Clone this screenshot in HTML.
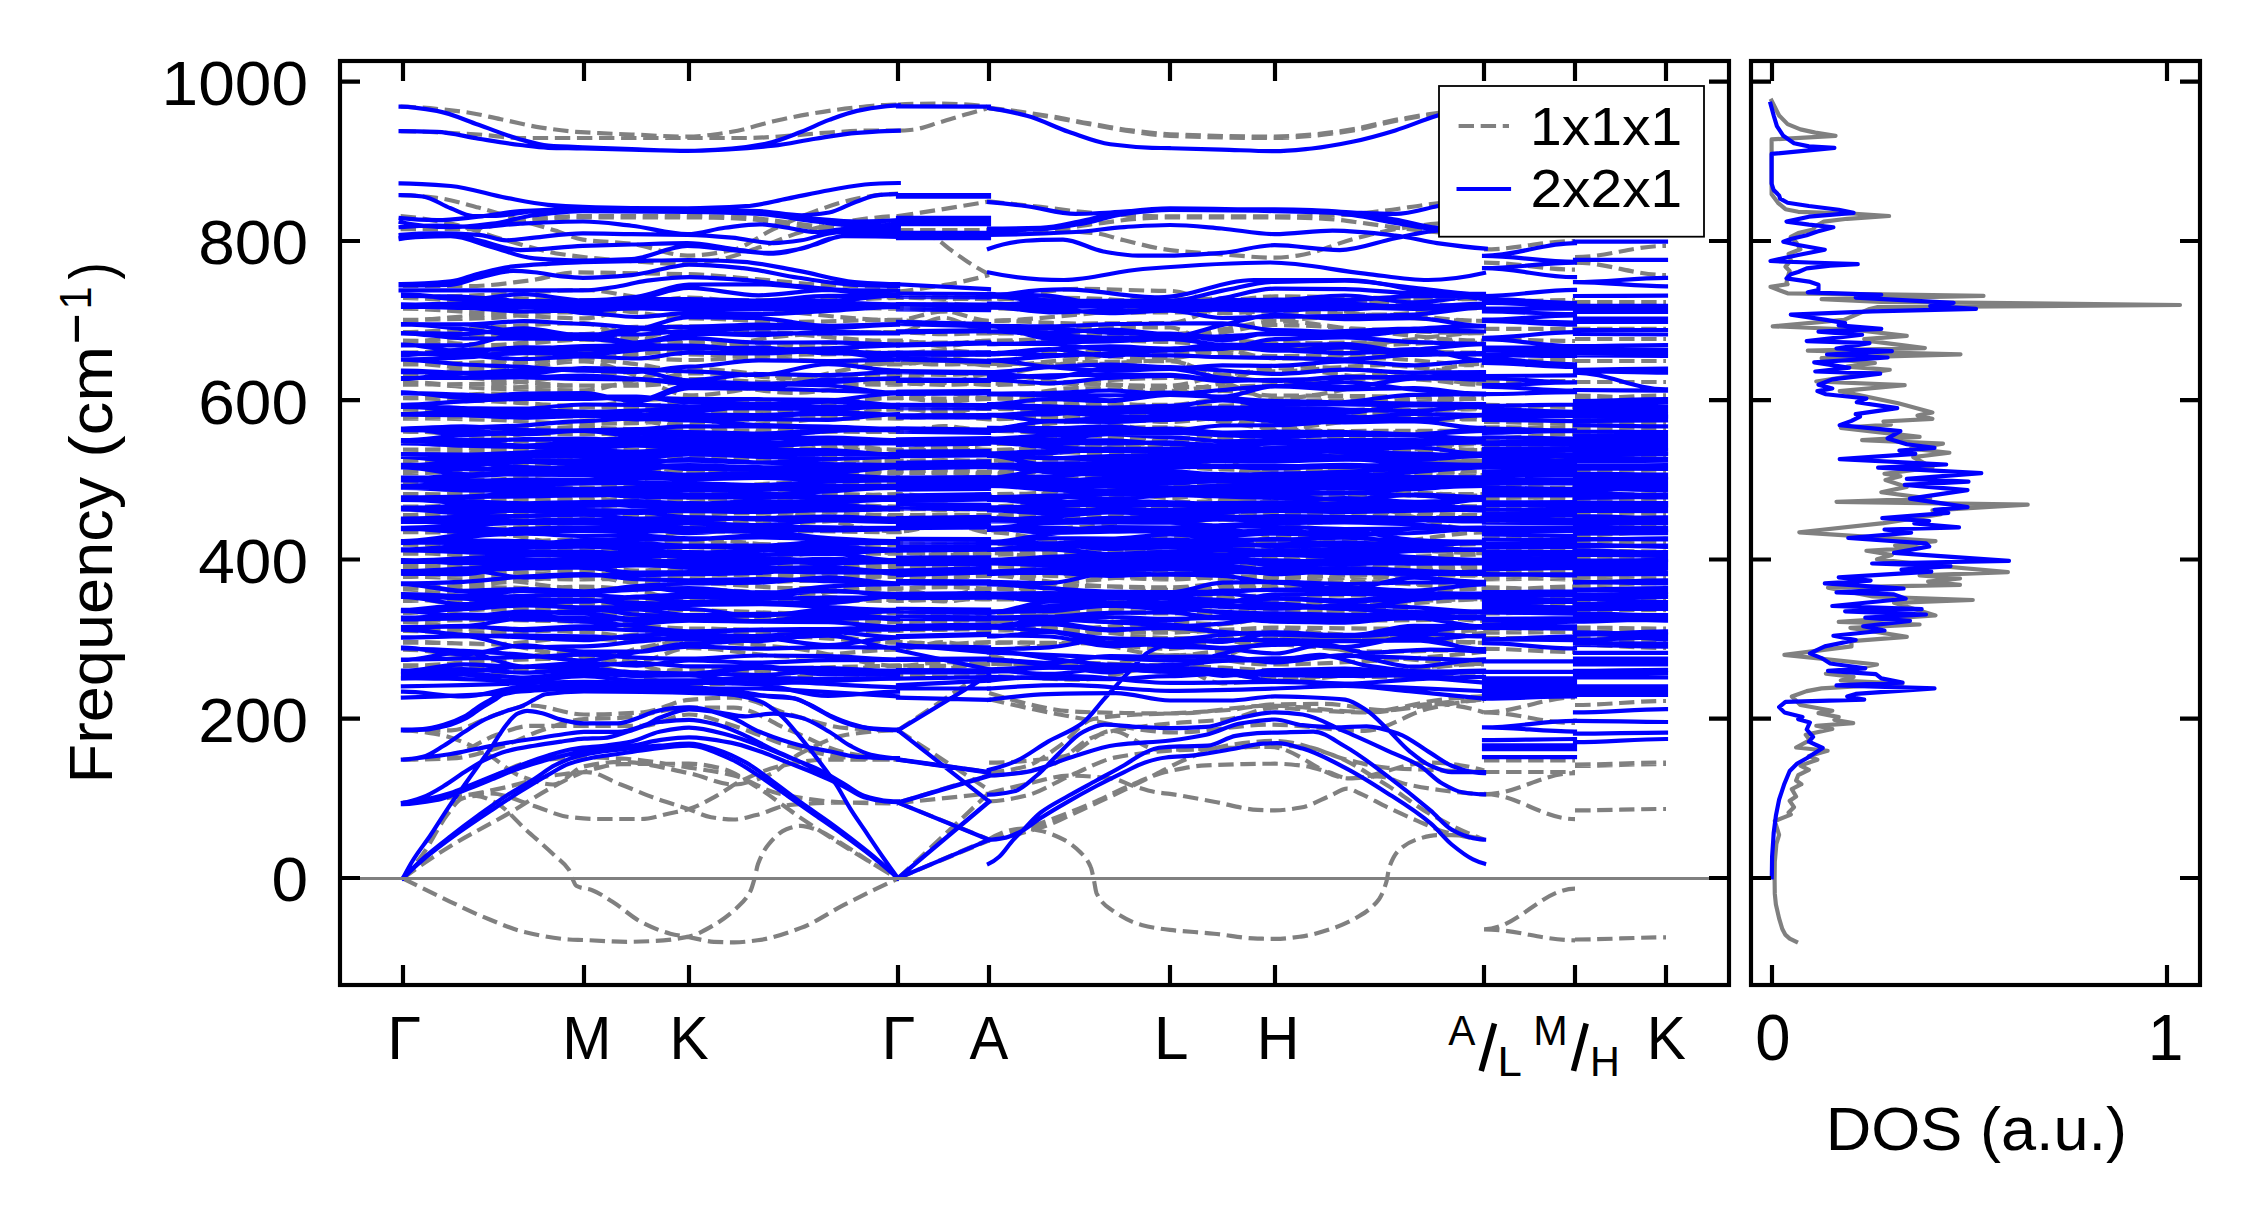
<!DOCTYPE html>
<html><head><meta charset="utf-8"><title>Phonon bands</title>
<style>html,body{margin:0;padding:0;background:#fff}svg{display:block}text{font-family:"Liberation Sans",sans-serif;fill:#000}</style></head>
<body>
<svg width="2259" height="1221" viewBox="0 0 2259 1221">
<rect width="2259" height="1221" fill="#fff"/>
<g fill="none" stroke="#808080" stroke-width="4.17" stroke-dasharray="15.4 6.67" stroke-linejoin="round">
<path d="M403 297.4c30.2 0 60.3-1.7 90.5-2.9 30.2-1.2 60.3-4.5 90.5-4.5 17.5 0 35 4.5 52.5 7.2 17.5 2.7 35 9.3 52.5 9.3 34.8 0 69.7-3.9 104.5-5.4 34.8-1.4 69.7-3.7 104.5-3.7 15.2 0 30.3 1.4 45.5 1.4 15.2 0 30.3 0 45.5 0 30.2 0 60.3-10 90.5-10 30.2 0 60.3 2.1 90.5 2.1 17.5 0 35 11.8 52.5 13.4 17.5 1.6 35 3 52.5 3 34.8 0 69.7-5.9 104.5-6.8 34.8-0.9 69.7-1.7 104.5-1.7M403 297.8c30.2 0 60.3-0.1 90.5-0.1 30.2 0 60.3 3.2 90.5 3.2 17.5 0 35 3.7 52.5 3.7 17.5 0 35-4 52.5-4 34.8 0 69.7-0.4 104.5-0.8 34.8-0.4 69.7-2 104.5-2 15.2 0 30.3-0.1 45.5-0.1 15.2 0 30.3-0.3 45.5-0.3 30.2 0 60.3 0.3 90.5 0.7 30.2 0.4 60.3 4.1 90.5 4.1 17.5 0 35-3.7 52.5-3.7 17.5 0 35 5.2 52.5 5.2 34.8 0 69.7-1.6 104.5-2.6 34.8-1 69.7-3.7 104.5-3.7M403 298c30.2 0 60.3 4.2 90.5 4.2 30.2 0 60.3-0.8 90.5-0.8 17.5 0 35-2.8 52.5-2.8 17.5 0 35 1.2 52.5 1.2 34.8 0 69.7 2 104.5 2 34.8 0 69.7-3.8 104.5-3.8 15.2 0 30.3-1.8 45.5-1.8 15.2 0 30.3 3 45.5 3 30.2 0 60.3 0.2 90.5 0.4 30.2 0.2 60.3 3.5 90.5 3.5 17.5 0 35-1.2 52.5-2.2 17.5-1 35-4.5 52.5-4.5 34.8 0 69.7 1 104.5 1.4 34.8 0.5 69.7 1.4 104.5 1.4M403 306.9c30.2 0 60.3 0.7 90.5 0.7 30.2 0 60.3-1.6 90.5-1.6 17.5 0 35-1.8 52.5-1.8 17.5 0 35 0.8 52.5 0.8 34.8 0 69.7-0.8 104.5-0.8 34.8 0 69.7 2.7 104.5 2.7 15.2 0 30.3-3.5 45.5-3.5 15.2 0 30.3 2.8 45.5 2.8 30.2 0 60.3-3 90.5-3 30.2 0 60.3 1.1 90.5 1.1 17.5 0 35-2.6 52.5-2.6 17.5 0 35 1 52.5 1 34.8 0 69.7-0.7 104.5-0.7 34.8 0 69.7 4.2 104.5 4.2M403 307.8c30.2 0 60.3-2.1 90.5-3.3 30.2-1.3 60.3-4.4 90.5-4.4 17.5 0 35 0.3 52.5 0.6 17.5 0.4 35 2.9 52.5 2.9 34.8 0 69.7-1.2 104.5-1.2 34.8 0 69.7 5.4 104.5 5.4 15.2 0 30.3 3.8 45.5 3.8 15.2 0 30.3-4.4 45.5-4.4 30.2 0 60.3-4.1 90.5-5.3 30.2-1.1 60.3-2.5 90.5-2.5 17.5 0 35-0.7 52.5-0.7 17.5 0 35 3.4 52.5 3.4 34.8 0 69.7 4.3 104.5 4.6 34.8 0.3 69.7 0.5 104.5 0.5M403 308.7c30.2 0 60.3 4.2 90.5 4.2 30.2 0 60.3-0.6 90.5-0.6 17.5 0 35-4 52.5-4 17.5 0 35 0.8 52.5 0.8 34.8 0 69.7-3.3 104.5-3.3 34.8 0 69.7 2.9 104.5 2.9 15.2 0 30.3-2.3 45.5-2.3 15.2 0 30.3 1.8 45.5 1.8 30.2 0 60.3 4.5 90.5 4.5 30.2 0 60.3-0.2 90.5-0.2 17.5 0 35-1.9 52.5-2.5 17.5-0.5 35-1.1 52.5-1.1 34.8 0 69.7-2 104.5-2 34.8 0 69.7 1.3 104.5 1.3M403 307.6c30.2 0 60.3-1 90.5-1.5 30.2-0.5 60.3-1.4 90.5-1.4 17.5 0 35 4.2 52.5 4.2 17.5 0 35-3.4 52.5-3.4 34.8 0 69.7-3.3 104.5-3.3 34.8 0 69.7 5.4 104.5 5.4 15.2 0 30.3-1.7 45.5-1.7 15.2 0 30.3 0.6 45.5 0.6 30.2 0 60.3-6.8 90.5-6.8 30.2 0 60.3 1.9 90.5 1.9 17.5 0 35 11.6 52.5 11.6 17.5 0 35-1.9 52.5-1.9 34.8 0 69.7 3.3 104.5 3.3 34.8 0 69.7-8.1 104.5-8.1M403 319.8c30.2 0 60.3-0.9 90.5-2 30.2-1.1 60.3-10.1 90.5-10.1 17.5 0 35 3 52.5 4.8 17.5 1.8 35 5.9 52.5 5.9 34.8 0 69.7 3.5 104.5 3.5 34.8 0 69.7-2.1 104.5-2.1 15.2 0 30.3-8.5 45.5-8.5 15.2 0 30.3 9.5 45.5 9.5 30.2 0 60.3-3.8 90.5-6.3 30.2-2.4 60.3-8.5 90.5-8.5 17.5 0 35 0.4 52.5 1.1 17.5 0.7 35 12.6 52.5 12.6 34.8 0 69.7-5.1 104.5-5.1 34.8 0 69.7 6.2 104.5 6.2M403 320.2c30.2 0 60.3-5.1 90.5-5.1 30.2 0 60.3 3.3 90.5 3.3 17.5 0 35-9.2 52.5-12.5 17.5-3.4 35-8.4 52.5-8.4 34.8 0 69.7 11.4 104.5 14.9 34.8 3.4 69.7 7.8 104.5 7.8 15.2 0 30.3 4.5 45.5 4.5 15.2 0 30.3-3.9 45.5-3.9 30.2 0 60.3 2.7 90.5 2.7 30.2 0 60.3-0.5 90.5-0.5 17.5 0 35-13.5 52.5-15.7 17.5-2.2 35-4.3 52.5-4.3 34.8 0 69.7 10.7 104.5 13 34.8 2.3 69.7 4.8 104.5 4.8M403 332.1c30.2 0 60.3-3.7 90.5-5.1 30.2-1.5 60.3-3.9 90.5-3.9 17.5 0 35 15.7 52.5 18.9 17.5 3.1 35 6.3 52.5 6.3 34.8 0 69.7-11.3 104.5-13 34.8-1.7 69.7-3.2 104.5-3.2 15.2 0 30.3-14.3 45.5-14.3 15.2 0 30.3 15.1 45.5 15.1 30.2 0 60.3-5.1 90.5-5.2 30.2-0.1 60.3-0.2 90.5-0.2 17.5 0 35 21.4 52.5 21.4 17.5 0 35-1.5 52.5-1.5 34.8 0 69.7-2.6 104.5-4.7 34.8-2.2 69.7-9.8 104.5-9.8M403 332.2c30.2 0 60.3 1 90.5 1.8 30.2 0.7 60.3 2.9 90.5 2.9 17.5 0 35-0.1 52.5-0.3 17.5-0.3 35-5.9 52.5-5.9 34.8 0 69.7 2.3 104.5 2.3 34.8 0 69.7-0.8 104.5-0.8 15.2 0 30.3 2 45.5 2 15.2 0 30.3-0.9 45.5-0.9 30.2 0 60.3 0.7 90.5 1.5 30.2 0.7 60.3 4.7 90.5 4.7 17.5 0 35-4.6 52.5-7 17.5-2.5 35-7.5 52.5-7.5 34.8 0 69.7 3.4 104.5 4.8 34.8 1.3 69.7 3.5 104.5 3.5M403 341.2c30.2 0 60.3-4.7 90.5-5.5 30.2-0.9 60.3-1.7 90.5-1.7 17.5 0 35-6.9 52.5-7.1 17.5-0.3 35-0.5 52.5-0.5 34.8 0 69.7 5.4 104.5 7.8 34.8 2.5 69.7 7 104.5 7 15.2 0 30.3 2.6 45.5 2.6 15.2 0 30.3-3.1 45.5-3.1 30.2 0 60.3-0.6 90.5-1.3 30.2-0.7 60.3-5.3 90.5-5.3 17.5 0 35-2.9 52.5-4.9 17.5-2.1 35-8 52.5-8 34.8 0 69.7 8.1 104.5 11.3 34.8 3.1 69.7 8.2 104.5 8.2M403 340.5c30.2 0 60.3 4.5 90.5 4.5 30.2 0 60.3-10.6 90.5-10.6 17.5 0 35 2.9 52.5 3.9 17.5 0.9 35 2.3 52.5 2.3 34.8 0 69.7 3 104.5 3 34.8 0 69.7-3.1 104.5-3.1 15.2 0 30.3 5.8 45.5 5.8 15.2 0 30.3-5.7 45.5-5.7 30.2 0 60.3-2.1 90.5-3.2 30.2-1.1 60.3-3.4 90.5-3.4 17.5 0 35 3.7 52.5 5.2 17.5 1.4 35 3.6 52.5 3.6 34.8 0 69.7 2 104.5 2 34.8 0 69.7-4.2 104.5-4.2M403 342c30.2 0 60.3 3.6 90.5 3.6 30.2 0 60.3-5.9 90.5-5.9 17.5 0 35 2.2 52.5 2.6 17.5 0.4 35 0.8 52.5 0.8 34.8 0 69.7 0.5 104.5 0.5 34.8 0 69.7-1.6 104.5-1.6 15.2 0 30.3 0.6 45.5 0.6 15.2 0.1 30.3 0.2 45.5 0.2 30.2 0 60.3-3.8 90.5-3.8 30.2 0 60.3 3 90.5 3 17.5 0 35 3.9 52.5 3.9 17.5 0 35-2.4 52.5-2.4 34.8 0 69.7-1.1 104.5-1.1 34.8 0 69.7 0.4 104.5 0.4M403 353.4c30.2 0 60.3-2.3 90.5-2.3 30.2 0 60.3 7.7 90.5 7.7 17.5 0 35-3.2 52.5-4.6 17.5-1.4 35-3.8 52.5-3.8 34.8 0 69.7-3.5 104.5-3.5 34.8 0 69.7 6.5 104.5 6.5 15.2 0 30.3-3.1 45.5-3.1 15.2 0 30.3 2.6 45.5 2.6 30.2 0 60.3 1.8 90.5 2.6 30.2 0.9 60.3 2.5 90.5 2.5 17.5 0 35-6.6 52.5-7.9 17.5-1.3 35-2.5 52.5-2.5 34.8 0 69.7 5.8 104.5 5.8 34.8 0 69.7-0.5 104.5-0.5M403 352.6c30.2 0 60.3-4 90.5-4 30.2 0 60.3 4.7 90.5 4.7 17.5 0 35-2.2 52.5-3.6 17.5-1.4 35-5.2 52.5-5.2 34.8 0 69.7 4.6 104.5 5.7 34.8 1.1 69.7 2.4 104.5 2.4 15.2 0 30.3 4.4 45.5 4.4 15.2 0 30.3-4.3 45.5-4.3 30.2 0 60.3 3.4 90.5 3.4 30.2 0 60.3-2.1 90.5-2.1 17.5 0 35-1.7 52.5-2.8 17.5-1.1 35-4.2 52.5-4.2 34.8 0 69.7 2.2 104.5 3.1 34.8 1 69.7 2.6 104.5 2.6M403 353.8c30.2 0 60.3-2.4 90.5-3.6 30.2-1.1 60.3-3.3 90.5-3.3 17.5 0 35 8.9 52.5 10.4 17.5 1.4 35 2.7 52.5 2.7 34.8 0 69.7-4.7 104.5-5.3 34.8-0.5 69.7-0.9 104.5-0.9 15.2 0 30.3 2 45.5 2 15.2 0 30.3-1.5 45.5-1.5 30.2 0 60.3-1.7 90.5-2.3 30.2-0.7 60.3-1.8 90.5-1.8 17.5 0 35 2.9 52.5 3.8 17.5 0.9 35 2.1 52.5 2.1 34.8 0 69.7-1.7 104.5-1.8 34.8 0 69.7 0 104.5 0M403 363c30.2 0 60.3 7.3 90.5 7.3 30.2 0 60.3-9 90.5-9 17.5 0 35 9.1 52.5 14.6 17.5 5.6 35 19.5 52.5 19.5 34.8 0 69.7-9.8 104.5-15.2 34.8-5.4 69.7-17.2 104.5-17.2 15.2 0 30.3 1.5 45.5 1.5 15.2 0 30.3-0.7 45.5-0.7 30.2 0 60.3 0.6 90.5 0.6 30.2 0 60.3-4.1 90.5-4.1 17.5 0 35 14.6 52.5 20.9 17.5 6.3 35 17.4 52.5 17.4 34.8 0 69.7-10 104.5-15.7 34.8-5.8 69.7-19.1 104.5-19.1M403 364.4c30.2 0 60.3-1.2 90.5-2.6 30.2-1.4 60.3-9.9 90.5-9.9 17.5 0 35-4.2 52.5-4.2 17.5 0 35 6.7 52.5 6.7 34.8 0 69.7 3.4 104.5 5.1 34.8 1.7 69.7 4.9 104.5 4.9 15.2 0 30.3-4 45.5-4 15.2 0 30.3 5 45.5 5 30.2 0 60.3-4.2 90.5-6.7 30.2-2.5 60.3-8.5 90.5-8.5 17.5 0 35-0.1 52.5-0.1 17.5 0 35 8.3 52.5 8.3 34.8 0 69.7 0 104.5 0 34.8 0.1 69.7 7 104.5 7M403 374.3c30.2 0 60.3 3.6 90.5 5.5 30.2 2 60.3 5.9 90.5 5.9 17.5 0 35-0.5 52.5-1.4 17.5-0.8 35-11 52.5-11 34.8 0 69.7 2.5 104.5 2.5 34.8 0 69.7-1.5 104.5-1.5 15.2 0 30.3 0.6 45.5 0.6 15.2 0 30.3-1.4 45.5-1.4 30.2 0 60.3 10.2 90.5 11 30.2 0.7 60.3 1.2 90.5 1.2 17.5 0 35-8.5 52.5-10.4 17.5-1.9 35-4 52.5-4 34.8 0 69.7-6.1 104.5-6.1 34.8 0 69.7 8.3 104.5 8.3M403 375.1c30.2 0 60.3-7 90.5-9.5 30.2-2.6 60.3-6.3 90.5-6.3 17.5 0 35 3 52.5 5 17.5 2 35 7.2 52.5 7.2 34.8 0 69.7 6.9 104.5 6.9 34.8 0 69.7-3.3 104.5-3.3 15.2 0 30.3 8.3 45.5 8.3 15.2 0 30.3-9.2 45.5-9.2 30.2 0 60.3-11.1 90.5-11.9 30.2-0.7 60.3-1.2 90.5-1.2 17.5 0 35 13.6 52.5 13.6 17.5 0 35-6.5 52.5-6.5 34.8 0 69.7 9.3 104.5 9.3 34.8 0 69.7-3.3 104.5-3.3M403 382.1c30.2 0 60.3 5.4 90.5 5.4 30.2 0 60.3-1.9 90.5-1.9 17.5 0 35 0.1 52.5 0.1 17.5 0 35-3.2 52.5-3.2 34.8 0 69.7 10.3 104.5 10.3 34.8 0 69.7-10.7 104.5-10.7 15.2 0 30.3 0.8 45.5 0.8 15.2 0 30.3-0.1 45.5-0.1 30.2 0 60.3 0.1 90.5 0.2 30.2 0.1 60.3 4.2 90.5 4.2 17.5 0 35-0.2 52.5-0.3 17.5-0.2 35-1.6 52.5-1.6 34.8 0 69.7-7.1 104.5-7.1 34.8 0 69.7 4.6 104.5 4.6M403 383.3c30.2 0 60.3 4.5 90.5 5.4 30.2 0.8 60.3 1.7 90.5 1.7 17.5 0 35-7.5 52.5-11.1 17.5-3.6 35-10.5 52.5-10.5 34.8 0 69.7 6.2 104.5 8.6 34.8 2.3 69.7 5.9 104.5 5.9 15.2 0 30.3 1.5 45.5 1.5 15.2 0 30.3-1.2 45.5-1.2 30.2 0 60.3-0.2 90.5-0.2 30.2 0 60.3 7.4 90.5 7.4 17.5 0 35-4.1 52.5-7.6 17.5-3.5 35-17.4 52.5-17.4 34.8 0 69.7 2.8 104.5 5.2 34.8 2.5 69.7 12.6 104.5 12.6M403 384.6c30.2 0 60.3-0.4 90.5-0.9 30.2-0.4 60.3-7.4 90.5-7.4 17.5 0 35-4.5 52.5-4.5 17.5 0 35 7.2 52.5 7.2 34.8 0 69.7 3.5 104.5 4.2 34.8 0.7 69.7 1.4 104.5 1.4 15.2 0 30.3-2.8 45.5-2.8 15.2 0 30.3 3.1 45.5 3.1 30.2 0 60.3-2.2 90.5-3.4 30.2-1.1 60.3-3.7 90.5-3.7 17.5 0 35-0.5 52.5-0.5 17.5 0 35 4.1 52.5 4.1 34.8 0 69.7-6.3 104.5-6.3 34.8 0 69.7 9.8 104.5 9.8M403 398.2c30.2 0 60.3-4.5 90.5-4.5 30.2 0 60.3 3.7 90.5 3.7 17.5 0 35 0.9 52.5 1.1 17.5 0.2 35 0.4 52.5 0.4 34.8 0 69.7 2 104.5 2 34.8 0 69.7-2.7 104.5-2.7 15.2 0 30.3-5.3 45.5-5.3 15.2 0 30.3 5.6 45.5 5.6 30.2 0 60.3-10.7 90.5-10.7 30.2 0 60.3 5.1 90.5 5.1 17.5 0 35-1.9 52.5-1.9 17.5 0 35 4.6 52.5 4.6 34.8 0 69.7 0.3 104.5 0.7 34.8 0.4 69.7 2.2 104.5 2.2M403 398.2c30.2 0 60.3 1.2 90.5 2.4 30.2 1.2 60.3 6.4 90.5 6.4 17.5 0 35-5.8 52.5-6.7 17.5-0.9 35-1.6 52.5-1.6 34.8 0 69.7 2.5 104.5 2.5 34.8 0 69.7-3 104.5-3 15.2 0 30.3 3.5 45.5 3.5 15.2 0 30.3-2.8 45.5-2.8 30.2 0 60.3 5 90.5 5.4 30.2 0.4 60.3 0.6 90.5 0.6 17.5 0 35-5.1 52.5-5.1 17.5 0 35 0.8 52.5 0.8 34.8 0 69.7-0.3 104.5-0.6 34.8-0.2 69.7-1.1 104.5-1.1M403 398.2c30.2 0 60.3 2.1 90.5 3.3 30.2 1.3 60.3 4.4 90.5 4.4 17.5 0 35 0 52.5 0.1 17.5 0.1 35 7.9 52.5 7.9 34.8 0 69.7-3.1 104.5-5.4 34.8-2.4 69.7-10.3 104.5-10.3 15.2 0 30.3 0.3 45.5 0.3 15.2 0 30.3-0.3 45.5-0.3 30.2 0 60.3 1.5 90.5 2.7 30.2 1.2 60.3 5.3 90.5 5.3 17.5 0 35 7.9 52.5 7.9 17.5 0 35 0 52.5 0 34.8 0 69.7-3.4 104.5-5.9 34.8-2.4 69.7-10 104.5-10M403 408.4c30.2 0 60.3 1.7 90.5 1.7 30.2 0 60.3-2.6 90.5-2.6 17.5 0 35 0 52.5 0 17.5 0 35-6 52.5-6 34.8 0 69.7 4.4 104.5 5.3 34.8 0.8 69.7 1.6 104.5 1.6 15.2 0 30.3-3.5 45.5-3.5 15.2 0 30.3 2.7 45.5 2.7 30.2 0 60.3-1.8 90.5-1.8 30.2 0 60.3 0 90.5 0 17.5 0 35 0 52.5-0.1 17.5 0 35-5 52.5-5 34.8 0 69.7 0.8 104.5 1.6 34.8 0.8 69.7 5.3 104.5 5.3M403 408.8c30.2 0 60.3 1.9 90.5 2.8 30.2 0.9 60.3 2.6 90.5 2.6 17.5 0 35-0.6 52.5-1.2 17.5-0.6 35-3.2 52.5-3.2 34.8 0 69.7 2.8 104.5 2.8 34.8 0 69.7-3.8 104.5-3.8 15.2 0 30.3 2.8 45.5 2.8 15.2 0 30.3-3.1 45.5-3.1 30.2 0 60.3 3.8 90.5 3.8 30.2 0 60.3-0.4 90.5-0.4 17.5 0 35-1.6 52.5-2.2 17.5-0.6 35-1.4 52.5-1.4 34.8 0 69.7 2.2 104.5 2.2 34.8 0 69.7-2 104.5-2M403 409.3c30.2 0 60.3 2.6 90.5 2.8 30.2 0.2 60.3 0.4 90.5 0.4 17.5 0 35 4.7 52.5 7.2 17.5 2.5 35 7.9 52.5 7.9 34.8 0 69.7-3.4 104.5-6.1 34.8-2.7 69.7-12.2 104.5-12.2 15.2 0 30.3 0.4 45.5 0.4 15.2 0 30.3-2 45.5-2 30.2 0 60.3-0.2 90.5-0.2 30.2 0 60.3 3 90.5 3 17.5 0 35 8.9 52.5 11.6 17.5 2.6 35 5.9 52.5 5.9 34.8 0 69.7-7.3 104.5-10.7 34.8-3.3 69.7-9.6 104.5-9.6M403 409.7c30.2 0 60.3 3.6 90.5 4.5 30.2 0.9 60.3 1.9 90.5 1.9 17.5 0 35-6.3 52.5-6.3 17.5 0 35 0.3 52.5 0.3 34.8 0 69.7-0.1 104.5-0.2 34.8-0.1 69.7-0.2 104.5-0.2 15.2 0 30.3-2.4 45.5-2.4 15.2 0 30.3 1.7 45.5 1.7 30.2 0 60.3 0.3 90.5 0.7 30.2 0.4 60.3 4.9 90.5 4.9 17.5 0 35-7.9 52.5-7.9 17.5 0 35 0.3 52.5 0.3 34.8 0 69.7 5.7 104.5 5.7 34.8 0 69.7-3.7 104.5-3.7M403 417.6c30.2 0 60.3-0.8 90.5-1 30.2-0.1 60.3-0.3 90.5-0.3 17.5 0 35-0.9 52.5-1.6 17.5-0.7 35-2.8 52.5-2.8 34.8 0 69.7 5.2 104.5 5.4 34.8 0.2 69.7 0.3 104.5 0.3 15.2 0 30.3-0.5 45.5-0.5 15.2 0 30.3-0.1 45.5-0.1 30.2 0 60.3 0.7 90.5 0.7 30.2 0 60.3-1.7 90.5-1.7 17.5 0 35-5.3 52.5-5.3 17.5 0 35 0.7 52.5 0.7 34.8 0 69.7 2.4 104.5 3.3 34.8 0.9 69.7 2.3 104.5 2.3M403 418.2c30.2 0 60.3 1 90.5 1.8 30.2 0.9 60.3 3.9 90.5 3.9 17.5 0 35-0.4 52.5-0.8 17.5-0.4 35-3.3 52.5-3.3 34.8 0 69.7-0.2 104.5-0.4 34.8-0.1 69.7-1.2 104.5-1.2 15.2 0 30.3-2.9 45.5-2.9 15.2 0 30.3 4 45.5 4 30.2 0 60.3-3.2 90.5-3.2 30.2 0 60.3 5.9 90.5 5.9 17.5 0 35-4 52.5-4 17.5 0 35 1 52.5 1 34.8 0 69.7 2 104.5 2 34.8 0 69.7-1.7 104.5-1.7M403 418.6c30.2 0 60.3 0.1 90.5 0.1 30.2 0 60.3-2.4 90.5-2.4 17.5 0 35 3.6 52.5 4.5 17.5 1 35 2.1 52.5 2.1 34.8 0 69.7-8.1 104.5-8.1 34.8 0 69.7 3.8 104.5 3.8 15.2 0 30.3-7.8 45.5-7.8 15.2 0 30.3 8.1 45.5 8.1 30.2 0 60.3-2.9 90.5-2.9 30.2 0 60.3 0.8 90.5 0.8 17.5 0 35 1.7 52.5 2.9 17.5 1.1 35 4.7 52.5 4.7 34.8 0 69.7-4 104.5-4.5 34.8-0.6 69.7-1 104.5-1M403 431c30.2 0 60.3 2.6 90.5 2.8 30.2 0.2 60.3 0.3 90.5 0.3 17.5 0 35-0.3 52.5-0.3 17.5 0 35 0.8 52.5 0.8 34.8 0 69.7-5.9 104.5-5.9 34.8 0 69.7 2.3 104.5 2.3 15.2 0 30.3-3.1 45.5-3.1 15.2 0 30.3 3 45.5 3 30.2 0 60.3 3 90.5 4.3 30.2 1.2 60.3 3.3 90.5 3.3 17.5 0 35-2.1 52.5-3.3 17.5-1.2 35-3.8 52.5-3.8 34.8 0 69.7-0.5 104.5-0.5 34.8 0 69.7 0 104.5 0M403 431c30.2 0 60.3 5.7 90.5 5.7 30.2 0 60.3-8.9 90.5-8.9 17.5 0 35 0.9 52.5 1.7 17.5 0.7 35 3.3 52.5 3.3 34.8 0 69.7-0.2 104.5-0.5 34.8-0.2 69.7-1.3 104.5-1.3 15.2 0 30.3-3.3 45.5-3.3 15.2 0 30.3 3.1 45.5 3.1 30.2 0 60.3-2.6 90.5-2.9 30.2-0.3 60.3-0.5 90.5-0.5 17.5 0 35 5.1 52.5 6.5 17.5 1.4 35 3.1 52.5 3.1 34.8 0 69.7-0.6 104.5-1.3 34.8-0.7 69.7-4.9 104.5-4.9M403 432c30.2 0 60.3-1.8 90.5-2.5 30.2-0.7 60.3-1.7 90.5-1.7 17.5 0 35 2.2 52.5 2.3 17.5 0 35 0 52.5 0 34.8 0 69.7 0.8 104.5 1.1 34.8 0.3 69.7 0.8 104.5 0.8 15.2 0 30.3-5.9 45.5-5.9 15.2 0 30.3 4.5 45.5 4.5 30.2 0 60.3-9.2 90.5-9.2 30.2 0 60.3 9.1 90.5 9.1 17.5 0 35 5.9 52.5 5.9 17.5 0 35-6.9 52.5-6.9 34.8 0 69.7 2.8 104.5 2.8 34.8 0 69.7-1.7 104.5-1.7M403 442.5c30.2 0 60.3-0.6 90.5-0.8 30.2-0.2 60.3-0.5 90.5-0.5 17.5 0 35-5.1 52.5-5.1 17.5 0 35 4.1 52.5 4.1 34.8 0 69.7-2.2 104.5-2.2 34.8 0 69.7 4.5 104.5 4.5 15.2 0 30.3 4.1 45.5 4.1 15.2 0 30.3-3.1 45.5-3.1 30.2 0 60.3-8.2 90.5-8.2 30.2 0 60.3 6.5 90.5 6.5 17.5 0 35-2.3 52.5-2.8 17.5-0.5 35-1.1 52.5-1.1 34.8 0 69.7 4.8 104.5 5.1 34.8 0.3 69.7 0.5 104.5 0.5M403 442.4c30.2 0 60.3 3.7 90.5 5.4 30.2 1.6 60.3 4.6 90.5 4.6 17.5 0 35 4.2 52.5 4.8 17.5 0.6 35 1 52.5 1 34.8 0 69.7-5.6 104.5-8.2 34.8-2.6 69.7-7.6 104.5-7.6 15.2 0 30.3 6.6 45.5 6.6 15.2 0 30.3-5.1 45.5-5.1 30.2 0 60.3 0.2 90.5 0.7 30.2 0.4 60.3 5.8 90.5 5.8 17.5 0 35 0.8 52.5 1.8 17.5 1 35 8.6 52.5 8.6 34.8 0 69.7-5 104.5-7.8 34.8-2.8 69.7-9.1 104.5-9.1M403 442.4c30.2 0 60.3 6.8 90.5 7.2 30.2 0.5 60.3 0.8 90.5 0.8 17.5 0 35 0.4 52.5 0.7 17.5 0.3 35 1 52.5 1 34.8 0 69.7-1.2 104.5-2.5 34.8-1.2 69.7-7.2 104.5-7.2 15.2 0 30.3-1.1 45.5-1.1 15.2 0 30.3 1.4 45.5 1.4 30.2 0 60.3 0.4 90.5 0.9 30.2 0.6 60.3 6.3 90.5 6.3 17.5 0 35 5.7 52.5 5.7 17.5 0 35-0.6 52.5-0.6 34.8 0 69.7-1.3 104.5-2.6 34.8-1.4 69.7-9.7 104.5-9.7M403 449.5c30.2 0 60.3 1 90.5 1 30.2 0 60.3-5.6 90.5-5.6 17.5 0 35-5.1 52.5-7.1 17.5-2 35-5.2 52.5-5.2 34.8 0 69.7 3.4 104.5 6 34.8 2.5 69.7 10.9 104.5 10.9 15.2 0 30.3-2.4 45.5-2.4 15.2 0 30.3 2.7 45.5 2.7 30.2 0 60.3-2.7 90.5-3.7 30.2-1.1 60.3-2.8 90.5-2.8 17.5 0 35-2.5 52.5-4.3 17.5-1.7 35-6.7 52.5-6.7 34.8 0 69.7 7 104.5 9.9 34.8 2.8 69.7 7.6 104.5 7.6M403 449.7c30.2 0 60.3-0.9 90.5-0.9 30.2 0 60.3 5.2 90.5 5.2 17.5 0 35-1.1 52.5-1.8 17.5-0.7 35-2.6 52.5-2.6 34.8 0 69.7 0.1 104.5 0.1 34.8 0 69.7 0 104.5 0 15.2 0 30.3 0.4 45.5 0.4 15.2 0 30.3-0.1 45.5-0.1 30.2 0 60.3 1.7 90.5 2.6 30.2 0.9 60.3 2.7 90.5 2.7 17.5 0 35-2.8 52.5-4 17.5-1.2 35-3.1 52.5-3.1 34.8 0 69.7 2.2 104.5 2.2 34.8 0 69.7-0.4 104.5-0.4M403 451.1c30.2 0 60.3 0 90.5 0 30.2 0 60.3-0.5 90.5-0.5 17.5 0 35-0.4 52.5-0.7 17.5-0.3 35-1.5 52.5-1.5 34.8 0 69.7-0.1 104.5-0.1 34.8 0 69.7 2.8 104.5 2.8 15.2 0 30.3 0.4 45.5 0.4 15.2 0 30.3-1.2 45.5-1.2 30.2 0 60.3-0.8 90.5-1 30.2-0.3 60.3-0.5 90.5-0.5 17.5 0 35-4.7 52.5-4.7 17.5 0 35 4.3 52.5 4.3 34.8 0 69.7 2 104.5 2 34.8 0 69.7-0.1 104.5-0.1M403 460.5c30.2 0 60.3-2.4 90.5-3.3 30.2-0.9 60.3-2.3 90.5-2.3 17.5 0 35 4 52.5 4 17.5 0 35 0 52.5 0 34.8 0 69.7 0.3 104.5 0.5 34.8 0.2 69.7 1.1 104.5 1.1 15.2 0 30.3-0.1 45.5-0.1 15.2 0 30.3 0.2 45.5 0.2 30.2 0 60.3-0.8 90.5-1.3 30.2-0.6 60.3-2.2 90.5-2.2 17.5 0 35 0.2 52.5 0.3 17.5 0.1 35 0.4 52.5 0.4 34.8 0 69.7 0.2 104.5 0.4 34.8 0.3 69.7 2.4 104.5 2.4M403 460.9c30.2 0 60.3-5 90.5-5 30.2 0 60.3 2.9 90.5 2.9 17.5 0 35 3.4 52.5 3.4 17.5 0 35-4.8 52.5-4.8 34.8 0 69.7-1.8 104.5-1.8 34.8 0 69.7 5.3 104.5 5.3 15.2 0 30.3-0.7 45.5-0.7 15.2 0 30.3 0.9 45.5 0.9 30.2 0 60.3 0.8 90.5 0.8 30.2 0 60.3-2.1 90.5-2.1 17.5 0 35-0.3 52.5-0.6 17.5-0.4 35-2.4 52.5-2.4 34.8 0 69.7 3 104.5 3.5 34.8 0.4 69.7 0.8 104.5 0.8M403 461c30.2 0 60.3-2.7 90.5-4.7 30.2-2 60.3-8.1 90.5-8.1 17.5 0 35 11 52.5 14.7 17.5 3.7 35 9 52.5 9 34.8 0 69.7-3 104.5-4.8 34.8-1.8 69.7-6.1 104.5-6.1 15.2 0 30.3 6.3 45.5 6.3 15.2 0 30.3-6.6 45.5-6.6 30.2 0 60.3-7.8 90.5-10.2 30.2-2.4 60.3-5.7 90.5-5.7 17.5 0 35 10.4 52.5 15.4 17.5 4.9 35 14.4 52.5 14.4 34.8 0 69.7-5.5 104.5-7.8 34.8-2.3 69.7-6.1 104.5-6.1M403 463c30.2 0 60.3-0.2 90.5-0.2 30.2 0 60.3 2.2 90.5 2.2 17.5 0 35 2 52.5 2.6 17.5 0.6 35 1.4 52.5 1.4 34.8 0 69.7 0.2 104.5 0.2 34.8 0 69.7-6.2 104.5-6.2 15.2 0 30.3-1.8 45.5-1.8 15.2 0 30.3 1.3 45.5 1.3 30.2 0 60.3 0.1 90.5 0.3 30.2 0.2 60.3 3.4 90.5 3.4 17.5 0 35 3.3 52.5 3.3 17.5 0.1 35 0.1 52.5 0.1 34.8 0 69.7-1.3 104.5-2.3 34.8-1.1 69.7-4.8 104.5-4.8M403 472.5c30.2 0 60.3-0.7 90.5-1.5 30.2-0.8 60.3-10 90.5-10 17.5 0 35 6.1 52.5 7.5 17.5 1.4 35 3 52.5 3 34.8 0 69.7 1 104.5 1 34.8 0 69.7 0 104.5 0 15.2 0 30.3 0 45.5 0 15.2 0 30.3 1.5 45.5 1.5 30.2 0 60.3-3 90.5-4.8 30.2-1.7 60.3-5.7 90.5-5.7 17.5 0 35 2.4 52.5 3.7 17.5 1.4 35 4.5 52.5 4.5 34.8 0 69.7-1.8 104.5-1.8 34.8 0 69.7 4.1 104.5 4.1M403 471.4c30.2 0 60.3-2 90.5-3 30.2-1 60.3-3.1 90.5-3.1 17.5 0 35 1.4 52.5 2.2 17.5 0.8 35 3 52.5 3 34.8 0 69.7-0.1 104.5-0.1 34.8 0 69.7 1 104.5 1 15.2 0 30.3-0.9 45.5-0.9 15.2 0 30.3 1.2 45.5 1.2 30.2 0 60.3 0.1 90.5 0.1 30.2 0 60.3-7.9 90.5-7.9 17.5 0 35 4.3 52.5 5.2 17.5 1 35 2 52.5 2 34.8 0 69.7 2.5 104.5 2.5 34.8 0 69.7-1.9 104.5-1.9M403 472c30.2 0 60.3-4.7 90.5-6 30.2-1.4 60.3-3 90.5-3 17.5 0 35 1 52.5 2 17.5 1 35 7.2 52.5 7.2 34.8 0 69.7-0.8 104.5-0.8 34.8 0 69.7 0.6 104.5 0.6 15.2 0 30.3 1.3 45.5 1.3 15.2 0 30.3 0 45.5 0 30.2 0 60.3-3.8 90.5-5.1 30.2-1.3 60.3-3.3 90.5-3.3 17.5 0 35 1.9 52.5 3.1 17.5 1.2 35 4.1 52.5 4.1 34.8 0 69.7 3 104.5 3 34.8 0 69.7-1.8 104.5-1.8M403 473.3c30.2 0 60.3-1.9 90.5-3.1 30.2-1.3 60.3-4.7 90.5-4.7 17.5 0 35 1.9 52.5 3.6 17.5 1.8 35 9 52.5 9 34.8 0 69.7-2.9 104.5-3.6 34.8-0.6 69.7-1.2 104.5-1.2 15.2 0 30.3-1 45.5-1 15.2 0 30.3 2.7 45.5 2.7 30.2 0 60.3-3.9 90.5-6.1 30.2-2.2 60.3-7.1 90.5-7.1 17.5 0 35 3.2 52.5 5.8 17.5 2.7 35 12.3 52.5 12.3 34.8 0 69.7-2.2 104.5-3 34.8-0.8 69.7-1.9 104.5-1.9M403 482.4c30.2 0 60.3-1.5 90.5-2.9 30.2-1.3 60.3-6.7 90.5-6.7 17.5 0 35 5.2 52.5 7.8 17.5 2.6 35 7.7 52.5 7.7 34.8 0 69.7-5.2 104.5-5.5 34.8-0.2 69.7-0.4 104.5-0.4 15.2 0 30.3-1.6 45.5-1.6 15.2 0 30.3 1.8 45.5 1.8 30.2 0 60.3-2.8 90.5-4.3 30.2-1.6 60.3-5 90.5-5 17.5 0 35 7 52.5 9.7 17.5 2.7 35 7.1 52.5 7.1 34.8 0 69.7-0.7 104.5-1.4 34.8-0.8 69.7-6.1 104.5-6.1M403 483.3c30.2 0 60.3 1.3 90.5 2.1 30.2 0.8 60.3 2.9 90.5 2.9 17.5 0 35-4.5 52.5-4.5 17.5 0 35 2.6 52.5 2.6 34.8 0 69.7 2.3 104.5 2.3 34.8 0 69.7-5.4 104.5-5.4 15.2 0 30.3 1.5 45.5 1.5 15.2 0 30.3-0.2 45.5-0.2 30.2 0 60.3 1.3 90.5 1.3 30.2 0 60.3-0.9 90.5-0.9 17.5 0 35 1.1 52.5 1.1 17.5 0 35-0.5 52.5-0.5 34.8 0 69.7-3.3 104.5-3.3 34.8 0 69.7 2.3 104.5 2.3M403 483.9c30.2 0 60.3 3.6 90.5 5.7 30.2 2.2 60.3 7.5 90.5 7.5 17.5 0 35-3.8 52.5-6 17.5-2.2 35-7.4 52.5-7.4 34.8 0 69.7 2.8 104.5 2.8 34.8 0 69.7-2.6 104.5-2.6 15.2 0 30.3 0.4 45.5 0.4 15.2 0.1 30.3 0.2 45.5 0.2 30.2 0 60.3-1.5 90.5-1.5 30.2 0 60.3 15.1 90.5 15.1 17.5 0 35-5.4 52.5-7.7 17.5-2.4 35-6.5 52.5-6.5 34.8 0 69.7 1.2 104.5 1.2 34.8 0 69.7-0.6 104.5-0.6M403 494c30.2 0 60.3 1.1 90.5 1.1 30.2 0 60.3-5.9 90.5-5.9 17.5 0 35 5.1 52.5 6.3 17.5 1.2 35 2.5 52.5 2.5 34.8 0 69.7 4.7 104.5 4.7 34.8 0 69.7-8.7 104.5-8.7 15.2 0 30.3 3.9 45.5 3.9 15.2 0 30.3-3.9 45.5-3.9 30.2 0 60.3-0.2 90.5-0.6 30.2-0.3 60.3-7.8 90.5-7.8 17.5 0 35 8.5 52.5 11.2 17.5 2.6 35 6.1 52.5 6.1 34.8 0 69.7-7.8 104.5-8.2 34.8-0.4 69.7-0.7 104.5-0.7M403 495.1c30.2 0 60.3 4.6 90.5 4.8 30.2 0.1 60.3 0.2 90.5 0.2 17.5 0 35-0.7 52.5-1.4 17.5-0.7 35-4.6 52.5-4.6 34.8 0 69.7-0.9 104.5-0.9 34.8 0 69.7 1.9 104.5 1.9 15.2 0 30.3 2 45.5 2 15.2 0 30.3-1 45.5-1 30.2 0 60.3 0.5 90.5 0.5 30.2 0 60.3-1.8 90.5-1.8 17.5 0 35-1.2 52.5-1.2 17.5 0 35 1.3 52.5 1.3 34.8 0 69.7 0.1 104.5 0.3 34.8 0.1 69.7 0.9 104.5 0.9M403 495.2c30.2 0 60.3-1.1 90.5-1.1 30.2 0 60.3 0.2 90.5 0.2 17.5 0 35 1.2 52.5 1.2 17.5 0 35 0 52.5 0 34.8 0 69.7-1.2 104.5-1.2 34.8 0 69.7 0.9 104.5 0.9 15.2 0 30.3 1.6 45.5 1.6 15.2 0 30.3-1.1 45.5-1.1 30.2 0 60.3-5.2 90.5-5.2 30.2 0 60.3 4.6 90.5 4.6 17.5 0 35-0.7 52.5-0.7 17.5 0 35 0.8 52.5 0.8 34.8 0 69.7-4.1 104.5-4.1 34.8 0 69.7 4.6 104.5 4.6M403 496.2c30.2 0 60.3-4.2 90.5-5.6 30.2-1.3 60.3-3.2 90.5-3.2 17.5 0 35 3.8 52.5 4.8 17.5 1 35 2.2 52.5 2.2 34.8 0 69.7 0.6 104.5 0.9 34.8 0.3 69.7 0.9 104.5 0.9 15.2 0 30.3 0.2 45.5 0.3 15.2 0.2 30.3 0.9 45.5 0.9 30.2 0 60.3-1.7 90.5-2.7 30.2-0.9 60.3-3 90.5-3 17.5 0 35 7.1 52.5 7.1 17.5 0 35-0.6 52.5-0.6 34.8 0 69.7-3.2 104.5-3.2 34.8 0 69.7 2.4 104.5 2.4M403 506.5c30.2 0 60.3 0.2 90.5 0.2 30.2 0 60.3-3.7 90.5-3.7 17.5 0 35-5.2 52.5-5.2 17.5 0 35 1.3 52.5 1.3 34.8 0 69.7 1.6 104.5 2.7 34.8 1.2 69.7 4.7 104.5 4.7 15.2 0 30.3 0.3 45.5 0.3 15.2 0 30.3-0.4 45.5-0.4 30.2 0 60.3-3.8 90.5-4 30.2-0.2 60.3-0.3 90.5-0.3 17.5 0 35-0.6 52.5-1 17.5-0.5 35-1.9 52.5-1.9 34.8 0 69.7 4.2 104.5 5.2 34.8 1 69.7 2 104.5 2M403 507.5c30.2 0 60.3-2.6 90.5-2.6 30.2 0 60.3 1.9 90.5 1.9 17.5 0 35-1.8 52.5-2.7 17.5-0.8 35-2.3 52.5-2.3 34.8 0 69.7 1.2 104.5 2.1 34.8 0.9 69.7 3.6 104.5 3.6 15.2 0 30.3-3.1 45.5-3.1 15.2 0 30.3 4.1 45.5 4.1 30.2 0 60.3-0.6 90.5-0.6 30.2 0 60.3 0 90.5 0 17.5 0 35-4.2 52.5-5.3 17.5-1.1 35-2.4 52.5-2.4 34.8 0 69.7 5.8 104.5 6.7 34.8 0.8 69.7 1.6 104.5 1.6M403 506.9c30.2 0 60.3-2.4 90.5-2.4 30.2 0 60.3 0.5 90.5 0.5 17.5 0 35-1 52.5-2.1 17.5-1.1 35-7.9 52.5-7.9 34.8 0 69.7 3.1 104.5 5 34.8 2 69.7 6.9 104.5 6.9 15.2 0 30.3 3.3 45.5 3.3 15.2 0 30.3-3.2 45.5-3.2 30.2 0 60.3 0 90.5 0 30.2 0 60.3-1.8 90.5-1.8 17.5 0 35-2.4 52.5-3.9 17.5-1.5 35-5.4 52.5-5.4 34.8 0 69.7 5.2 104.5 6.9 34.8 1.7 69.7 4.2 104.5 4.2M403 507.8c30.2 0 60.3 2.8 90.5 2.8 30.2 0 60.3-0.3 90.5-0.3 17.5 0 35 4 52.5 4 17.5 0 35-0.9 52.5-0.9 34.8 0 69.7 0.2 104.5 0.2 34.8 0 69.7-5.8 104.5-5.8 15.2 0 30.3-0.3 45.5-0.3 15.2 0 30.3 1 45.5 1 30.2 0 60.3-1.5 90.5-1.5 30.2 0 60.3 2.8 90.5 2.8 17.5 0 35-3.5 52.5-3.5 17.5 0 35 5.9 52.5 5.9 34.8 0 69.7-2 104.5-2.5 34.8-0.6 69.7-1.2 104.5-1.2M403 509.5c30.2 0 60.3 3.3 90.5 3.7 30.2 0.4 60.3 0.8 90.5 0.8 17.5 0 35 0.7 52.5 0.7 17.5 0 35-0.7 52.5-0.7 34.8 0 69.7-1.3 104.5-2 34.8-0.8 69.7-2.5 104.5-2.5 15.2 0 30.3-0.5 45.5-0.5 15.2 0 30.3 0.7 45.5 0.7 30.2 0 60.3 0.7 90.5 1.4 30.2 0.6 60.3 3.8 90.5 3.8 17.5 0 35-1.2 52.5-1.4 17.5-0.1 35-0.3 52.5-0.3 34.8 0 69.7-0.5 104.5-1 34.8-0.4 69.7-2.5 104.5-2.5M403 515.2c30.2 0 60.3-6.6 90.5-6.6 30.2 0 60.3 0.7 90.5 0.7 17.5 0 35 3.1 52.5 3.2 17.5 0.1 35 0.1 52.5 0.1 34.8 0 69.7-1.7 104.5-1.7 34.8 0 69.7 4.3 104.5 4.3 15.2 0 30.3-0.4 45.5-0.4 15.2 0 30.3 0.2 45.5 0.2 30.2 0 60.3-2.8 90.5-2.9 30.2-0.2 60.3-0.3 90.5-0.3 17.5 0 35-0.1 52.5-0.1 17.5 0 35 1.4 52.5 1.4 34.8 0 69.7-1.2 104.5-1.2 34.8 0 69.7 3.1 104.5 3.1M403 516.4c30.2 0 60.3-5.8 90.5-6.6 30.2-0.9 60.3-1.6 90.5-1.6 17.5 0 35 4.2 52.5 6.5 17.5 2.3 35 7.5 52.5 7.5 34.8 0 69.7-5 104.5-5.3 34.8-0.3 69.7-0.5 104.5-0.5 15.2 0 30.3 5.7 45.5 5.7 15.2 0 30.3-5.2 45.5-5.2 30.2 0 60.3-4.6 90.5-6.3 30.2-1.7 60.3-4.4 90.5-4.4 17.5 0 35 3.9 52.5 6.4 17.5 2.5 35 9.3 52.5 9.3 34.8 0 69.7-3.1 104.5-3.7 34.8-0.6 69.7-1.3 104.5-1.3M403 517c30.2 0 60.3-2.3 90.5-2.3 30.2 0 60.3 3.2 90.5 3.2 17.5 0 35-4.1 52.5-4.1 17.5 0 35 8.2 52.5 8.2 34.8 0 69.7-2.4 104.5-3.2 34.8-0.8 69.7-1.8 104.5-1.8 15.2 0 30.3 0.7 45.5 0.7 15.2 0 30.3-0.7 45.5-0.7 30.2 0 60.3-2.8 90.5-2.8 30.2 0 60.3 4.7 90.5 4.7 17.5 0 35 0.6 52.5 0.8 17.5 0.3 35 0.9 52.5 0.9 34.8 0 69.7-4.9 104.5-4.9 34.8 0 69.7 1.3 104.5 1.3M403 518c30.2 0 60.3 0.8 90.5 1.3 30.2 0.5 60.3 1.7 90.5 1.7 17.5 0 35 2.7 52.5 3.3 17.5 0.6 35 1.2 52.5 1.2 34.8 0 69.7-1.2 104.5-2.3 34.8-1.1 69.7-5.2 104.5-5.2 15.2 0 30.3 1.1 45.5 1.1 15.2 0 30.3-1.4 45.5-1.4 30.2 0 60.3-0.2 90.5-0.2 30.2 0 60.3 4.3 90.5 4.3 17.5 0 35 3.9 52.5 3.9 17.5 0 35-1.5 52.5-1.5 34.8 0 69.7-3.8 104.5-4.7 34.8-0.9 69.7-1.8 104.5-1.8M403 531.5c30.2 0 60.3-1.5 90.5-2.7 30.2-1.2 60.3-5.9 90.5-5.9 17.5 0 35-5.3 52.5-9.2 17.5-3.8 35-15.6 52.5-15.6 34.8 0 69.7 9.7 104.5 15.2 34.8 5.5 69.7 18.2 104.5 18.2 15.2 0 30.3-6.5 45.5-6.5 15.2 0 30.3 5.5 45.5 5.5 30.2 0 60.3-1.8 90.5-3.5 30.2-1.6 60.3-9.1 90.5-9.1 17.5 0 35-13.4 52.5-16.2 17.5-2.8 35-5.7 52.5-5.7 34.8 0 69.7 7.6 104.5 13 34.8 5.5 69.7 21.5 104.5 21.5M403 532.2c30.2 0 60.3 0.7 90.5 1.6 30.2 1 60.3 12.1 90.5 12.1 17.5 0 35-1.6 52.5-3.2 17.5-1.7 35-11.1 52.5-11.1 34.8 0 69.7-0.5 104.5-0.5 34.8 0 69.7 1.1 104.5 1.1 15.2 0 30.3-10.5 45.5-10.5 15.2 0 30.3 10.7 45.5 10.7 30.2 0 60.3 10.3 90.5 13.1 30.2 2.7 60.3 6.1 90.5 6.1 17.5 0 35 1.8 52.5 1.8 17.5 0 35-17.7 52.5-17.7 34.8 0 69.7 6.8 104.5 6.8 34.8 0 69.7-10.1 104.5-10.1M403 543.1c30.2 0 60.3 1.4 90.5 2.6 30.2 1.3 60.3 6.2 90.5 6.2 17.5 0 35-2.9 52.5-4.4 17.5-1.5 35-4.7 52.5-4.7 34.8 0 69.7 1.7 104.5 1.7 34.8 0 69.7-1.4 104.5-1.4 15.2 0 30.3 2.8 45.5 2.8 15.2 0 30.3-2.6 45.5-2.6 30.2 0 60.3 4.4 90.5 6.6 30.2 2.1 60.3 6.4 90.5 6.4 17.5 0 35-8.9 52.5-10.9 17.5-2 35-4.2 52.5-4.2 34.8 0 69.7 3.3 104.5 3.3 34.8 0 69.7-1.2 104.5-1.2M403 543.4c30.2 0 60.3-0.2 90.5-0.5 30.2-0.4 60.3-3.5 90.5-3.5 17.5 0 35 1.4 52.5 2.8 17.5 1.5 35 9.4 52.5 9.4 34.8 0 69.7-3.7 104.5-5 34.8-1.3 69.7-3.2 104.5-3.2 15.2 0 30.3 0.5 45.5 0.5 15.2 0 30.3-0.9 45.5-0.9 30.2 0 60.3-1.8 90.5-2.7 30.2-0.9 60.3-2.7 90.5-2.7 17.5 0 35 5.7 52.5 7.7 17.5 2.1 35 5.3 52.5 5.3 34.8 0 69.7-1 104.5-1.9 34.8-0.9 69.7-5.7 104.5-5.7M403 544c30.2 0 60.3 3.2 90.5 3.8 30.2 0.7 60.3 1.3 90.5 1.3 17.5 0 35 2 52.5 3.1 17.5 1.2 35 3.8 52.5 3.8 34.8 0 69.7-7.9 104.5-9.3 34.8-1.4 69.7-2.7 104.5-2.7 15.2 0 30.3 1.4 45.5 1.4 15.2 0 30.3-1.5 45.5-1.5 30.2 0 60.3 7.1 90.5 7.6 30.2 0.4 60.3 0.7 90.5 0.7 17.5 0 35 8.6 52.5 8.6 17.5 0 35-1.1 52.5-1.1 34.8 0 69.7-5.4 104.5-8 34.8-2.6 69.7-7.8 104.5-7.8M403 544.7c30.2 0 60.3 3.1 90.5 4.7 30.2 1.6 60.3 4.9 90.5 4.9 17.5 0 35 5.4 52.5 5.4 17.5 0 35-2.2 52.5-2.2 34.8 0 69.7-1.2 104.5-2.6 34.8-1.3 69.7-10.2 104.5-10.2 15.2 0 30.3 0.5 45.5 0.5 15.2 0 30.3-1.2 45.5-1.2 30.2 0 60.3 5.6 90.5 7.1 30.2 1.5 60.3 3.3 90.5 3.3 17.5 0 35-1.1 52.5-1.1 17.5 0 35 3.1 52.5 3.1 34.8 0 69.7-2.7 104.5-4.7 34.8-1.9 69.7-7.7 104.5-7.7M403 552c30.2 0 60.3-0.1 90.5-0.1 30.2 0 60.3 4.8 90.5 4.8 17.5 0 35-5 52.5-7.3 17.5-2.3 35-6.4 52.5-6.4 34.8 0 69.7 2.6 104.5 4.1 34.8 1.5 69.7 4.9 104.5 4.9 15.2 0 30.3-1.3 45.5-1.3 15.2 0 30.3 1.5 45.5 1.5 30.2 0 60.3-4.1 90.5-4.1 30.2 0 60.3 8.2 90.5 8.2 17.5 0 35-6.2 52.5-7.4 17.5-1.3 35-2.6 52.5-2.6 34.8 0 69.7 3 104.5 3.9 34.8 0.9 69.7 2 104.5 2M403 552.8c30.2 0 60.3 3.2 90.5 4.9 30.2 1.7 60.3 5.4 90.5 5.4 17.5 0 35-9.3 52.5-13.3 17.5-4 35-10.9 52.5-10.9 34.8 0 69.7 5.9 104.5 8.2 34.8 2.3 69.7 5.7 104.5 5.7 15.2 0 30.3 2.2 45.5 2.2 15.2 0 30.3-1.8 45.5-1.8 30.2 0 60.3 7.2 90.5 9.1 30.2 1.9 60.3 4.1 90.5 4.1 17.5 0 35-10.8 52.5-14.7 17.5-4 35-9.9 52.5-9.9 34.8 0 69.7 3.8 104.5 5.7 34.8 1.9 69.7 5.7 104.5 5.7M403 553.7c30.2 0 60.3 0.1 90.5 0.3 30.2 0.1 60.3 2.2 90.5 2.2 17.5 0 35 0.4 52.5 0.9 17.5 0.5 35 5.9 52.5 5.9 34.8 0 69.7-8.7 104.5-8.9 34.8-0.3 69.7-0.4 104.5-0.4 15.2 0 30.3 0 45.5 0.1 15.2 0.1 30.3 0.8 45.5 0.8 30.2 0 60.3-1.5 90.5-1.5 30.2 0 60.3 3.6 90.5 3.6 17.5 0 35 9 52.5 9 17.5 0 35-3.1 52.5-3.1 34.8 0 69.7-3 104.5-4.3 34.8-1.3 69.7-3.7 104.5-3.7M403 565.8c30.2 0 60.3 0 90.5 0 30.2 0 60.3 1.1 90.5 1.1 17.5 0 35-2.7 52.5-3.2 17.5-0.6 35-1.2 52.5-1.2 34.8 0 69.7 6.3 104.5 6.3 34.8 0 69.7-3 104.5-3 15.2 0 30.3-2.2 45.5-2.2 15.2 0 30.3 2.5 45.5 2.5 30.2 0 60.3 0.1 90.5 0.2 30.2 0.2 60.3 1.2 90.5 1.2 17.5 0 35-4.8 52.5-5.8 17.5-0.9 35-1.9 52.5-1.9 34.8 0 69.7 1.8 104.5 2.8 34.8 1 69.7 3.5 104.5 3.5M403 566.1c30.2 0 60.3 3.1 90.5 4.7 30.2 1.6 60.3 4.9 90.5 4.9 17.5 0 35-0.2 52.5-0.5 17.5-0.3 35-5 52.5-5 34.8 0 69.7-5 104.5-5 34.8 0 69.7 0.9 104.5 0.9 15.2 0 30.3-0.2 45.5-0.2 15.2 0 30.3-0.1 45.5-0.1 30.2 0 60.3 8.1 90.5 9.5 30.2 1.5 60.3 2.8 90.5 2.8 17.5 0 35-3.6 52.5-4.7 17.5-1.1 35-2.5 52.5-2.5 34.8 0 69.7-2.1 104.5-2.9 34.8-0.9 69.7-2.2 104.5-2.2M403 565.9c30.2 0 60.3 0.5 90.5 1 30.2 0.6 60.3 4.3 90.5 4.3 17.5 0 35-6.9 52.5-6.9 17.5 0 35 2.7 52.5 2.7 34.8 0 69.7-0.6 104.5-0.8 34.8-0.1 69.7-0.3 104.5-0.3 15.2 0 30.3 2.4 45.5 2.4 15.2 0 30.3-1.9 45.5-1.9 30.2 0 60.3 1.4 90.5 2.4 30.2 1 60.3 4.1 90.5 4.1 17.5 0 35-5.9 52.5-5.9 17.5 0 35 0.9 52.5 0.9 34.8 0 69.7-0.1 104.5-0.3 34.8-0.2 69.7-1.2 104.5-1.2M403 567.5c30.2 0 60.3-0.1 90.5-0.1 30.2-0.1 60.3-0.3 90.5-0.3 17.5 0 35 3.3 52.5 3.4 17.5 0.1 35 0.1 52.5 0.1 34.8 0 69.7 0 104.5-0.1 34.8 0 69.7-3 104.5-3 15.2 0 30.3-0.3 45.5-0.3 15.2 0 30.3 0.7 45.5 0.7 30.2 0 60.3 0.8 90.5 0.8 30.2 0 60.3-0.5 90.5-0.5 17.5 0 35-1.2 52.5-1.2 17.5 0 35 4.8 52.5 4.8 34.8 0 69.7 0 104.5-0.1 34.8-0.1 69.7-3.8 104.5-3.8M403 574.8c30.2 0 60.3 0 90.5 0 30.2 0 60.3-0.5 90.5-0.5 17.5 0 35-1.4 52.5-2.7 17.5-1.2 35-6.1 52.5-6.1 34.8 0 69.7 5 104.5 6.4 34.8 1.3 69.7 2.9 104.5 2.9 15.2 0 30.3-1 45.5-1 15.2-0.1 30.3-0.1 45.5-0.1 30.2 0 60.3-0.7 90.5-0.9 30.2-0.1 60.3-0.3 90.5-0.3 17.5 0 35-4 52.5-5 17.5-0.9 35-1.9 52.5-1.9 34.8 0 69.7 0.2 104.5 0.6 34.8 0.3 69.7 7.5 104.5 7.5M403 575.9c30.2 0 60.3 0.9 90.5 1.4 30.2 0.6 60.3 2.1 90.5 2.1 17.5 0 35-1 52.5-1.6 17.5-0.6 35-2 52.5-2 34.8 0 69.7-1.9 104.5-1.9 34.8 0 69.7 2 104.5 2 15.2 0 30.3 0.8 45.5 0.8 15.2 0 30.3-1.5 45.5-1.5 30.2 0 60.3 0.8 90.5 1.2 30.2 0.3 60.3 0.9 90.5 0.9 17.5 0 35 0.8 52.5 0.8 17.5 0 35-0.7 52.5-0.7 34.8 0 69.7-2.5 104.5-2.5 34.8 0 69.7 0.3 104.5 0.3M403 576.2c30.2 0 60.3-2.5 90.5-2.5 30.2 0 60.3 4.1 90.5 4.1 17.5 0 35-0.2 52.5-0.5 17.5-0.3 35-3.3 52.5-3.3 34.8 0 69.7 2.2 104.5 2.2 34.8 0 69.7 0 104.5 0 15.2 0 30.3-0.7 45.5-0.9 15.2-0.2 30.3-0.4 45.5-0.4 30.2 0 60.3 0.8 90.5 1.4 30.2 0.7 60.3 3.1 90.5 3.1 17.5 0 35-1.8 52.5-2.3 17.5-0.5 35-1.1 52.5-1.1 34.8 0 69.7-0.7 104.5-0.9 34.8-0.1 69.7-0.2 104.5-0.2M403 576.2c30.2 0 60.3-1.2 90.5-1.2 30.2 0 60.3 0.8 90.5 0.8 17.5 0 35-1.8 52.5-1.8 17.5 0 35 6.2 52.5 6.2 34.8 0 69.7-0.2 104.5-0.5 34.8-0.3 69.7-3.5 104.5-3.5 15.2 0 30.3-3.6 45.5-3.6 15.2 0 30.3 2.4 45.5 2.4 30.2 0 60.3-1 90.5-1 30.2 0 60.3 0.4 90.5 0.4 17.5 0 35 0.9 52.5 1.5 17.5 0.7 35 2.8 52.5 2.8 34.8 0 69.7-0.8 104.5-1.4 34.8-0.6 69.7-2.3 104.5-2.3M403 576.8c30.2 0 60.3 1.3 90.5 2.6 30.2 1.4 60.3 9.1 90.5 9.1 17.5 0 35-0.1 52.5-0.3 17.5-0.2 35-5 52.5-5 34.8 0 69.7-1 104.5-2 34.8-0.9 69.7-4.4 104.5-4.4 15.2 0 30.3 1 45.5 1 15.2 0 30.3-2 45.5-2 30.2 0 60.3 7.1 90.5 9 30.2 1.8 60.3 4 90.5 4 17.5 0 35-3.3 52.5-3.4 17.5 0 35-0.1 52.5-0.1 34.8 0 69.7-10.9 104.5-10.9 34.8 0 69.7 1.4 104.5 1.4M403 588.4c30.2 0 60.3-3.3 90.5-5.3 30.2-1.9 60.3-6.6 90.5-6.6 17.5 0 35 5.9 52.5 6 17.5 0.2 35 0.3 52.5 0.3 34.8 0 69.7 5.2 104.5 5.3 34.8 0.2 69.7 0.3 104.5 0.3 15.2 0 30.3-1.3 45.5-1.3 15.2 0 30.3 1.2 45.5 1.2 30.2 0 60.3-4.7 90.5-7 30.2-2.3 60.3-6.6 90.5-6.6 17.5 0 35 3.4 52.5 4.8 17.5 1.4 35 3.6 52.5 3.6 34.8 0 69.7-1.4 104.5-1.4 34.8 0 69.7 6.6 104.5 6.6M403 588.3c30.2 0 60.3-1 90.5-1 30.2 0 60.3 3.1 90.5 3.1 17.5 0 35-2.7 52.5-2.7 17.5 0 35 1.2 52.5 1.2 34.8 0 69.7 4.6 104.5 4.6 34.8 0 69.7-5.2 104.5-5.2 15.2 0 30.3-1.8 45.5-1.8 15.2 0 30.3 2.2 45.5 2.2 30.2 0 60.3 5.5 90.5 5.5 30.2 0 60.3-4.2 90.5-4.2 17.5 0 35-0.8 52.5-1.2 17.5-0.4 35-1.2 52.5-1.2 34.8 0 69.7-4.6 104.5-4.6 34.8 0 69.7 5.7 104.5 5.7M403 589.5c30.2 0 60.3 9 90.5 9 30.2 0 60.3-7.5 90.5-7.5 17.5 0 35-3.6 52.5-3.6 17.5 0 35 3.6 52.5 3.6 34.8 0 69.7 1.5 104.5 1.5 34.8 0 69.7-3 104.5-3 15.2 0 30.3 6 45.5 6 15.2 0 30.3-6.7 45.5-6.7 30.2 0 60.3-2.7 90.5-2.7 30.2 0 60.3 1.3 90.5 1.3 17.5 0 35-3.2 52.5-3.2 17.5 0 35 5.9 52.5 5.9 34.8 0 69.7 3.3 104.5 3.3 34.8 0 69.7-4.6 104.5-4.6M403 600c30.2 0 60.3-4.3 90.5-6.6 30.2-2.2 60.3-6.9 90.5-6.9 17.5 0 35 1.9 52.5 3.8 17.5 1.9 35 11.5 52.5 11.5 34.8 0 69.7-4.3 104.5-4.3 34.8 0 69.7 2.5 104.5 2.5 15.2 0 30.3-1.5 45.5-1.5 15.2 0 30.3 1 45.5 1 30.2 0 60.3-0.7 90.5-1.6 30.2-0.8 60.3-7.6 90.5-7.6 17.5 0 35 4.4 52.5 7 17.5 2.7 35 8.9 52.5 8.9 34.8 0 69.7-0.6 104.5-1.3 34.8-0.7 69.7-5.4 104.5-5.4M403 599.1c30.2 0 60.3 7.5 90.5 7.5 30.2 0 60.3-0.3 90.5-0.3 17.5 0 35 0.9 52.5 0.9 17.5 0 35-5.2 52.5-5.2 34.8 0 69.7 2 104.5 2 34.8 0 69.7-4.9 104.5-4.9 15.2 0 30.3 2.2 45.5 2.2 15.2 0 30.3-3.7 45.5-3.7 30.2 0 60.3-0.4 90.5-0.4 30.2 0 60.3 7.2 90.5 7.2 17.5 0 35 2.6 52.5 2.6 17.5 0 35-3.3 52.5-3.3 34.8 0 69.7-1.3 104.5-2.3 34.8-0.9 69.7-3.8 104.5-3.8M403 600.3c30.2 0 60.3 0.9 90.5 1.4 30.2 0.6 60.3 2.1 90.5 2.1 17.5 0 35-5 52.5-5 17.5-0.1 35-0.1 52.5-0.1 34.8 0 69.7-2.8 104.5-2.8 34.8 0 69.7 4.4 104.5 4.4 15.2 0 30.3-3.1 45.5-3.1 15.2 0 30.3 1.9 45.5 1.9 30.2 0 60.3 1.4 90.5 2.2 30.2 0.7 60.3 2.3 90.5 2.3 17.5 0 35-5.9 52.5-6.7 17.5-0.7 35-1.3 52.5-1.3 34.8 0 69.7-0.1 104.5-0.1 34.8 0 69.7 3.6 104.5 3.6M403 600.9c30.2 0 60.3-3 90.5-3 30.2-0.1 60.3-0.2 90.5-0.2 17.5 0 35 3.2 52.5 3.3 17.5 0.1 35 0.2 52.5 0.2 34.8 0 69.7-0.9 104.5-0.9 34.8 0 69.7 0.6 104.5 0.6 15.2 0 30.3-1 45.5-1.2 15.2-0.3 30.3-0.6 45.5-0.6 30.2 0 60.3 2.3 90.5 2.3 30.2 0 60.3-4 90.5-4 17.5 0 35 0.6 52.5 1.2 17.5 0.5 35 2.7 52.5 2.7 34.8 0 69.7 0.3 104.5 0.3 34.8 0 69.7-2.5 104.5-2.5M403 611.4c30.2 0 60.3-2.6 90.5-2.6 30.2 0 60.3 2.6 90.5 2.6 17.5 0 35 3.1 52.5 4.2 17.5 1.1 35 2.6 52.5 2.6 34.8 0 69.7-2 104.5-3.1 34.8-1.1 69.7-3.7 104.5-3.7 15.2 0 30.3 0.6 45.5 0.6 15.2 0 30.3-0.2 45.5-0.2 30.2 0 60.3-0.2 90.5-0.2 30.2 0 60.3 1.9 90.5 1.9 17.5 0 35-0.2 52.5-0.2 17.5 0 35 4.7 52.5 4.7 34.8 0 69.7-2.9 104.5-3.8 34.8-1 69.7-2.4 104.5-2.4M403 612c30.2 0 60.3-2.5 90.5-3 30.2-0.4 60.3-0.8 90.5-0.8 17.5 0 35 3.3 52.5 3.3 17.5 0 35-1.4 52.5-1.4 34.8 0 69.7 3 104.5 3 34.8 0 69.7-1.1 104.5-1.1 15.2 0 30.3-2.4 45.5-2.4 15.2 0 30.3 3.1 45.5 3.1 30.2 0 60.3-1 90.5-2 30.2-1 60.3-4.9 90.5-4.9 17.5 0 35 0.4 52.5 0.9 17.5 0.5 35 3.1 52.5 3.1 34.8 0 69.7 2.3 104.5 2.5 34.8 0.3 69.7 0.4 104.5 0.4M403 612.4c30.2 0 60.3-4.3 90.5-5.9 30.2-1.5 60.3-3.7 90.5-3.7 17.5 0 35 2.6 52.5 4.8 17.5 2.3 35 11.3 52.5 11.3 34.8 0 69.7-0.4 104.5-1 34.8-0.5 69.7-5.5 104.5-5.5 15.2 0 30.3 1.3 45.5 1.3 15.2 0 30.3-0.6 45.5-0.6 30.2 0 60.3-6.7 90.5-7.9 30.2-1.2 60.3-2.4 90.5-2.4 17.5 0 35 1.6 52.5 3.4 17.5 1.8 35 11.9 52.5 11.9 34.8 0 69.7-3.1 104.5-3.7 34.8-0.7 69.7-1.3 104.5-1.3M403 613c30.2 0 60.3-3.4 90.5-3.4 30.2 0 60.3 2.4 90.5 2.4 17.5 0 35 1.4 52.5 2.4 17.5 1.1 35 4.2 52.5 4.2 34.8 0 69.7-0.6 104.5-1.3 34.8-0.6 69.7-4.3 104.5-4.3 15.2 0 30.3 3.9 45.5 3.9 15.2 0 30.3-3.4 45.5-3.4 30.2 0 60.3-1.7 90.5-1.8 30.2-0.1 60.3-0.1 90.5-0.1 17.5 0 35 5.6 52.5 5.6 17.5 0 35-1.2 52.5-1.2 34.8 0 69.7 1.6 104.5 1.6 34.8 0 69.7-4.1 104.5-4.1M403 620.9c30.2 0 60.3-1 90.5-1 30.2 0 60.3 1.6 90.5 1.6 17.5 0 35-7.9 52.5-7.9 17.5 0 35 1.9 52.5 1.9 34.8 0 69.7 5 104.5 5.2 34.8 0.1 69.7 0.2 104.5 0.2 15.2 0 30.3 0.9 45.5 0.9 15.2 0 30.3-2.7 45.5-2.7 30.2 0 60.3 8.6 90.5 8.6 30.2 0 60.3-5.1 90.5-5.1 17.5 0 35 1.5 52.5 1.5 17.5 0 35-6.7 52.5-6.7 34.8 0 69.7 3.1 104.5 3.1 34.8 0 69.7-1.4 104.5-1.4M403 622.1c30.2 0 60.3 8.6 90.5 8.6 30.2 0 60.3-2.2 90.5-2.2 17.5 0 35-7.6 52.5-8.8 17.5-1.1 35-2.2 52.5-2.2 34.8 0 69.7 2.3 104.5 3 34.8 0.7 69.7 1.6 104.5 1.6 15.2 0 30.3-1.5 45.5-1.5 15.2 0 30.3 0.2 45.5 0.2 30.2 0 60.3 9.9 90.5 9.9 30.2 0 60.3-1.1 90.5-1.1 17.5 0 35-3.1 52.5-5.3 17.5-2.3 35-9 52.5-9 34.8 0 69.7-6.9 104.5-6.9 34.8 0 69.7 12.4 104.5 12.4M403 629.5c30.2 0 60.3 4.2 90.5 4.2 30.2 0 60.3-4.9 90.5-4.9 17.5 0 35-3.1 52.5-3.1 17.5 0 35 2.8 52.5 2.8 34.8 0 69.7 3 104.5 3 34.8 0 69.7-2 104.5-2 15.2 0 30.3-2.2 45.5-2.2 15.2 0 30.3 0.9 45.5 0.9 30.2 0 60.3 0.6 90.5 0.6 30.2 0 60.3-1.1 90.5-1.1 17.5 0 35 2 52.5 2 17.5 0 35-2.1 52.5-2.1 34.8 0 69.7 1 104.5 1 34.8 0 69.7-0.4 104.5-0.4M403 630.5c30.2 0 60.3-2.2 90.5-2.2 30.2 0 60.3 3.7 90.5 3.7 17.5 0 35 5.3 52.5 5.3 17.5 0 35-3.6 52.5-3.6 34.8 0 69.7-0.1 104.5-0.3 34.8-0.2 69.7-2.9 104.5-2.9 15.2 0 30.3-0.5 45.5-0.7 15.2-0.3 30.3-0.8 45.5-0.8 30.2 0 60.3 4.1 90.5 4.1 30.2 0 60.3-0.5 90.5-0.5 17.5 0 35-1.8 52.5-1.8 17.5 0 35 1.5 52.5 1.5 34.8 0 69.7 4.3 104.5 4.3 34.8 0 69.7-7.6 104.5-7.6M403 630.8c30.2 0 60.3 3.4 90.5 4.7 30.2 1.3 60.3 3.3 90.5 3.3 17.5 0 35 1.7 52.5 1.7 17.5 0 35-0.6 52.5-0.6 34.8 0 69.7-2 104.5-3.5 34.8-1.4 69.7-5.6 104.5-5.6 15.2 0 30.3-2.9 45.5-2.9 15.2 0 30.3 2.5 45.5 2.5 30.2 0 60.3 0.1 90.5 0.4 30.2 0.2 60.3 7.2 90.5 7.2 17.5 0 35 0.8 52.5 0.8 17.5 0 35-0.5 52.5-0.5 34.8 0 69.7-1.7 104.5-2.9 34.8-1.2 69.7-5 104.5-5M403 642c30.2 0 60.3 2.2 90.5 2.2 30.2 0 60.3-6.9 90.5-6.9 17.5 0 35-1.5 52.5-2.8 17.5-1.2 35-5.9 52.5-5.9 34.8 0 69.7 1.6 104.5 3.2 34.8 1.6 69.7 10.2 104.5 10.2 15.2 0 30.3 1.9 45.5 1.9 15.2 0 30.3-1.7 45.5-1.7 30.2 0 60.3 0.9 90.5 0.9 30.2 0 60.3-4.6 90.5-4.6 17.5 0 35-0.3 52.5-0.7 17.5-0.4 35-7.3 52.5-7.3 34.8 0 69.7 5.1 104.5 7 34.8 1.9 69.7 4.7 104.5 4.7M403 642.7c30.2 0 60.3 0.7 90.5 1.6 30.2 0.9 60.3 11.7 90.5 11.7 17.5 0 35-2.2 52.5-4.4 17.5-2.2 35-14.3 52.5-14.3 34.8 0 69.7-0.3 104.5-0.3 34.8 0 69.7 5.7 104.5 5.7 15.2 0 30.3 2.6 45.5 2.6 15.2 0 30.3-2.5 45.5-2.5 30.2 0 60.3-0.1 90.5-0.1 30.2 0 60.3 12.9 90.5 12.9 17.5 0 35-2.8 52.5-5.2 17.5-2.4 35-11.9 52.5-11.9 34.8 0 69.7-1 104.5-1 34.8 0 69.7 5.3 104.5 5.3M403 649.6c30.2 0 60.3 8.5 90.5 8.5 30.2 0 60.3-6.1 90.5-6.1 17.5 0 35 9.8 52.5 9.8 17.5 0 35-13.8 52.5-13.8 34.8 0 69.7 8.6 104.5 8.6 34.8 0 69.7-7 104.5-7 15.2 0 30.3-7.5 45.5-7.5 15.2 0 30.3 7.7 45.5 7.7 30.2 0 60.3-6.6 90.5-6.6 30.2 0 60.3 5.6 90.5 5.6 17.5 0 35-7.7 52.5-7.7 17.5 0 35 3.6 52.5 3.6 34.8 0 69.7 7 104.5 7 34.8 0 69.7-1.9 104.5-1.9M403 665.3c30.2 0 60.3 2 90.5 2 30.2 0 60.3-2.6 90.5-2.6 17.5 0 35 7.9 52.5 11.3 17.5 3.4 35 9.2 52.5 9.2 34.8 0 69.7-4.8 104.5-7.9 34.8-3.2 69.7-12 104.5-12 15.2 0 30.3 2.8 45.5 2.8 15.2 0 30.3-4.6 45.5-4.6 30.2 0 60.3 4.7 90.5 4.7 30.2 0 60.3-3.7 90.5-3.7 17.5 0 35 18.8 52.5 18.8 17.5 0 35-2.6 52.5-2.6 34.8 0 69.7-6 104.5-8.8 34.8-2.9 69.7-8.4 104.5-8.4M403 665.8c30.2 0 60.3 2.6 90.5 3.3 30.2 0.7 60.3 1.6 90.5 1.6 17.5 0 35-18.4 52.5-22 17.5-3.6 35-7.2 52.5-7.2 34.8 0 69.7 3.6 104.5 6.9 34.8 3.3 69.7 17.4 104.5 17.4 15.2 0 30.3-3.6 45.5-3.6 15.2 0 30.3 1.8 45.5 1.8 30.2 0 60.3-0.8 90.5-0.8 30.2 0 60.3 8.6 90.5 8.6 17.5 0 35-9.7 52.5-14.9 17.5-5.3 35-16.8 52.5-16.8 34.8 0 69.7 12.7 104.5 16.2 34.8 3.5 69.7 7.7 104.5 7.7M403 666.1c30.2 0 60.3-4.7 90.5-5.6 30.2-1 60.3-2 90.5-2 17.5 0 35 3.6 52.5 6.2 17.5 2.5 35 10.2 52.5 10.2 34.8 0 69.7-5.5 104.5-6.6 34.8-1.1 69.7-2.2 104.5-2.2 15.2 0 30.3-0.1 45.5-0.3 15.2-0.1 30.3-1.5 45.5-1.5 30.2 0 60.3-1.5 90.5-1.5 30.2 0 60.3 3.2 90.5 3.2 17.5 0 35 6.1 52.5 8 17.5 1.8 35 4.1 52.5 4.1 34.8 0 69.7-3.3 104.5-5.5 34.8-2.2 69.7-8.3 104.5-8.3M403 675.5c30.2 0 60.3-1.2 90.5-2.3 30.2-1 60.3-5.6 90.5-5.6 17.5 0 35 4.7 52.5 4.7 17.5 0 35-2.7 52.5-2.7 34.8 0 69.7 2.2 104.5 3.1 34.8 1 69.7 2.8 104.5 2.8 15.2 0 30.3 1.1 45.5 1.1 15.2 0 30.3-0.3 45.5-0.3 30.2 0 60.3 3.3 90.5 3.3 30.2 0 60.3-13.8 90.5-13.8 17.5 0 35 1.2 52.5 1.9 17.5 0.8 35 2.4 52.5 2.4 34.8 0 69.7 7 104.5 7 34.8 0 69.7-0.8 104.5-0.8M1575 398.6C1607.8 398.6 1633.2 395.4 1666 395.4M1575 395.6C1607.8 395.6 1633.2 398.9 1666 398.9M1484 404.9C1516.8 404.9 1542.2 407 1575 407M1575 400.6C1607.8 400.6 1633.2 398.7 1666 398.7M1484 406.2C1516.8 406.2 1542.2 405.9 1575 405.9M1575 414.1C1607.8 414.1 1633.2 413.9 1666 413.9M1484 405.8C1516.8 405.8 1542.2 407.5 1575 407.5M1575 400.7C1607.8 400.7 1633.2 401.5 1666 401.5M1484 411.9C1516.8 411.9 1542.2 414.2 1575 414.2M1575 408.3C1607.8 408.3 1633.2 409.8 1666 409.8M1484 410.5C1516.8 410.5 1542.2 412.5 1575 412.5M1575 428C1607.8 428 1633.2 427.6 1666 427.6M1484 414.6C1516.8 414.6 1542.2 416.1 1575 416.1M1575 407C1607.8 407 1633.2 410.1 1666 410.1M1484 416C1516.8 416 1542.2 416.3 1575 416.3M1575 411.4C1607.8 411.4 1633.2 411.9 1666 411.9M1484 422C1516.8 422 1542.2 423.9 1575 423.9M1575 419C1607.8 419 1633.2 419.8 1666 419.8M1484 416.8C1516.8 416.8 1542.2 416.3 1575 416.3M1575 424.4C1607.8 424.4 1633.2 422.9 1666 422.9M1484 438.5C1516.8 438.5 1542.2 434.1 1575 434.1M1575 431.4C1607.8 431.4 1633.2 434.6 1666 434.6M1484 427.4C1516.8 427.4 1542.2 427.8 1575 427.8M1575 437C1607.8 437 1633.2 432.8 1666 432.8M1484 430.5C1516.8 430.5 1542.2 427.8 1575 427.8M1575 429.5C1607.8 429.5 1633.2 430.1 1666 430.1M1484 441.8C1516.8 441.8 1542.2 441.2 1575 441.2M1575 437.9C1607.8 437.9 1633.2 440.2 1666 440.2M1484 450.4C1516.8 450.4 1542.2 452.4 1575 452.4M1575 460.8C1607.8 460.8 1633.2 458.2 1666 458.2M1484 449.9C1516.8 449.9 1542.2 450.4 1575 450.4M1575 455C1607.8 455 1633.2 452.1 1666 452.1M1484 443.3C1516.8 443.3 1542.2 444.9 1575 444.9M1575 432.3C1607.8 432.3 1633.2 432.6 1666 432.6M1484 455.3C1516.8 455.3 1542.2 454 1575 454M1575 448.2C1607.8 448.2 1633.2 449.6 1666 449.6M1484 448.8C1516.8 448.8 1542.2 450.6 1575 450.6M1575 448.4H1666M1484 457.1C1516.8 457.1 1542.2 454.9 1575 454.9M1575 457.8C1607.8 457.8 1633.2 458.9 1666 458.9M1484 459.8C1516.8 459.8 1542.2 458.8 1575 458.8M1575 456.8C1607.8 456.8 1633.2 457.4 1666 457.4M1484 444.8C1516.8 444.8 1542.2 448.2 1575 448.2M1575 474.6C1607.8 474.6 1633.2 471.9 1666 471.9M1484 466.2C1516.8 466.2 1542.2 465 1575 465M1575 469.6C1607.8 469.6 1633.2 469 1666 469M1484 463.5C1516.8 463.5 1542.2 461 1575 461M1575 471.7C1607.8 471.7 1633.2 471.5 1666 471.5M1484 463.9C1516.8 463.9 1542.2 465.3 1575 465.3M1575 471.1C1607.8 471.1 1633.2 470.5 1666 470.5M1484 464.9C1516.8 464.9 1542.2 463 1575 463M1575 472.1C1607.8 472.1 1633.2 472.2 1666 472.2M1484 461.8C1516.8 461.8 1542.2 465.5 1575 465.5M1575 479.9C1607.8 479.9 1633.2 478.1 1666 478.1M1484 473.3C1516.8 473.3 1542.2 472.8 1575 472.8M1575 490.1C1607.8 490.1 1633.2 488.3 1666 488.3M1484 485C1516.8 485 1542.2 488.3 1575 488.3M1575 485.6C1607.8 485.6 1633.2 486.4 1666 486.4M1484 498.1C1516.8 498.1 1542.2 497.1 1575 497.1M1575 483.9C1607.8 483.9 1633.2 483.7 1666 483.7M1484 485.6C1516.8 485.6 1542.2 489.2 1575 489.2M1575 502.9C1607.8 502.9 1633.2 498 1666 498M1484 494.8C1516.8 494.8 1542.2 500.1 1575 500.1M1575 494.9C1607.8 494.9 1633.2 494.1 1666 494.1M1484 495.1C1516.8 495.1 1542.2 494.3 1575 494.3M1575 495.2C1607.8 495.2 1633.2 495.5 1666 495.5M1484 491.7C1516.8 491.7 1542.2 487.4 1575 487.4M1575 498.2C1607.8 498.2 1633.2 494.4 1666 494.4M1484 502.1C1516.8 502.1 1542.2 503 1575 503M1575 499.2H1666M1484 507.9C1516.8 507.9 1542.2 506.8 1575 506.8M1575 500.2C1607.8 500.2 1633.2 501.8 1666 501.8M1484 505.2C1516.8 505.2 1542.2 505 1575 505M1575 495.9C1607.8 495.9 1633.2 495 1666 495M1484 509.8C1516.8 509.8 1542.2 510.3 1575 510.3M1575 512.2C1607.8 512.2 1633.2 513.4 1666 513.4M1484 514.9C1516.8 514.9 1542.2 514 1575 514M1575 513.2C1607.8 513.2 1633.2 514 1666 514M1484 511.8C1516.8 511.8 1542.2 509.3 1575 509.3M1575 513.1C1607.8 513.1 1633.2 512.6 1666 512.6M1484 506.2C1516.8 506.2 1542.2 508.2 1575 508.2M1575 521.9C1607.8 521.9 1633.2 522.2 1666 522.2M1484 518.9C1516.8 518.9 1542.2 517.9 1575 517.9M1575 520.6C1607.8 520.6 1633.2 522 1666 522M1484 521.8C1516.8 521.8 1542.2 521 1575 521M1575 524.2C1607.8 524.2 1633.2 525.5 1666 525.5M1484 517.9C1516.8 517.9 1542.2 522.9 1575 522.9M1575 496C1607.8 496 1633.2 498.1 1666 498.1M1484 551.6C1516.8 551.6 1542.2 545.9 1575 545.9M1575 535.7C1607.8 535.7 1633.2 531.6 1666 531.6M1484 556.3C1516.8 556.3 1542.2 551.9 1575 551.9M1575 541.2C1607.8 541.2 1633.2 542.8 1666 542.8M1484 537.6C1516.8 537.6 1542.2 539.4 1575 539.4M1575 550.6C1607.8 550.6 1633.2 551.6 1666 551.6M1484 552.2C1516.8 552.2 1542.2 549.1 1575 549.1M1575 559.7C1607.8 559.7 1633.2 556 1666 556M1484 554.4C1516.8 554.4 1542.2 554.3 1575 554.3M1575 556.4C1607.8 556.4 1633.2 557.5 1666 557.5M1484 556.3C1516.8 556.3 1542.2 556.7 1575 556.7M1575 546.3C1607.8 546.3 1633.2 543 1666 543M1484 566.4C1516.8 566.4 1542.2 563.1 1575 563.1M1575 541.8C1607.8 541.8 1633.2 538.9 1666 538.9M1484 556.7C1516.8 556.7 1542.2 556.2 1575 556.2M1575 562.6C1607.8 562.6 1633.2 563 1666 563M1484 567.5C1516.8 567.5 1542.2 566.9 1575 566.9M1575 559.8C1607.8 559.8 1633.2 562.5 1666 562.5M1484 578.1C1516.8 578.1 1542.2 575.7 1575 575.7M1575 570.9C1607.8 570.9 1633.2 570.2 1666 570.2M1484 572.9C1516.8 572.9 1542.2 571.2 1575 571.2M1575 567.9C1607.8 567.9 1633.2 567 1666 567M1484 568.2C1516.8 568.2 1542.2 567.1 1575 567.1M1575 571.8C1607.8 571.8 1633.2 570.6 1666 570.6M1484 572.5C1516.8 572.5 1542.2 574.3 1575 574.3M1575 565.6C1607.8 565.6 1633.2 565.5 1666 565.5M1484 577.3C1516.8 577.3 1542.2 579.4 1575 579.4M1575 577.4C1607.8 577.4 1633.2 575.8 1666 575.8M1484 579.4C1516.8 579.4 1542.2 577.8 1575 577.8M1575 576C1607.8 576 1633.2 574 1666 574M1484 574.4C1516.8 574.4 1542.2 575.8 1575 575.8M1575 578.7C1607.8 578.7 1633.2 580.2 1666 580.2M1484 588.8C1516.8 588.8 1542.2 588.5 1575 588.5M1575 585.3C1607.8 585.3 1633.2 583.2 1666 583.2M1484 574.7C1516.8 574.7 1542.2 576.5 1575 576.5M1575 583.1C1607.8 583.1 1633.2 582.8 1666 582.8M1484 590C1516.8 590 1542.2 590.4 1575 590.4M1575 587.6C1607.8 587.6 1633.2 588.9 1666 588.9M1484 587.4C1516.8 587.4 1542.2 591 1575 591M1575 590.1C1607.8 590.1 1633.2 591 1666 591M1484 590.3C1516.8 590.3 1542.2 586.5 1575 586.5M1575 606.2C1607.8 606.2 1633.2 601.8 1666 601.8M1484 604.4C1516.8 604.4 1542.2 606.3 1575 606.3M1575 603.7C1607.8 603.7 1633.2 602 1666 602M1484 603.6C1516.8 603.6 1542.2 603.8 1575 603.8M1575 595.6C1607.8 595.6 1633.2 598.7 1666 598.7M1484 597.4C1516.8 597.4 1542.2 597.7 1575 597.7M1575 601.3C1607.8 601.3 1633.2 601.2 1666 601.2M1484 613.5C1516.8 613.5 1542.2 611.4 1575 611.4M1575 618C1607.8 618 1633.2 618.2 1666 618.2M1484 605.8C1516.8 605.8 1542.2 608.2 1575 608.2M1575 609.8C1607.8 609.8 1633.2 610.1 1666 610.1M1484 602.8C1516.8 602.8 1542.2 602.8 1575 602.8M1575 618.1C1607.8 618.1 1633.2 618.9 1666 618.9M1484 611.6C1516.8 611.6 1542.2 612 1575 612M1575 616C1607.8 616 1633.2 618.6 1666 618.6M1484 622.6C1516.8 622.6 1542.2 621.5 1575 621.5M1575 617.4C1607.8 617.4 1633.2 615.5 1666 615.5M1484 629.6C1516.8 629.6 1542.2 628.5 1575 628.5M1575 615.3C1607.8 615.3 1633.2 617.5 1666 617.5M1484 627.7C1516.8 627.7 1542.2 628.8 1575 628.8M1575 627.6C1607.8 627.6 1633.2 628.5 1666 628.5M1484 632.6C1516.8 632.6 1542.2 632 1575 632M1575 632.3C1607.8 632.3 1633.2 633.7 1666 633.7M1484 638C1516.8 638 1542.2 638.8 1575 638.8M1575 638.3C1607.8 638.3 1633.2 639.9 1666 639.9M1484 638.5C1516.8 638.5 1542.2 637.3 1575 637.3M1575 630.5C1607.8 630.5 1633.2 628.6 1666 628.6M1575 638.5C1607.8 638.5 1633.2 637.3 1666 637.3M1484 648.8C1516.8 648.8 1542.2 652 1575 652M1575 644.7C1607.8 644.7 1633.2 648 1666 648M1575 640.1C1607.8 640.1 1633.2 641.5 1666 641.5M400.6 106.7c20.4 0.2 40.8 2.5 61.2 4.9 13 1.5 26 5 39 7.6 13.4 2.7 26.9 6.4 40.4 8.4 11.6 1.7 23.2 3.3 34.8 4.2 18.5 1.3 37.1 1.9 55.6 2.7 18.6 0.8 37.2 2.1 55.7 2.1 14.8 0 29.6-2.6 44.5-4.8 13.9-2.2 27.8-7.4 41.7-10.5 13.9-3.1 27.9-6.1 41.8-8.3 13.9-2.3 27.8-4.2 41.7-5.6 9.3-0.9 18.6-2 27.9-2.4 4.3-0.2 8.7-0.3 13.1-0.4M400.6 131.1c26 0.5 51.9 1.9 77.9 3.4 13.9 0.9 27.9 3.5 41.8 3.5 18.5 0 37.1 0 55.7 0 37.1 0 74.2 0 111.3 0 19.5 0 38.9 0 58.4 0 13.9 0 27.8-1.2 41.7-2.1 14-0.8 27.9-2.7 41.8-3.4 13.9-0.8 27.8-1.9 41.8-1.9 9 0 18 0 27 0M400.6 195.1c12 0 24.1 1.4 36.2 2.8 13.9 1.6 27.8 6.1 41.7 9.7 13.9 3.7 27.9 8.4 41.8 12.6 11.6 3.4 23.2 6.8 34.8 10.4 9.3 2.9 18.5 7.7 27.8 9 16.3 2.4 32.5 2.2 48.7 4.2 18.6 2.3 37.2 11.8 55.7 11.8 14.8 0 29.6-2.5 44.5-5.5 13.9-2.8 27.8-14.4 41.7-20.9 13.9-6.5 27.9-13.2 41.8-18.1 13.9-4.9 27.8-9.8 41.7-12.5 9.3-1.8 18.6-3.5 27.9-4.2 4.3-0.3 8.7-0.6 13.1-0.7M400.6 229.2c22.7 0 45.4 0 68.2 0 12.5 0 25-3.9 37.6-5.6 13.9-1.8 27.8-4 41.7-4.8 11.6-0.7 23.2-1.4 34.8-1.4 34.8 0 69.6 0 104.4 0 19.5 0 38.9 0.5 58.4 1.4 9.3 0.4 18.5 2.2 27.8 3.4 13.9 1.8 27.9 4.4 41.8 5.6 13.9 1.2 27.8 2.8 41.7 2.8 13.7 0 27.3 0 41 0M400.6 227.1c21.3 0 42.7 0 64 0 13.9 0 27.8-3.3 41.8-4.9 13.9-1.5 27.8-3.5 41.7-4.4 11.6-0.8 23.2-1.7 34.8-1.7 34.8 0 69.6 0 104.4 0 19.5 0 38.9 0.5 58.4 1.3 13.9 0.5 27.8 3.2 41.7 4.8 14 1.7 27.9 4.2 41.8 4.9 22.9 1.2 45.8 2.1 68.8 2.1M400.6 216c16.7 1.4 33.4 4.3 50.1 7.6 18.5 3.8 37.1 11.7 55.7 16.7 18.5 5.1 37.1 11.3 55.6 14 23.2 3.3 46.4 5.4 69.6 6.9 18.6 1.2 37.2 2.8 55.7 2.8 10.2 0 20.4-2.2 30.5-4 14-2.6 27.9-8.1 41.8-12.7 13.9-4.6 27.8-11.3 41.8-15.3 13.9-4 27.8-7.3 41.7-9.8 9.3-1.6 18.6-3.2 27.9-4.1 9-1 18-1.8 27-2.1M402.9 286c22.2 0 44.4 0 66.6 0 20.3 0 40.7-3.2 61-5.7 15-1.8 30.1-7.9 45.1-7.9 22.6 0 45.2 0.8 67.8 1.1 15 0.3 30.1 0.4 45.1 0.7 22.6 0.6 45.2 3.2 67.8 5 22.5 1.7 45.1 4.6 67.7 5.6 24.7 1.1 49.4 2.2 74 2.3M403.1 878.6c11.8 5.9 23.6 11.7 35.4 17.4 14.5 6.9 29 14.3 43.5 20.3 14.5 5.9 29 12.6 43.5 15.9 14.5 3.3 29 6.4 43.5 7.3 5 0.3 10 0.3 15 0.5 14.3 0.6 28.6 1.8 43 1.8 9.6 0 19.3-0.4 28.9-0.9 11.1-0.5 22.1-2 33.1-4.3 8.3-1.8 16.6-6.8 24.9-11.6 7.8-4.5 15.5-10.1 23.2-17.4 4.4-4.2 8.7-7.8 13.1-16 1.4-2.7 2.9-7.9 4.3-13 1.2-4.1 2.3-11.3 3.5-14.5 3.7-10.1 7.3-16 11-20.3 5.8-6.9 11.6-12.4 17.4-14.5 4.9-1.8 9.7-3.5 14.5-3.5 4.8 0 9.7 1.9 14.5 3.5 9.7 3.1 19.3 10.2 29 15.9 9.7 5.8 19.3 12.9 29 18.9 8.2 5 16.4 9.9 24.6 14.5M403.1 878.6c7-7.5 13.9-16.3 20.9-26.1 7.7-10.9 15.5-27.7 23.2-37.7 4.8-6.3 9.7-14.3 14.5-16 4.8-1.6 9.7-2.9 14.5-2.9 6.7 0 13.5 3.9 20.3 7.3 9.6 4.8 19.3 17.4 29 26.1 9.6 8.7 19.3 16.9 29 26.1 4.8 4.6 9.6 6.9 14.5 14.5 1.1 1.8 2.3 6.2 3.4 8.7 1.3 2.7 2.6 6.5 3.8 7.2 5.3 3 10.6 2.4 16 4.4 6.7 2.4 13.5 7.3 20.3 11.6 9.6 6 19.3 15.3 28.9 20.3 9.7 4.9 19.4 9.2 29 11.6 6.2 1.5 12.4 2.3 18.6 3.4 8.3 1.6 16.6 4.3 24.9 4.7 6.8 0.3 13.6 0.6 20.3 0.6 7.8 0 15.5-1.1 23.2-2.1 14.5-1.8 29-7 43.5-12.4 14.5-5.4 29-15.8 43.5-23.2 9.7-5 19.3-9.8 29-14.5 8.2-4 16.4-7.9 24.6-11.6M402.9 878.2c16.2-11.8 32.4-22.8 48.5-32.7 18.9-11.6 37.7-20.7 56.5-31.6 15-8.8 30.1-19.3 45.1-27.1 11.3-5.9 22.6-12.7 33.9-15.8 11.3-3.2 22.6-6.7 33.9-6.8 22.7-0.3 45.4-0.5 68.2-0.5 11.1 0 22.2 2.4 33.4 5 11.3 2.6 22.6 11.3 33.9 18.1 15 9 30.1 21.4 45.1 31.6 15.1 10.1 30.1 20 45.2 29.3 17.1 10.7 34.3 20.9 51.4 30.5M402.9 802.6c19.9-1.3 39.9-3.9 59.8-6.8 15.1-2.2 30.1-5.7 45.2-9 15-3.4 30.1-9.2 45.1-11.3 11.3-1.6 22.6-3.4 33.9-3.4 11.3 0 22.6 8.1 33.9 12.4 11.3 4.3 22.6 9.5 33.9 13.5 11.4 4.2 22.8 7.4 34.3 11.3 7.3 2.6 14.7 6.8 22.1 7.9 7.5 1.2 15.1 2.3 22.6 2.3 7.5 0 15-2.7 22.6-4.5 11.2-2.7 22.5-9.3 33.8-10.2 18.8-1.4 37.7-2.2 56.5-2.2 17.1 0 34.3 0 51.4 0M402.9 803c12.4-0.9 24.8-2.3 37.3-3.8 9.7-1.2 19.5-3.8 29.3-4.5 7.1-0.6 14.2-1.2 21.2-1.2 14.5 0 28.9 8.1 43.4 12.5 11.6 3.5 23.2 9.7 34.8 11 9.7 1.1 19.4 2 29.1 2 14.4 0 28.9 0 43.3 0 9.7 0 19.4-3.7 29.2-5.8 6.1-1.4 12.3-2.4 18.5-4.3 8.3-2.5 16.5-7.2 24.8-11.5 9.6-5.1 19.3-12.9 28.9-17.4 12.1-5.6 24.1-10.9 36.1-13.6 15.1-3.2 30.1-6.7 45.2-6.7 24.7 0 49.4 0 74 0M402.9 803c12.4-0.1 24.8-2.5 37.3-5 15-2.9 30.1-12 45.1-18 15.1-6 30.1-15.9 45.2-18.1 17.8-2.5 35.6-4.5 53.5-4.5 12.2 0 24.5 0.6 36.8 1.1 22.7 1.1 45.4 5.6 68.2 9.1 14.9 2.2 29.8 4.2 44.7 7.9 15 3.7 30.1 14.9 45.1 18 22.6 4.7 45.2 8.4 67.8 9.1 17.1 0.5 34.3 0.9 51.4 0.9M402.9 759.7c16.2 0 32.4-2 48.5-4.5 15.1-2.4 30.2-15.4 45.2-20.4 11.3-3.7 22.6-9 33.9-9 17.8 0 35.6 0 53.5 0 19.8 0 39.6 0 59.4 0 15.2 0 30.4-11.3 45.6-11.3 14.9 0 29.8 6.9 44.7 11.3 18.8 5.5 37.6 15.5 56.4 20.3 18.8 4.9 37.7 10 56.5 11.3 17.1 1.2 34.3 2.3 51.4 2.3M402.9 759.7c16.2 0 32.4-0.5 48.5-1.2 15.1-0.6 30.2-5.8 45.2-10.1 15.1-4.4 30.1-13.3 45.2-18.1 14-4.5 28.1-10.5 42.2-11.3 12.2-0.6 24.5-0.5 36.8-1.1 22.7-1.1 45.4-10.2 68.2-10.2 14.9 0 29.8 0 44.7 0 18.8 0 37.6 15.1 56.4 22.6 18.8 7.5 37.7 18.9 56.5 22.6 17.1 3.4 34.3 6.7 51.4 6.8M402.9 730.3c16.2 0 32.4 0 48.5 0 15.1 0 30.2-11.3 45.2-15.8 11.3-3.4 22.6-9 33.9-9 17.8 0 35.6 9 53.5 9 19.8 0 39.6-0.9 59.4-2.2 15.2-1.1 30.4-11.2 45.6-12.5 14.9-1.2 29.8-2.2 44.7-2.2 18.8 0 37.6 11.9 56.4 16.9 18.8 5 37.7 12.2 56.5 13.6 17.1 1.2 34.3 2.2 51.4 2.2M402.9 730.3c12.4 0 24.8 2.3 37.3 4.5 15 2.8 30.1 10.5 45.1 18.1 11.3 5.7 22.6 18.3 33.9 22.6 11.3 4.3 22.6 9 33.8 9 10.4 0 20.7-15.9 31-18.1 12.2-2.5 24.5-4.5 36.8-4.5 22.7 0 45.4 6.7 68.2 11.3 14.9 3 29.8 11.3 44.7 11.3 11.3 0 22.6-4.7 33.8-9 11.3-4.3 22.6-16.9 33.9-22.6 15.1-7.6 30.1-15.9 45.2-18.1 17.1-2.5 34.3-4.5 51.4-4.5M988.9 107.8c19.6 2.1 39.2 4.9 58.7 8 14 2.1 27.9 5.2 41.8 7.6 13.9 2.4 27.8 5.2 41.8 7 12.9 1.6 25.9 3.3 38.9 3.9 34.8 1.4 69.6 2.3 104.4 2.3 12.4 0 24.9-1.1 37.3-2.1 13.9-1 27.8-3.2 41.7-5.5 13.9-2.3 27.9-6.4 41.8-9.1 13.9-2.6 27.8-5 41.7-6.9 15.8-2.2 31.6-4.2 47.4-5.6M988.9 108.4c19.6 2.1 39.2 4.9 58.7 8 14 2.3 27.9 5.3 41.8 7.8 13.9 2.5 27.8 5.4 41.8 7.3 12.9 1.8 25.9 3.9 38.9 4.4 34.8 1.4 69.6 2.1 104.4 2.1 12.4 0 24.9-1.1 37.3-2.1 13.9-1.1 27.8-3.2 41.7-5.5 13.9-2.4 27.9-6.8 41.8-9.5 13.9-2.7 27.8-5.2 41.7-7.2 15.8-2.3 31.6-4.4 47.4-5.9M988.9 201.4c17.3 1.8 34.5 3.6 51.8 5.5 18.5 2.1 37.1 4.9 55.7 6.3 13.9 1.1 27.8 2.1 41.7 2.5 10.7 0.3 21.4 0.7 32 0.7 34.8 0 69.6 0 104.4 0 17.1 0 34.1-0.2 51.2-0.4 18.5-0.3 37.1-2.9 55.7-4.9 18.5-2 37.1-5.9 55.6-7.7 15.8-1.5 31.6-2.7 47.4-3.4M988.9 229.2c17.3 1.4 34.5 1.4 51.8 1.4 18.5 0 37.1-4.7 55.7-7 13.9-1.6 27.8-4 41.7-4.8 10.7-0.7 21.4-1.4 32-1.4 34.8 0 69.6 0 104.4 0 17.1 0 34.1 0.6 51.2 1.4 13.9 0.6 27.8 3.1 41.7 4.8 14 1.8 27.9 4 41.8 5.6 13.9 1.6 27.8 3.4 41.8 4.2 11.1 0.6 22.2 1.2 33.4 1.4M988.9 229.2c17.3 0 34.5 0.3 51.8 0.7 18.5 0.4 37.1 1.5 55.7 3.5 9.2 1 18.5 4.8 27.8 6.9 15.3 3.6 30.6 8 45.9 9.8 17.2 2 34.4 2.9 51.5 4.2 17.7 1.2 35.3 3.4 52.9 3.4 7.8 0 15.6-1.1 23.3-2.1 18.6-2.3 37.2-11.8 55.7-16.7 13.9-3.6 27.9-7.3 41.8-9.7 13.9-2.4 27.8-4.4 41.7-5.6 15.8-1.3 31.6-2.5 47.4-2.8M989 839.4c11.2-6.8 22.4-10.7 33.6-10.7 5.8 0 11.6 1 17.4 2 7.7 1.4 15.5 4.8 23.2 8.7 5.8 3 11.6 7.2 17.4 13.1 3.4 3.4 6.8 6.7 10.1 14.5 1 2.2 2 7.3 2.9 11.6 1 4.3 2 12.4 2.9 14.5 5.4 11.2 10.7 13.6 16 17.4 9.6 6.8 19.3 12 29 14.5 9.5 2.4 18.9 3.8 28.4 4.9 14.7 1.7 29.4 2.3 44.1 3.8 14.5 1.4 29 4.5 43.5 4.9 5.8 0.1 11.6 0.3 17.4 0.3 8.6 0 17.3-1.2 26-2.3 9.7-1.3 19.4-4.2 29-7.3 9.7-3.1 19.4-7.2 29-13 6.8-4.1 13.6-8.2 20.3-17.4 2.4-3.3 4.9-9.2 7.3-17.4 0.9-3.3 1.9-11.8 2.9-14.5 3.4-9.5 6.7-14.3 10.1-17.4 5.8-5.3 11.6-8.3 17.4-10.2 6.8-2.1 13.6-4.3 20.3-4.3 4.8 0 9.7 0 14.5 0 10.7 0 21.5 1.9 32.2 4.3M988.9 839.8c19.7-5.5 39.4-12.1 59.1-19.2 15.1-5.4 30.2-11.5 45.2-18 11.3-4.9 22.6-11 33.9-15.8 11.3-4.9 22.6-10.3 33.8-13.6 3.1-0.9 6.1-1.6 9.1-2.2 12-2.5 24.1-5.2 36.1-5.7 23-1 45.9-1.6 68.9-1.6 9.2 0 18.4 1 27.6 2 8.5 0.9 17 4 25.6 6.4 7.1 1.9 14.2 6.3 21.3 6.3 9.2 0 18.4-2.1 27.6-2.1 10.7 0 21.3 6.4 32 8.5 10.6 2.2 21.3 4 31.9 5.4 14.4 1.8 28.7 3.4 43.1 4.2M989 793c12.1-3.1 24.3-6 36.5-8.7 14.5-3.1 29-8.6 43.5-8.6 14.5 0 29 1.1 43.5 2.9 6.8 0.8 13.5 5.1 20.3 7.2 7.7 2.4 15.4 5.1 23.2 6.4 4.6 0.8 9.3 1.1 13.9 1.7 14.7 2.1 29.4 5.2 44.1 7.8 14.5 2.7 29 7.4 43.5 8.2 5.8 0.3 11.6 0.5 17.4 0.5 8.6 0 17.3-1.4 26-2.9 9.7-1.6 19.4-7.6 29-11.6 5.8-2.3 11.6-7.2 17.4-7.2 3.9 0 7.8 2.7 11.6 4.3 9.7 4.1 19.4 10 29 14.5 9.7 4.6 19.4 9 29 13.1 9.7 4.1 19.4 9.1 29 11.6 12.7 3.3 25.3 6.3 38 7.2M989 839.4c17-1.9 34-6.4 51-11.6 14.5-4.3 29-12.3 43.5-18.8 16.4-7.4 32.9-15.2 49.3-23.2 7.7-3.8 15.4-7.7 23.2-11.6 9.6-4.8 19.3-10.6 29-14.5 14.5-5.9 29-12.4 43.5-14.5 15.4-2.3 30.9-4.3 46.4-4.3 18.3 0 36.7 6.9 55 13 19.4 6.4 38.7 20.2 58 31.9 14.5 8.8 29 21 43.5 29 17.5 9.7 35 18.3 52.5 24.6M988.9 801.4c12.2-0.2 24.4-2.9 36.6-5.6 15-3.4 30.1-14 45.1-20.3 15.1-6.4 30.1-15.2 45.2-18.1 18-3.5 36.1-5.7 54.2-6.8 19.5-1.1 39.1-1.4 58.7-2.2 15.4-0.7 30.8-2.3 46.3-2.3 9.2 0 18.4 0.2 27.6 0.4 14.2 0.3 28.4 9.4 42.6 12.8 14.2 3.4 28.4 7.4 42.6 8.5 14.2 1.1 28.4 1.5 42.6 2.1 17.9 0.8 35.8 1.5 53.7 2.2M988.9 775.5c19.7 0 39.4-4 59.1-9.1 15.1-3.8 30.2-23.4 45.2-29.3 7.5-3 15.1-5.4 22.6-6.8 18-3.4 36.1-5 54.2-6.8 19.5-1.8 39.1-2.1 58.7-4.5 15.4-1.8 30.8-11.3 46.3-11.3 12.7 0 25.5 1.9 38.2 2.6 17.8 0.9 35.5 2.1 53.3 2.1 14.2 0 28.4-2.5 42.6-4.2 14.2-1.7 28.4-5.7 42.6-6.4 10.8-0.6 21.6-1.1 32.4-1.1M988.9 772.1c12.2 0 24.4-2.6 36.6-5.7 11.3-2.8 22.5-12.5 33.8-20.3 11.3-7.7 22.6-25 33.9-27.1 15.1-2.8 30.1-3.7 45.2-4.5 10.5-0.5 21-0.7 31.6-1.1 19.5-0.9 39.1-1.9 58.7-3.4 15.4-1.2 30.8-5.4 46.3-5.7 16.3-0.2 32.6-0.4 48.9-0.4 21.3 0 42.6 6.4 63.9 6.4 14.2 0 28.4-6.4 42.6-6.4 17.9 0 35.8 2.6 53.7 8.5M989.1 699.3c30.3 7.2 60.6 13.7 90.9 19 31.6 5.5 63.3 14.2 94.9 14.2 31.7 0 63.3-7.9 95-7.9 31.7 0 63.3 6.3 95 6.3 21.1 0 42.2-17.3 63.3-22.1 18.7-4.3 37.3-7.9 56-9.5M989.1 693c30.3 9.1 60.6 18 90.9 18.9 31.6 1 63.3 1.6 94.9 1.6 31.7 0 63.3-7.9 95-7.9 31.7 0 63.3 6.3 95 6.3 26.3 0 52.7-9.9 79.1-12.6 13.4-1.4 26.8-2.5 40.2-3.2M989.1 762.6c25 0 50-2.5 75-6.3 15.9-2.5 31.7-25.4 47.5-25.4 15.9 0 31.7 19 47.5 19 36.9 0 73.9-3.1 110.8-3.1 26.4 0 52.8 31.6 79.1 31.6 26.4 0 52.8-15.8 79.2-15.8 18.7 0 37.3 2.6 56 7.9M989.1 655c30.3 8.2 60.6 12.6 90.9 12.6 31.6 0 63.3-12.6 94.9-12.6 31.7 0 63.3 9.5 95 9.5 31.7 0 63.3-1.7 95-3.2 39.7-1.8 79.5-5.3 119.3-9.5M989.1 623.3c30.3-7.2 60.6-9.5 90.9-9.5 31.6 0 63.3 13.4 94.9 15.8 31.7 2.5 63.3 3.2 95 4.8 31.7 1.6 63.3 4.7 95 4.7 39.7 0 79.5-1.9 119.3-6.3M898 104.6c14.2-0.9 28.4-1 42.6-1 15.3 0 30.6 1.2 45.9 2.8M898 130.6c4.9 0 9.8-0.4 14.7-0.9 9.3-1 18.6-5 27.9-7.7 9.2-2.6 18.5-5.7 27.8-8.3 6-1.7 12.1-3.4 18.1-4.9M898 216.1c14-2.1 28.1-4.3 42.1-6.5 16.4-2.7 32.8-5.4 49.1-8.2M898 230L989.2 230M898 234.1c11.3 0 22.6 1.3 33.9 3.3 6.6 1.2 13.1 8.6 19.7 13.1 5.4 3.8 10.9 8 16.3 11.5 7.1 4.5 14.2 8.7 21.3 12.3M898 291.5c15.7-1.5 31.3-3.9 47-6.6 14.7-2.5 29.5-5.9 44.2-9.8M898 878.3L989 839.4M898 878.3L989 840.5M898 878.3L989 793M898 802.6L989 839.4M898 802.6L989 775M898 803L989 793.5M898 759.7L989 772M898 730.3L989 790M898 730.3L989 669M1484 793.9C1516.8 793.9 1542.2 819.1 1575 819.1M1484 794.4C1516.8 794.4 1542.2 773.1 1575 773.1M1484 772H1575M1484 760.3H1575M1484 712.4C1516.8 712.4 1542.2 697.5 1575 697.5M1484 712.4C1516.8 712.4 1542.2 723 1575 723M1484 929.3C1516.8 929.3 1542.2 888.7 1575 888.7M1484 929.3C1516.8 929.3 1542.2 940.3 1575 940.3M1484 249.4C1516.8 249.4 1542.2 241 1575 241M1484 262.6C1516.8 262.6 1542.2 269.6 1575 269.6M1484 302C1516.8 302 1542.2 300 1575 300M1484 328.8H1575M1484 339C1516.8 339 1542.2 341 1575 341M1484 361C1516.8 361 1542.2 360 1575 360M1484 382C1516.8 382 1542.2 381 1575 381M1575 810.4C1607.8 810.4 1633.2 809 1666 809M1575 764.6C1607.8 764.6 1633.2 762.5 1666 762.5M1575 766C1607.8 766 1633.2 764 1666 764M1575 939.5C1607.8 939.5 1633.2 937.4 1666 937.4M1575 705C1607.8 705 1633.2 701 1666 701M1575 257C1607.8 257 1633.2 245.9 1666 245.9M1575 262.6C1607.8 262.6 1633.2 275.1 1666 275.1M1575 302H1666M1575 328.8H1666M1575 339H1666M1575 361H1666M1575 370H1666M1575 382H1666"/>
</g>
<g fill="none" stroke="#0000ff" stroke-width="4.17" stroke-linecap="square" stroke-linejoin="round">
<path d="M403 294.3c20.1 0 40.2 5.4 60.3 5.4 20.1 0 40.3-5.5 60.4-5.5 20.1 0 40.2 6.2 60.3 6.2 17.5 0 35-1.7 52.5-3.6 17.5-1.8 35-12.3 52.5-12.3 23.2 0 46.4-0.1 69.7-0.1 23.2 0 46.4 4 69.6 5.6 23.3 1.7 46.5 4.3 69.7 4.3M403 294.4c20.1 0 40.2 3.3 60.3 5 20.1 1.8 40.3 5.5 60.4 5.5 20.1 0 40.2-1.8 60.3-1.8 17.5 0 35-2.3 52.5-4.3 17.5-2.1 35-10.8 52.5-10.8 23.2 0 46.4 7.3 69.7 7.3 23.2 0 46.4-5.3 69.6-5.3 23.3 0 46.5 4.4 69.7 4.4M403 295.9c20.1 0 40.2 0.4 60.3 0.9 20.1 0.5 40.3 4 60.4 4.2 20.1 0.1 40.2 0.3 60.3 0.3 17.5 0 35-2.5 52.5-2.5 17.5 0 35 0.4 52.5 0.4 23.2 0 46.4 1.5 69.7 1.5 23.2 0 46.4-4.8 69.6-4.8 23.3 0 46.5 0 69.7 0M403 295.4c20.1 0 40.2 2.4 60.3 3.6 20.1 1.2 40.3 3.7 60.4 3.7 20.1 0 40.2-1 60.3-1 17.5 0 35 1.4 52.5 1.4 17.5 0 35-2.3 52.5-2.3 23.2 0 46.4-0.2 69.7-0.2 23.2 0 46.4 0.2 69.6 0.2 23.3 0 46.5-5.4 69.7-5.4M403 304.3c20.1 0 40.2 2.7 60.3 2.7 20.1 0 40.3-4.2 60.4-4.2 20.1 0 40.2 2.8 60.3 2.8 17.5 0 35-0.9 52.5-1.6 17.5-0.6 35-2.7 52.5-2.7 23.2 0 46.4 0.5 69.7 0.7 23.2 0.1 46.4 0.1 69.6 0.3 23.3 0.2 46.5 2 69.7 2M403 304.7c20.1 0 40.2-1 60.3-1 20.1 0 40.3 0.9 60.4 0.9 20.1 0 40.2-0.1 60.3-0.1 17.5 0 35-0.2 52.5-0.3 17.5-0.2 35-1.5 52.5-1.5 23.2 0 46.4 0.3 69.7 0.7 23.2 0.3 46.4 2.3 69.6 2.3 23.3 0 46.5-1 69.7-1M403 306.3c20.1 0 40.2 1.5 60.3 1.5 20.1 0 40.3-2.3 60.4-2.3 20.1 0 40.2 0.8 60.3 0.8 17.5 0 35-1.5 52.5-1.5 17.5 0 35 0.5 52.5 0.5 23.2 0 46.4 1.4 69.7 1.4 23.2 0 46.4-1.8 69.6-1.8 23.3 0 46.5 1.4 69.7 1.4M403 306.2c20.1 0 40.2 0.2 60.3 0.4 20.1 0.1 40.3 0.5 60.4 0.5 20.1 0 40.2-0.8 60.3-0.8 17.5 0 35 2.2 52.5 2.2 17.5 0 35-1.1 52.5-1.1 23.2 0 46.4 0.4 69.7 0.7 23.2 0.3 46.4 1 69.6 1 23.3 0 46.5-2.9 69.7-2.9M403 306.4c20.1 0 40.2 0.6 60.3 1.2 20.1 0.7 40.3 3.9 60.4 3.9 20.1 0 40.2-1.1 60.3-1.1 17.5 0 35-1.9 52.5-1.9 17.5 0 35 0.6 52.5 0.6 23.2 0 46.4 0.2 69.7 0.2 23.2 0 46.4-0.7 69.6-1.1 23.3-0.5 46.5-1.8 69.7-1.8M403 306.8c20.1 0 40.2 0 60.3-0.1 20.1-0.1 40.3-4.2 60.4-4.2 20.1 0 40.2 10.6 60.3 10.6 17.5 0 35 3.9 52.5 3.9 17.5 0 35-3.8 52.5-3.8 23.2 0 46.4 0.9 69.7 0.9 23.2 0 46.4-2 69.6-3.2 23.3-1.2 46.5-4.1 69.7-4.1M403 324.4c20.1 0 40.2 2.7 60.3 4.6 20.1 1.9 40.3 5.5 60.4 6.9 20.1 1.4 40.2 2.9 60.3 2.9 17.5 0 35-5.1 52.5-8.6 17.5-3.5 35-13.1 52.5-13.1 23.2 0 46.4 0.5 69.7 1.1 23.2 0.6 46.4 7.7 69.6 7.7 23.3 0 46.5-1.5 69.7-1.5M403 324.2c20.1 0 40.2 0.3 60.3 0.3 20.1 0 40.3-3.3 60.4-3.3 20.1 0 40.2 2.6 60.3 2.6 17.5 0 35 3.7 52.5 3.7 17.5 0 35-0.7 52.5-0.7 23.2 0 46.4-2.3 69.7-2.3 23.2 0 46.4 1.9 69.6 1.9 23.3 0 46.5-2.2 69.7-2.2M403 324.7c20.1 0 40.2-0.3 60.3-0.3 20.1 0 40.3 6.9 60.4 8 20.1 1 40.2 2 60.3 2 17.5 0 35 0.1 52.5 0.1 17.5 0 35-3.5 52.5-3.5 23.2 0 46.4-2.4 69.7-2.6 23.2-0.2 46.4-0.2 69.6-0.4 23.3-0.2 46.5-3.3 69.7-3.3M403 333.3c20.1 0 40.2 4.8 60.3 5 20.1 0.2 40.3 0.2 60.4 0.3 20.1 0.1 40.2 0.3 60.3 0.3 17.5 0 35 3.6 52.5 3.6 17.5 0 35-8.3 52.5-8.3 23.2 0 46.4-0.8 69.7-0.9 23.2 0 46.4 0 69.6 0 23.3 0 46.5 0 69.7 0M403 333c20.1 0 40.2 0.9 60.3 0.9 20.1 0 40.3-5.6 60.4-5.6 20.1 0 40.2 7.4 60.3 7.4 17.5 0 35-6.8 52.5-6.8 17.5 0 35 4.2 52.5 4.2 23.2 0 46.4 2 69.7 2 23.2 0 46.4-3.2 69.6-3.2 23.3 0 46.5 1.1 69.7 1.1M403 344.6c20.1 0 40.2 6.8 60.3 6.8 20.1 0 40.3-4.1 60.4-4.1 20.1 0 40.2 0.5 60.3 0.5 17.5 0 35-3.7 52.5-5.3 17.5-1.6 35-4.3 52.5-4.3 23.2 0 46.4 4.5 69.7 4.5 23.2 0 46.4-0.4 69.6-0.4 23.3 0 46.5 2.3 69.7 2.3M403 345.3c20.1 0 40.2 0 60.3 0 20.1-0.1 40.3-11.9 60.4-11.9 20.1 0 40.2 2.1 60.3 2.1 17.5 0 35 5.7 52.5 7.6 17.5 1.9 35 4.7 52.5 4.7 23.2 0 46.4 1.9 69.7 1.9 23.2 0 46.4-0.7 69.6-1.3 23.3-0.6 46.5-3.1 69.7-3.1M403 352.9c20.1 0 40.2 1.7 60.3 1.7 20.1 0 40.3-0.8 60.4-1.5 20.1-0.7 40.2-3.4 60.3-3.4 17.5 0 35-0.2 52.5-0.4 17.5-0.2 35-0.8 52.5-0.8 23.2 0 46.4-1 69.7-1 23.2 0 46.4 6 69.6 6 23.3 0 46.5-0.6 69.7-0.6M403 353.7c20.1 0 40.2 0.9 60.3 1.7 20.1 0.8 40.3 3.6 60.4 3.6 20.1 0 40.2-2.5 60.3-2.5 17.5 0 35 2 52.5 2 17.5 0 35-5.8 52.5-5.8 23.2 0 46.4 0.8 69.7 0.8 23.2 0 46.4-2.7 69.6-2.7 23.3 0 46.5 2.9 69.7 2.9M403 355c20.1 0 40.2-5.1 60.3-5.3 20.1-0.1 40.3-0.1 60.4-0.2 20.1-0.2 40.2-3.5 60.3-3.5 17.5 0 35-0.6 52.5-0.6 17.5 0 35 0.2 52.5 0.2 23.2 0 46.4 4.6 69.7 4.7 23.2 0 46.4 0 69.6 0.1 23.3 0.1 46.5 4.6 69.7 4.6M403 359.4c20.1 0 40.2-1.1 60.3-2 20.1-0.9 40.3-4.4 60.4-4.4 20.1 0 40.2 1.2 60.3 1.2 17.5 0 35-2.6 52.5-3.9 17.5-1.3 35-3.8 52.5-3.8 23.2 0 46.4 5.4 69.7 5.4 23.2 0 46.4-0.2 69.6-0.2 23.3 0 46.5 7.7 69.7 7.7M403 359.6c20.1 0 40.2 3.9 60.3 4.9 20.1 1.1 40.3 1.4 60.4 2.4 20.1 0.9 40.2 3.8 60.3 3.8 17.5 0 35 1.3 52.5 1.3 17.5 0 35-5.4 52.5-5.4 23.2 0 46.4-6.3 69.7-6.3 23.2 0 46.4 0.8 69.6 0.8 23.3 0 46.5-1.5 69.7-1.5M403 370.7c20.1 0 40.2 1.8 60.3 2.3 20.1 0.4 40.3 0.9 60.4 0.9 20.1 0 40.2-5.7 60.3-5.7 17.5 0 35 0.6 52.5 1 17.5 0.5 35 2.1 52.5 2.1 23.2 0 46.4 3.7 69.7 3.7 23.2 0 46.4-10.9 69.6-10.9 23.3 0 46.5 6.6 69.7 6.6M403 372.2c20.1 0 40.2 0.6 60.3 0.6 20.1 0 40.3-2.1 60.4-2.8 20.1-0.6 40.2-1.5 60.3-1.5 17.5 0 35 1 52.5 2.2 17.5 1.2 35 9.6 52.5 9.6 23.2 0 46.4-6.3 69.7-6.3 23.2 0 46.4 1.1 69.6 1.1 23.3 0 46.5-2.9 69.7-2.9M403 378c20.1 0 40.2-0.1 60.3-0.2 20.1-0.1 40.3-0.2 60.4-0.5 20.1-0.3 40.2-1.7 60.3-1.7 17.5 0 35 2.4 52.5 3.3 17.5 0.9 35 2.2 52.5 2.2 23.2 0 46.4 2.5 69.7 2.5 23.2 0 46.4-0.7 69.6-1.3 23.3-0.7 46.5-4.3 69.7-4.3M403 378.9c20.1 0 40.2-5.6 60.3-5.6 20.1 0 40.3 3.4 60.4 4.1 20.1 0.7 40.2 1.4 60.3 1.4 17.5 0 35 0.2 52.5 0.5 17.5 0.3 35 4.3 52.5 4.3 23.2 0 46.4 4 69.7 4 23.2 0 46.4-7.7 69.6-8 23.3-0.4 46.5-0.7 69.7-0.7M403 392.4c20.1 0 40.2 5.2 60.3 5.2 20.1 0 40.3-3.7 60.4-4 20.1-0.4 40.2-0.6 60.3-0.6 17.5 0 35 8.5 52.5 8.5 17.5 0 35-13.4 52.5-13.4 23.2 0 46.4 0.2 69.7 0.5 23.2 0.3 46.4 1.2 69.6 1.8 23.3 0.7 46.5 2 69.7 2M403 393c20.1 0 40.2 1 60.3 1.6 20.1 0.6 40.3 2.2 60.4 2.2 20.1 0 40.2-0.4 60.3-0.4 17.5 0 35 4.3 52.5 4.3 17.5 0 35-15.6 52.5-15.6 23.2 0 46.4-1 69.7-1 23.2 0 46.4 0.6 69.6 1.4 23.3 0.8 46.5 7.5 69.7 7.5M403 393.5c20.1 0 40.2 0.6 60.3 1.2 20.1 0.7 40.3 3.9 60.4 3.9 20.1 0 40.2-1.9 60.3-1.9 17.5 0 35-0.2 52.5-0.2 17.5 0 35 5.7 52.5 5.7 23.2 0 46.4 1.7 69.7 1.7 23.2 0 46.4-1.8 69.6-3.2 23.3-1.5 46.5-7.2 69.7-7.2M403 404.9c20.1 0 40.2-2.5 60.3-3.5 20.1-0.9 40.3-2.3 60.4-2.4 20.1-0.1 40.2-0.1 60.3-0.1 17.5 0 35-1.9 52.5-1.9 17.5 0 35 2.1 52.5 2.1 23.2 0 46.4 0 69.7 0.1 23.2 0 46.4 0.2 69.6 0.6 23.3 0.5 46.5 5.1 69.7 5.1M403 405.8c20.1 0 40.2 2.1 60.3 2.4 20.1 0.2 40.3 0.4 60.4 0.4 20.1 0 40.2-4.1 60.3-4.1 17.5 0 35 0.2 52.5 0.4 17.5 0.2 35 1.6 52.5 1.6 23.2 0 46.4 0 69.7-0.1 23.2 0 46.4-4.7 69.6-4.7 23.3 0 46.5 4.1 69.7 4.1M403 406.2c20.1 0 40.2 1 60.3 1.9 20.1 0.9 40.3 4 60.4 4 20.1 0 40.2-0.2 60.3-0.2 17.5 0 35-0.6 52.5-1.2 17.5-0.5 35-2.5 52.5-2.5 23.2 0 46.4 0 69.7 0.1 23.2 0.1 46.4 0.9 69.6 0.9 23.3 0 46.5-3 69.7-3M403 407c20.1 0 40.2 2.4 60.3 2.6 20.1 0.3 40.3 0.3 60.4 0.5 20.1 0.3 40.2 1.4 60.3 1.4 17.5 0 35 3.6 52.5 3.6 17.5 0 35-3.9 52.5-3.9 23.2 0 46.4-4.8 69.7-4.8 23.2 0 46.4 0.1 69.6 0.2 23.3 0.1 46.5 0.4 69.7 0.4M403 414.7c20.1 0 40.2-1.3 60.3-1.3 20.1 0 40.3 0.2 60.4 0.4 20.1 0.2 40.2 1.9 60.3 1.9 17.5 0 35-1.4 52.5-1.4 17.5 0 35 2.4 52.5 2.4 23.2 0 46.4-0.4 69.7-0.7 23.2-0.4 46.4-2 69.6-2 23.3 0 46.5 0.7 69.7 0.7M403 414.6c20.1 0 40.2 0.3 60.3 0.6 20.1 0.4 40.3 2.4 60.4 2.4 20.1 0 40.2-1.6 60.3-1.6 17.5 0 35-0.3 52.5-0.6 17.5-0.2 35-0.8 52.5-0.8 23.2 0 46.4 0.4 69.7 0.4 23.2 0 46.4-3 69.6-3 23.3 0 46.5 2.6 69.7 2.6M403 414.2c20.1 0 40.2-3.3 60.3-3.3 20.1 0 40.3 2.2 60.4 2.7 20.1 0.4 40.2 0.8 60.3 0.8 17.5 0 35 4.9 52.5 4.9 17.5 0 35-0.7 52.5-0.7 23.2 0 46.4 0.4 69.7 0.6 23.2 0.3 46.4 0.6 69.6 0.6 23.3 0 46.5-5.6 69.7-5.6M403 428.7c20.1 0 40.2-0.5 60.3-1 20.1-0.5 40.3-1.4 60.4-2.4 20.1-1 40.2-4.2 60.3-4.2 17.5 0 35-2.8 52.5-2.8 17.5 0 35 2.1 52.5 2.1 23.2 0 46.4 3.9 69.7 4.7 23.2 0.7 46.4 0.9 69.6 1.5 23.3 0.6 46.5 2.1 69.7 2.1M403 428.6c20.1 0 40.2 6.3 60.3 6.3 20.1 0 40.3-2.6 60.4-3.2 20.1-0.6 40.2-1.4 60.3-1.4 17.5 0 35-0.5 52.5-1.1 17.5-0.5 35-2.8 52.5-2.8 23.2 0 46.4-0.1 69.7-0.1 23.2 0 46.4 1.2 69.6 1.6 23.3 0.3 46.5 0.7 69.7 0.7M403 428.6c20.1 0 40.2-2.3 60.3-2.3 20.1 0 40.3 3.5 60.4 3.9 20.1 0.5 40.2 0.8 60.3 0.8 17.5 0 35 1.7 52.5 2.5 17.5 0.9 35 2.6 52.5 2.6 23.2 0 46.4 1.3 69.7 1.3 23.2 0 46.4-5 69.6-6.2 23.3-1.3 46.5-2.6 69.7-2.6M403 430.1c20.1 0 40.2 0.2 60.3 0.5 20.1 0.3 40.3 3.6 60.4 3.6 20.1 0 40.2-3.7 60.3-3.7 17.5 0 35-0.2 52.5-0.2 17.5 0 35 1.8 52.5 1.8 23.2 0 46.4 1.5 69.7 1.5 23.2 0 46.4-3.4 69.6-3.5 23.3 0 46.5 0 69.7 0"/>
<path d="M403 440.2c20.1 0 40.2-4 60.3-5.1 20.1-1 40.3-1.5 60.4-2.3 20.1-0.7 40.2-1.9 60.3-1.9 17.5 0 35 4.8 52.5 6 17.5 1.1 35 2.4 52.5 2.4 23.2 0 46.4-0.6 69.7-0.8 23.2-0.3 46.4-0.8 69.6-0.8 23.3 0 46.5 2.5 69.7 2.5M403 440.4c20.1 0 40.2 2.1 60.3 2.1 20.1 0 40.3-3 60.4-3.3 20.1-0.3 40.2-0.6 60.3-0.6 17.5 0 35 2.7 52.5 2.7 17.5 0 35-0.5 52.5-0.5 23.2 0 46.4 1.8 69.7 1.8 23.2 0 46.4-0.2 69.6-0.5 23.3-0.2 46.5-1.7 69.7-1.7M403 440.9c20.1 0 40.2-1 60.3-1.1 20.1-0.1 40.3-0.1 60.4-0.1 20.1 0 40.2 0.1 60.3 0.1 17.5 0 35-1.4 52.5-1.4 17.5 0 35 4.5 52.5 4.5 23.2 0 46.4 0.1 69.7 0.1 23.2 0 46.4-1.8 69.6-1.9 23.3-0.1 46.5-0.2 69.7-0.2M403 441.2c20.1 0 40.2 0.2 60.3 0.5 20.1 0.3 40.3 3.8 60.4 3.8 20.1 0 40.2-3.3 60.3-3.3 17.5 0 35 2.6 52.5 2.8 17.5 0.2 35 0.3 52.5 0.3 23.2 0 46.4-0.1 69.7-0.3 23.2-0.2 46.4-4 69.6-4 23.3 0 46.5 0.2 69.7 0.2M403 442.3c20.1 0 40.2 1.6 60.3 2.4 20.1 0.8 40.3 2.2 60.4 2.2 20.1 0 40.2-2.4 60.3-2.4 17.5 0 35-2.3 52.5-2.3 17.5 0 35 0.5 52.5 0.5 23.2 0 46.4 0.7 69.7 0.7 23.2 0 46.4-1.8 69.6-1.8 23.3 0 46.5 0.7 69.7 0.7M403 443.3c20.1 0 40.2 1.7 60.3 2.3 20.1 0.6 40.3 1 60.4 1.4 20.1 0.5 40.2 1.2 60.3 1.2 17.5 0 35-2.6 52.5-2.6 17.5 0 35 2.8 52.5 2.8 23.2 0 46.4-0.7 69.7-1.4 23.2-0.7 46.4-3.7 69.6-3.7 23.3 0 46.5 0 69.7 0M403 454.1c20.1 0 40.2 0.4 60.3 0.4 20.1 0 40.3-1.3 60.4-2 20.1-0.7 40.2-2.2 60.3-2.2 17.5 0 35 1.2 52.5 1.8 17.5 0.5 35 1.5 52.5 1.5 23.2 0 46.4 0.6 69.7 0.6 23.2 0 46.4-0.2 69.6-0.2 23.3 0 46.5 0.1 69.7 0.1M403 455.1c20.1 0 40.2 0 60.3-0.1 20.1 0 40.3-0.2 60.4-0.3 20.1-0.1 40.2-0.4 60.3-0.4 17.5 0 35-1.9 52.5-2.6 17.5-0.8 35-1.9 52.5-1.9 23.2 0 46.4 0.4 69.7 0.4 23.2 0 46.4-0.2 69.6-0.2 23.3 0 46.5 5.1 69.7 5.1M403 456.4c20.1 0 40.2-1.7 60.3-1.7 20.1 0 40.3 0.5 60.4 0.9 20.1 0.3 40.2 1.2 60.3 1.2 17.5 0 35-0.6 52.5-1 17.5-0.5 35-1.9 52.5-1.9 23.2 0 46.4-0.4 69.7-0.4 23.2 0 46.4 5.3 69.6 5.3 23.3 0 46.5-2.4 69.7-2.4M403 455.5c20.1 0 40.2 1.9 60.3 2.6 20.1 0.6 40.3 1.1 60.4 1.7 20.1 0.5 40.2 1.3 60.3 1.3 17.5 0 35-1.3 52.5-2.4 17.5-1 35-4.4 52.5-4.4 23.2 0 46.4 1.7 69.7 2.5 23.2 0.7 46.4 2.2 69.6 2.2 23.3 0 46.5-3.5 69.7-3.5M403 456.8c20.1 0 40.2 5.1 60.3 5.1 20.1 0 40.3-1.4 60.4-1.4 20.1 0 40.2 1.9 60.3 1.9 17.5 0 35-1 52.5-1.2 17.5-0.2 35-0.5 52.5-0.5 23.2 0 46.4 2 69.7 2 23.2 0 46.4-2.3 69.6-3.2 23.3-1 46.5-2.7 69.7-2.7M403 464.9c20.1 0 40.2-0.1 60.3-0.3 20.1-0.1 40.3-2.8 60.4-3 20.1-0.2 40.2-0.3 60.3-0.3 17.5 0 35 2.1 52.5 2.1 17.5 0 35-4.3 52.5-4.3 23.2 0 46.4 2.8 69.7 3.5 23.2 0.7 46.4 1.1 69.6 1.5 23.3 0.3 46.5 0.8 69.7 0.8M403 465c20.1 0 40.2 0.1 60.3 0.1 20.1 0 40.3-3.3 60.4-3.3 20.1 0 40.2 2.7 60.3 2.7 17.5 0 35-0.1 52.5-0.1 17.5 0 35 4.6 52.5 4.6 23.2 0 46.4 0.2 69.7 0.2 23.2 0 46.4-0.4 69.6-0.9 23.3-0.4 46.5-3.3 69.7-3.3M403 465.5c20.1 0 40.2-3.4 60.3-3.4 20.1 0 40.3 4.4 60.4 5 20.1 0.6 40.2 1 60.3 1 17.5 0 35 0.9 52.5 0.9 17.5 0 35-3.1 52.5-3.1 23.2 0 46.4 1.6 69.7 1.6 23.2 0 46.4-2.6 69.6-2.6 23.3 0 46.5 0.6 69.7 0.6M403 466.6c20.1 0 40.2 1.9 60.3 1.9 20.1 0 40.3-0.4 60.4-0.4 20.1 0 40.2 0.1 60.3 0.1 17.5 0 35-1.3 52.5-1.8 17.5-0.5 35-1.2 52.5-1.2 23.2 0 46.4 1.7 69.7 2 23.2 0.2 46.4 0.5 69.6 0.5 23.3 0 46.5-1.1 69.7-1.1M403 467.3c20.1 0 40.2 1.3 60.3 1.8 20.1 0.5 40.3 0.7 60.4 1.2 20.1 0.4 40.2 1.8 60.3 1.8 17.5 0 35-0.4 52.5-0.4 17.5 0 35 3.2 52.5 3.2 23.2 0 46.4-2.9 69.7-2.9 23.2 0 46.4 1.3 69.6 1.3 23.3 0 46.5-6 69.7-6M403 467.3c20.1 0 40.2 6.4 60.3 6.7 20.1 0.4 40.3 0.4 60.4 0.6 20.1 0.2 40.2 0.5 60.3 0.5 17.5 0 35 1.3 52.5 1.3 17.5 0 35-1.7 52.5-1.7 23.2 0 46.4-1.1 69.7-1.7 23.2-0.6 46.4-1 69.6-1.8 23.3-0.9 46.5-3.9 69.7-3.9M403 477.7c20.1 0 40.2-0.7 60.3-1.3 20.1-0.6 40.3-2.1 60.4-2.6 20.1-0.5 40.2-1.1 60.3-1.1 17.5 0 35 1 52.5 1.4 17.5 0.5 35 1.4 52.5 1.4 23.2 0 46.4-2 69.7-2 23.2 0 46.4 0.6 69.6 1.1 23.3 0.6 46.5 3.1 69.7 3.1M403 478.6c20.1 0 40.2-2.8 60.3-3.8 20.1-1 40.3-2.4 60.4-2.4 20.1 0 40.2 0 60.3 0 17.5 0 35 1.6 52.5 2.4 17.5 0.8 35 2.5 52.5 2.5 23.2 0 46.4-0.7 69.7-0.7 23.2 0 46.4 0.7 69.6 1.1 23.3 0.3 46.5 0.9 69.7 0.9M403 479c20.1 0 40.2 0.6 60.3 1 20.1 0.3 40.3 1.2 60.4 1.2 20.1 0 40.2-0.6 60.3-0.6 17.5 0 35-1 52.5-1.6 17.5-0.6 35-1.8 52.5-1.8 23.2 0 46.4-0.6 69.7-0.6 23.2 0 46.4 0.7 69.6 1.1 23.3 0.4 46.5 1.3 69.7 1.3M403 479.9c20.1 0 40.2 1.3 60.3 1.3 20.1 0 40.3-1.6 60.4-1.6 20.1 0 40.2 0.2 60.3 0.2 17.5 0 35-1.6 52.5-1.6 17.5 0 35 1.1 52.5 1.1 23.2 0 46.4-1.4 69.7-1.4 23.2 0 46.4 2.1 69.6 2.1 23.3 0 46.5-0.1 69.7-0.1M403 480.3c20.1 0 40.2 1.7 60.3 2.5 20.1 0.7 40.3 2 60.4 2 20.1 0 40.2-1.5 60.3-1.5 17.5 0 35-0.4 52.5-0.4 17.5 0 35 0.4 52.5 0.4 23.2 0 46.4 1.8 69.7 1.8 23.2 0 46.4-3.1 69.6-3.7 23.3-0.5 46.5-1.1 69.7-1.1M403 485.8c20.1 0 40.2-2.2 60.3-3.1 20.1-0.9 40.3-2.4 60.4-2.4 20.1 0 40.2 0.3 60.3 0.3 17.5 0 35 2.6 52.5 3.3 17.5 0.8 35 1.7 52.5 1.7 23.2 0 46.4 1.7 69.7 1.7 23.2 0 46.4-1.6 69.6-1.6 23.3 0 46.5 0.1 69.7 0.1M403 487c20.1 0 40.2 0.5 60.3 0.5 20.1 0 40.3-0.6 60.4-0.6 20.1 0 40.2 2.4 60.3 2.4 17.5 0 35-0.3 52.5-0.6 17.5-0.3 35-1.2 52.5-1.2 23.2 0 46.4-0.5 69.7-0.5 23.2 0 46.4 0 69.6 0 23.3 0 46.5 0 69.7 0M403 486.9c20.1 0 40.2 0.1 60.3 0.2 20.1 0.1 40.3 0.2 60.4 0.4 20.1 0.2 40.2 1.4 60.3 1.4 17.5 0 35-1.1 52.5-1.1 17.5 0 35 0 52.5 0 23.2 0 46.4 0.4 69.7 0.6 23.2 0.1 46.4 0.4 69.6 0.4 23.3 0 46.5-1.9 69.7-1.9M403 487.1c20.1 0 40.2 0.6 60.3 1 20.1 0.3 40.3 1 60.4 1 20.1 0 40.2-0.3 60.3-0.3 17.5 0 35-0.5 52.5-0.6 17.5 0 35-0.1 52.5-0.1 23.2 0 46.4-0.1 69.7-0.2 23.2-0.2 46.4-2.1 69.6-2.1 23.3 0 46.5 1.3 69.7 1.3M403 487.9c20.1 0 40.2 2.1 60.3 2.4 20.1 0.2 40.3 0.4 60.4 0.4 20.1 0 40.2-0.6 60.3-0.6 17.5 0 35 2.1 52.5 2.1 17.5 0 35-1.8 52.5-1.8 23.2 0 46.4-1 69.7-1 23.2 0 46.4 0 69.6 0 23.3 0 46.5-1.5 69.7-1.5M403 487.6c20.1 0 40.2 0.8 60.3 1.5 20.1 0.7 40.3 3.3 60.4 3.5 20.1 0.1 40.2 0.2 60.3 0.2 17.5 0 35 0.5 52.5 0.9 17.5 0.3 35 1.2 52.5 1.2 23.2 0 46.4 0.1 69.7 0.1 23.2 0 46.4-2.5 69.6-3.7 23.3-1.3 46.5-3.7 69.7-3.7M403 497.3c20.1 0 40.2-0.4 60.3-0.8 20.1-0.4 40.3-2.8 60.4-2.8 20.1 0 40.2 0.2 60.3 0.2 17.5 0 35 2.2 52.5 2.7 17.5 0.4 35 0.9 52.5 0.9 23.2 0 46.4-0.3 69.7-0.4 23.2-0.1 46.4-0.3 69.6-0.3 23.3 0 46.5 0.5 69.7 0.5M403 498.4c20.1 0 40.2-1.1 60.3-1.3 20.1-0.3 40.3-0.4 60.4-0.7 20.1-0.2 40.2-0.9 60.3-0.9 17.5 0 35-2.1 52.5-2.1 17.5 0 35 2 52.5 2 23.2 0 46.4-1.9 69.7-1.9 23.2 0 46.4 3 69.6 3.6 23.3 0.7 46.5 1.3 69.7 1.3M403 498.8c20.1 0 40.2-0.9 60.3-1.8 20.1-0.8 40.3-4.2 60.4-4.2 20.1 0 40.2 2.7 60.3 2.7 17.5 0 35-1.8 52.5-1.8 17.5 0 35 3.3 52.5 3.3 23.2 0 46.4-0.9 69.7-0.9 23.2 0 46.4 2.1 69.6 2.3 23.3 0.2 46.5 0.4 69.7 0.4M403 499.8c20.1 0 40.2 1.4 60.3 2.1 20.1 0.8 40.3 2.5 60.4 2.5 20.1 0 40.2-1.2 60.3-1.2 17.5 0 35 1.8 52.5 1.8 17.5 0 35-1.9 52.5-1.9 23.2 0 46.4 3.3 69.7 3.3 23.2 0 46.4-7 69.6-7 23.3 0 46.5 0.4 69.7 0.4M403 499.5c20.1 0 40.2 0.7 60.3 1.3 20.1 0.6 40.3 2.5 60.4 2.5 20.1 0 40.2-1.3 60.3-1.3 17.5 0 35-0.9 52.5-0.9 17.5 0 35 2.6 52.5 2.6 23.2 0 46.4-2.4 69.7-2.4 23.2 0 46.4 0.8 69.6 0.8 23.3 0 46.5-2.6 69.7-2.6M403 499.3c20.1 0 40.2 3.2 60.3 4.1 20.1 0.8 40.3 1.9 60.4 1.9 20.1 0 40.2-1.2 60.3-1.2 17.5 0 35-1.8 52.5-1.8 17.5 0 35 3.1 52.5 3.1 23.2 0 46.4-1.9 69.7-2.3 23.2-0.4 46.4-0.3 69.6-0.7 23.3-0.4 46.5-3.1 69.7-3.1M403 507.9c20.1 0 40.2-1.8 60.3-1.8 20.1 0 40.3 0.4 60.4 0.4 20.1 0 40.2-0.7 60.3-0.7 17.5 0 35-0.7 52.5-1.2 17.5-0.5 35-1.6 52.5-1.6 23.2 0 46.4 2.9 69.7 2.9 23.2 0 46.4-0.7 69.6-0.7 23.3 0 46.5 2.7 69.7 2.7M403 508c20.1 0 40.2-1.8 60.3-2.6 20.1-0.8 40.3-1.7 60.4-2.1 20.1-0.4 40.2-0.8 60.3-0.8 17.5 0 35 3.3 52.5 3.6 17.5 0.3 35 0.5 52.5 0.5 23.2 0 46.4-1.3 69.7-1.3 23.2 0 46.4 2.4 69.6 2.5 23.3 0.2 46.5 0.2 69.7 0.2M403 507.6c20.1 0 40.2 0.3 60.3 0.3 20.1 0.1 40.3 0.1 60.4 0.1 20.1 0.1 40.2 2.2 60.3 2.2 17.5 0 35 0.5 52.5 0.5 17.5 0 35-2.7 52.5-2.7 23.2 0 46.4 0.4 69.7 0.7 23.2 0.3 46.4 1 69.6 1 23.3 0 46.5-2.1 69.7-2.1M403 509.4c20.1 0 40.2 0.5 60.3 0.8 20.1 0.2 40.3 0.8 60.4 0.8 20.1 0 40.2-0.9 60.3-0.9 17.5 0 35 0.6 52.5 0.8 17.5 0.2 35 0.3 52.5 0.3 23.2 0 46.4 0.7 69.7 0.7 23.2 0 46.4-1.8 69.6-2.1 23.3-0.2 46.5-0.4 69.7-0.4M403 509.3c20.1 0 40.2 4 60.3 4 20.1 0 40.3-2.9 60.4-2.9 20.1 0 40.2 1.6 60.3 1.6 17.5 0 35 1 52.5 1 17.5 0 35-4.2 52.5-4.2 23.2 0 46.4-0.2 69.7-0.2 23.2 0 46.4 1.8 69.6 1.8 23.3 0 46.5-1.1 69.7-1.1M403 518.5c20.1 0 40.2-1.3 60.3-1.7 20.1-0.4 40.3-0.5 60.4-0.9 20.1-0.3 40.2-1.2 60.3-1.2 17.5 0 35 3.9 52.5 3.9 17.5 0 35-1 52.5-1 23.2 0 46.4 0.4 69.7 0.4 23.2 0 46.4-1.4 69.6-1.4 23.3 0 46.5 1.9 69.7 1.9"/>
<path d="M403 519.8c20.1 0 40.2-1.9 60.3-2.5 20.1-0.6 40.3-0.8 60.4-1.3 20.1-0.6 40.2-1.9 60.3-1.9 17.5 0 35-2.3 52.5-2.3 17.5 0 35 5.6 52.5 5.6 23.2 0 46.4 1.6 69.7 2 23.2 0.5 46.4 1.1 69.6 1.1 23.3 0 46.5-0.7 69.7-0.7M403 520.4c20.1 0 40.2-2.6 60.3-2.6 20.1 0 40.3 2.9 60.4 3 20.1 0.2 40.2 0.3 60.3 0.3 17.5 0 35 1 52.5 1 17.5 0 35-2.1 52.5-2.1 23.2 0 46.4-1.8 69.7-1.8 23.2 0 46.4 1 69.6 1.3 23.3 0.4 46.5 0.9 69.7 0.9M403 522c20.1 0 40.2-1.9 60.3-1.9 20.1 0 40.3 0.5 60.4 0.5 20.1 0 40.2-1.3 60.3-1.3 17.5 0 35 1.3 52.5 1.3 17.5 0 35-2.6 52.5-2.6 23.2 0 46.4 0.3 69.7 0.5 23.2 0.3 46.4 1 69.6 1.6 23.3 0.6 46.5 1.9 69.7 1.9M403 521.4c20.1 0 40.2 1.3 60.3 1.3 20.1 0 40.3-0.4 60.4-0.7 20.1-0.3 40.2-1 60.3-1 17.5 0 35 0.6 52.5 1 17.5 0.3 35 1.1 52.5 1.1 23.2 0 46.4 2 69.7 2 23.2 0 46.4-4.9 69.6-4.9 23.3 0 46.5 1.2 69.7 1.2M403 527.8c20.1 0 40.2-1.4 60.3-2.2 20.1-0.8 40.3-2.6 60.4-2.6 20.1 0 40.2 0.1 60.3 0.1 17.5 0 35 1 52.5 1.8 17.5 0.8 35 3.3 52.5 3.3 23.2 0 46.4 0.3 69.7 0.3 23.2 0 46.4-0.2 69.6-0.4 23.3-0.1 46.5-0.3 69.7-0.3M403 528.4c20.1 0 40.2 3.4 60.3 3.4 20.1 0 40.3-2.6 60.4-3.2 20.1-0.5 40.2-1.2 60.3-1.2 17.5 0 35-0.8 52.5-1.4 17.5-0.6 35-2.7 52.5-2.7 23.2 0 46.4 2.8 69.7 3.2 23.2 0.5 46.4 0.6 69.6 0.9 23.3 0.3 46.5 1 69.7 1M403 528.9c20.1 0 40.2-1.9 60.3-1.9 20.1 0 40.3 4 60.4 4 20.1 0 40.2 0 60.3 0 17.5 0 35 0.7 52.5 0.7 17.5 0 35-1.8 52.5-1.8 23.2 0 46.4-1.1 69.7-1.1 23.2 0 46.4 1.2 69.6 1.2 23.3 0 46.5-1.1 69.7-1.1M403 529.2c20.1 0 40.2-0.5 60.3-0.5 20.1 0 40.3 1.6 60.4 1.6 20.1 0 40.2-0.7 60.3-0.7 17.5 0 35-1.1 52.5-1.1 17.5 0 35 4.7 52.5 4.7 23.2 0 46.4-3.9 69.7-3.9 23.2 0 46.4 1.1 69.6 1.1 23.3 0 46.5-1.2 69.7-1.2M403 541c20.1 0 40.2-4.7 60.3-5.8 20.1-1 40.3-1.1 60.4-2 20.1-1 40.2-4.2 60.3-4.2 17.5 0 35 0.4 52.5 0.8 17.5 0.4 35 1.8 52.5 1.8 23.2 0 46.4-0.5 69.7-0.5 23.2 0 46.4 5.5 69.6 6.9 23.3 1.4 46.5 3 69.7 3M403 542.1c20.1 0 40.2-0.9 60.3-0.9 20.1 0 40.3 3.3 60.4 3.3 20.1 0 40.2-4.3 60.3-4.3 17.5 0 35-0.4 52.5-0.6 17.5-0.1 35-0.3 52.5-0.3 23.2 0 46.4-4 69.7-4 23.2 0 46.4 2.5 69.6 3.6 23.3 1.1 46.5 3.2 69.7 3.2M403 542.4c20.1 0 40.2-4 60.3-5.4 20.1-1.4 40.3-3.3 60.4-3.3 20.1 0 40.2 2.2 60.3 2.2 17.5 0 35-0.4 52.5-0.4 17.5 0 35 2.9 52.5 2.9 23.2 0 46.4-1 69.7-1 23.2 0 46.4 1.5 69.6 2.3 23.3 0.9 46.5 2.7 69.7 2.7M403 542.3c20.1 0 40.2 0.3 60.3 0.7 20.1 0.4 40.3 2.9 60.4 2.9 20.1 0 40.2-0.4 60.3-0.4 17.5 0 35 0.9 52.5 0.9 17.5 0 35-0.8 52.5-0.8 23.2 0 46.4 0 69.7 0 23.2 0 46.4-0.7 69.6-1.2 23.3-0.5 46.5-2.1 69.7-2.1M403 542.8c20.1 0 40.2-2.4 60.3-2.4 20.1 0 40.3 0.4 60.4 0.8 20.1 0.5 40.2 2.9 60.3 2.9 17.5 0 35-0.7 52.5-0.7 17.5 0 35 2.2 52.5 2.2 23.2 0 46.4 0.1 69.7 0.1 23.2 0 46.4-3.9 69.6-3.9 23.3 0 46.5 1 69.7 1M403 549.4c20.1 0 40.2-2.8 60.3-3.2 20.1-0.4 40.3-0.4 60.4-0.7 20.1-0.2 40.2-0.9 60.3-0.9 17.5 0 35 4.4 52.5 4.4 17.5 0 35-2.2 52.5-2.2 23.2 0 46.4 0.8 69.7 0.8 23.2 0 46.4-0.4 69.6-0.4 23.3 0 46.5 2.2 69.7 2.2M403 549.6c20.1 0 40.2 0.3 60.3 0.3 20.1 0 40.3-2.1 60.4-2.5 20.1-0.3 40.2-0.7 60.3-0.7 17.5 0 35 1.8 52.5 2.9 17.5 1.1 35 3.8 52.5 3.8 23.2 0 46.4 1.5 69.7 1.5 23.2 0 46.4-4.5 69.6-4.8 23.3-0.3 46.5-0.5 69.7-0.5M403 550.2c20.1 0 40.2 1 60.3 1.1 20.1 0.2 40.3 0.4 60.4 0.4 20.1 0 40.2 0 60.3 0 17.5 0 35 2.1 52.5 2.1 17.5 0 35-1.1 52.5-1.1 23.2 0 46.4-1.8 69.7-2.3 23.2-0.5 46.4-1.1 69.6-1.1 23.3 0 46.5 0.9 69.7 0.9M403 550.3c20.1 0 40.2 1.2 60.3 1.8 20.1 0.6 40.3 1.5 60.4 1.9 20.1 0.4 40.2 1 60.3 1 17.5 0 35 0.4 52.5 0.6 17.5 0.2 35 0.4 52.5 0.4 23.2 0 46.4-0.9 69.7-1.2 23.2-0.3 46.4-0.4 69.6-0.8 23.3-0.4 46.5-3.7 69.7-3.7M403 560.6c20.1 0 40.2-1.4 60.3-2.3 20.1-0.8 40.3-2.4 60.4-3 20.1-0.5 40.2-1 60.3-1 17.5 0 35-2.8 52.5-2.8 17.5 0 35 0.5 52.5 0.5 23.2 0 46.4 2.7 69.7 2.7 23.2 0 46.4-1 69.6-1 23.3 0 46.5 6.9 69.7 6.9M403 560.5c20.1 0 40.2-1.3 60.3-1.3 20.1 0 40.3 0.8 60.4 0.8 20.1 0 40.2-1.4 60.3-1.4 17.5 0 35-2.1 52.5-2.5 17.5-0.5 35-0.8 52.5-0.8 23.2 0 46.4 1.5 69.7 2.3 23.2 0.9 46.4 2.7 69.6 2.8 23.3 0.1 46.5 0.1 69.7 0.1M403 560c20.1 0 40.2 3.2 60.3 3.2 20.1 0 40.3-0.5 60.4-0.6 20.1-0.2 40.2-0.3 60.3-0.3 17.5 0 35 0 52.5 0 17.5 0 35-2.4 52.5-2.4 23.2 0 46.4-0.7 69.7-0.7 23.2 0 46.4 1.2 69.6 1.2 23.3 0 46.5-0.4 69.7-0.4M403 561.4c20.1 0 40.2-0.3 60.3-0.5 20.1-0.2 40.3-1 60.4-1.2 20.1-0.1 40.2-0.3 60.3-0.3 17.5 0 35 0.9 52.5 1.3 17.5 0.4 35 0.9 52.5 0.9 23.2 0 46.4-0.1 69.7-0.3 23.2-0.2 46.4-2.4 69.6-2.4 23.3 0 46.5 2.5 69.7 2.5M403 562c20.1 0 40.2-0.6 60.3-1 20.1-0.3 40.3-0.8 60.4-1.1 20.1-0.3 40.2-0.8 60.3-0.8 17.5 0 35 3.9 52.5 3.9 17.5 0 35-1.6 52.5-1.6 23.2 0 46.4 1 69.7 1 23.2 0 46.4-0.6 69.6-0.6 23.3 0 46.5 0.2 69.7 0.2M403 560.6c20.1 0 40.2 1.4 60.3 1.4 20.1 0 40.3-0.1 60.4-0.2 20.1-0.1 40.2-0.8 60.3-0.8 17.5 0 35 1.2 52.5 1.9 17.5 0.7 35 2 52.5 2 23.2 0 46.4-0.5 69.7-1 23.2-0.5 46.4-3 69.6-3.1 23.3-0.2 46.5-0.2 69.7-0.2M403 561.9c20.1 0 40.2 0.1 60.3 0.1 20.1 0.1 40.3 2.4 60.4 2.4 20.1 0 40.2-2.6 60.3-2.6 17.5 0 35-2.5 52.5-2.5 17.5 0 35 3.3 52.5 3.3 23.2 0 46.4-1.6 69.7-1.6 23.2 0 46.4 2.5 69.6 2.5 23.3 0 46.5-1.6 69.7-1.6M403 571.2c20.1 0 40.2-1.9 60.3-2.6 20.1-0.7 40.3-1.2 60.4-1.7 20.1-0.5 40.2-1.3 60.3-1.3 17.5 0 35-2 52.5-2 17.5 0 35 4.2 52.5 4.2 23.2 0 46.4-0.6 69.7-0.6 23.2 0 46.4 2.5 69.6 3 23.3 0.5 46.5 1 69.7 1M403 572.3c20.1 0 40.2-0.9 60.3-1.6 20.1-0.6 40.3-1.8 60.4-2.2 20.1-0.5 40.2-1 60.3-1 17.5 0 35-2 52.5-2 17.5 0 35 0.9 52.5 0.9 23.2 0 46.4 1.5 69.7 1.5 23.2 0 46.4-0.7 69.6-0.7 23.3 0 46.5 5.1 69.7 5.1M403 572.6c20.1 0 40.2-3.3 60.3-4.2 20.1-1 40.3-2.2 60.4-2.2 20.1 0 40.2 1.6 60.3 1.6 17.5 0 35 4.8 52.5 4.8 17.5 0 35-0.3 52.5-0.3 23.2 0 46.4-0.8 69.7-0.8 23.2 0 46.4 0.9 69.6 1 23.3 0 46.5 0.1 69.7 0.1M403 573.1c20.1 0 40.2-3.4 60.3-3.4 20.1 0 40.3 7.7 60.4 7.7 20.1 0 40.2-2 60.3-2 17.5 0 35-0.3 52.5-0.7 17.5-0.3 35-2.5 52.5-2.5 23.2 0 46.4-3.3 69.7-3.3 23.2 0 46.4 0.1 69.6 0.4 23.3 0.2 46.5 3.8 69.7 3.8M403 573.8c20.1 0 40.2 0.4 60.3 0.4 20.1 0 40.3-9.2 60.4-9.2 20.1 0 40.2 1.6 60.3 1.6 17.5 0 35 8.4 52.5 8.4 17.5 0 35-0.9 52.5-0.9 23.2 0 46.4-0.6 69.7-1.2 23.2-0.7 46.4-5.3 69.6-5.3 23.3 0 46.5 6.2 69.7 6.2M403 583.4c20.1 0 40.2-0.8 60.3-1.6 20.1-0.8 40.3-4 60.4-5.1 20.1-1.1 40.2-2.5 60.3-2.5 17.5 0 35 4.4 52.5 5 17.5 0.6 35 1.1 52.5 1.1 23.2 0 46.4-1.2 69.7-1.2 23.2 0 46.4 1.3 69.6 2 23.3 0.7 46.5 2.3 69.7 2.3M403 584.1c20.1 0 40.2 7.2 60.3 7.2 20.1 0 40.3-2 60.4-2 20.1 0 40.2 3.3 60.3 3.3 17.5 0 35-6.1 52.5-6.1 17.5 0 35 5.3 52.5 5.3 23.2 0 46.4 1.7 69.7 1.7 23.2 0 46.4-6 69.6-7.2 23.3-1.1 46.5-2.2 69.7-2.2M403 583.4c20.1 0 40.2 7.4 60.3 7.4 20.1 0 40.3-1.7 60.4-1.7 20.1 0 40.2 2.2 60.3 2.2 17.5 0 35-3.9 52.5-5.1 17.5-1.2 35-2.8 52.5-2.8 23.2 0 46.4-0.3 69.7-0.7 23.2-0.4 46.4-5.4 69.6-5.4 23.3 0 46.5 6.1 69.7 6.1M403 594.2c20.1 0 40.2 1.7 60.3 1.7 20.1 0 40.3-5 60.4-5 20.1 0 40.2 1.3 60.3 1.3 17.5 0 35-1.9 52.5-2.5 17.5-0.6 35-1.5 52.5-1.5 23.2 0 46.4 4.1 69.7 4.1 23.2 0 46.4-1.1 69.6-1.1 23.3 0 46.5 3 69.7 3M403 596.6c20.1 0 40.2 1.1 60.3 1.1 20.1 0 40.3-1.5 60.4-1.9 20.1-0.4 40.2-0.9 60.3-0.9 17.5 0 35 2.8 52.5 2.8 17.5 0 35-0.7 52.5-0.7 23.2 0 46.4 0.2 69.7 0.5 23.2 0.3 46.4 1.9 69.6 1.9 23.3 0 46.5-2.8 69.7-2.8M403 595.3c20.1 0 40.2 1.8 60.3 2.9 20.1 1.1 40.3 3.7 60.4 3.7 20.1 0 40.2-0.2 60.3-0.2 17.5 0 35-4.1 52.5-5 17.5-0.9 35-2 52.5-2 23.2 0 46.4 2.6 69.7 2.6 23.2 0 46.4-6.9 69.6-6.9 23.3 0 46.5 4.9 69.7 4.9M403 596.1c20.1 0 40.2 1.8 60.3 2.5 20.1 0.8 40.3 1.9 60.4 1.9 20.1 0 40.2-0.3 60.3-0.3 17.5 0 35 2.1 52.5 2.6 17.5 0.6 35 1.2 52.5 1.2 23.2 0 46.4-0.8 69.7-0.9 23.2 0 46.4 0 69.6-0.1 23.3 0 46.5-6.9 69.7-6.9M403 597c20.1 0 40.2 7.3 60.3 7.3 20.1 0 40.3-4.7 60.4-4.7 20.1 0 40.2 1.9 60.3 1.9 17.5 0 35-4.2 52.5-4.2 17.5 0 35 4.7 52.5 4.7 23.2 0 46.4-2.6 69.7-3.1 23.2-0.6 46.4-0.9 69.6-1.2 23.3-0.3 46.5-0.7 69.7-0.7M403 609.9c20.1 0 40.2-4.3 60.3-5.8 20.1-1.4 40.3-3 60.4-3.5 20.1-0.5 40.2-0.9 60.3-0.9 17.5 0 35 5.3 52.5 5.3 17.5 0 35-0.2 52.5-0.2 23.2 0 46.4-0.6 69.7-0.6 23.2 0 46.4 1.9 69.6 2.9 23.3 0.9 46.5 2.8 69.7 2.8M403 610.8c20.1 0 40.2-0.8 60.3-1.6 20.1-0.7 40.3-3.7 60.4-3.7 20.1 0 40.2 1.9 60.3 1.9 17.5 0 35-0.1 52.5-0.1 17.5 0 35 1.7 52.5 1.7 23.2 0 46.4 7 69.7 7 23.2 0 46.4-6.4 69.6-6.4 23.3 0 46.5 1.2 69.7 1.2M403 611.1c20.1 0 40.2-2.5 60.3-3.7 20.1-1.3 40.3-3.8 60.4-3.8 20.1 0 40.2 4.6 60.3 4.6 17.5 0 35 5.4 52.5 6.4 17.5 0.9 35 1.8 52.5 1.8 23.2 0 46.4-0.7 69.7-1.3 23.2-0.6 46.4-2.1 69.6-2.7 23.3-0.6 46.5-1.3 69.7-1.3"/>
<path d="M403 611c20.1 0 40.2 5.1 60.3 5.1 20.1 0 40.3-1.4 60.4-2.2 20.1-0.8 40.2-2.9 60.3-2.9 17.5 0 35-1.5 52.5-1.5 17.5 0 35 5.7 52.5 5.7 23.2 0 46.4-1.2 69.7-1.2 23.2 0 46.4 1.3 69.6 1.3 23.3 0 46.5-4.3 69.7-4.3M403 617.5c20.1 0 40.2-0.1 60.3-0.4 20.1-0.2 40.3-5.4 60.4-5.4 20.1 0 40.2 1.9 60.3 1.9 17.5 0 35 5.5 52.5 5.5 17.5 0 35-1.7 52.5-1.7 23.2 0 46.4 3.8 69.7 3.8 23.2 0 46.4-6.1 69.6-6.1 23.3 0 46.5 2.4 69.7 2.4M403 618c20.1 0 40.2-3.5 60.3-3.5 20.1 0 40.3 0.4 60.4 0.8 20.1 0.4 40.2 2.9 60.3 2.9 17.5 0 35 1.7 52.5 1.7 17.5 0 35-0.8 52.5-0.8 23.2 0 46.4 2 69.7 2 23.2 0 46.4-1.8 69.6-2.2 23.3-0.4 46.5-0.9 69.7-0.9M403 619.4c20.1 0 40.2-1.1 60.3-1.1 20.1 0 40.3 1.1 60.4 1.3 20.1 0.1 40.2 0.2 60.3 0.2 17.5 0 35-0.3 52.5-0.8 17.5-0.4 35-3 52.5-3 23.2 0 46.4-2.2 69.7-2.2 23.2 0 46.4 0.1 69.6 0.2 23.3 0.2 46.5 5.4 69.7 5.4M403 627.2c20.1 0 40.2-0.7 60.3-0.7 20.1 0 40.3 2.5 60.4 2.5 20.1 0 40.2-2.7 60.3-2.7 17.5 0 35-1.5 52.5-2.5 17.5-0.9 35-3.2 52.5-3.2 23.2 0 46.4 0.9 69.7 1.1 23.2 0.2 46.4 0.2 69.6 0.5 23.3 0.3 46.5 5 69.7 5M403 627.1c20.1 0 40.2-0.3 60.3-0.8 20.1-0.5 40.3-8 60.4-8 20.1 0 40.2 3.4 60.3 3.4 17.5 0 35 3 52.5 4.6 17.5 1.7 35 5.1 52.5 5.1 23.2 0 46.4-1.6 69.7-1.9 23.2-0.3 46.4-0.3 69.6-0.5 23.3-0.3 46.5-1.9 69.7-1.9M403 627.9c20.1 0 40.2-2 60.3-2 20.1 0 40.3 4.4 60.4 4.4 20.1 0 40.2-1.7 60.3-1.7 17.5 0 35 1 52.5 1.6 17.5 0.6 35 2.1 52.5 2.1 23.2 0 46.4-2.1 69.7-2.1 23.2 0 46.4 1.2 69.6 1.2 23.3 0 46.5-3.5 69.7-3.5M403 629.7c20.1 0 40.2 4.1 60.3 5.2 20.1 1.2 40.3 1.6 60.4 2.5 20.1 0.9 40.2 2.7 60.3 2.7 17.5 0 35-4 52.5-4.5 17.5-0.6 35-1.1 52.5-1.1 23.2 0 46.4 1.5 69.7 1.5 23.2 0 46.4-6.5 69.6-6.5 23.3 0 46.5 0.2 69.7 0.2M403 637.6c20.1 0 40.2-1.2 60.3-1.5 20.1-0.3 40.3-0.6 60.4-0.6 20.1 0 40.2 0.8 60.3 0.8 17.5 0 35 2 52.5 2.3 17.5 0.3 35 0.5 52.5 0.5 23.2 0 46.4-0.9 69.7-0.9 23.2 0 46.4 6.8 69.6 6.8 23.3 0 46.5-7.4 69.7-7.4M403 637.4c20.1 0 40.2-1.3 60.3-1.3 20.1 0 40.3 11.1 60.4 11.1 20.1 0 40.2-0.9 60.3-0.9 17.5 0 35-3.2 52.5-4.6 17.5-1.5 35-4.2 52.5-4.2 23.2 0 46.4 3.6 69.7 3.6 23.2 0 46.4-9.3 69.6-9.3 23.3 0 46.5 5.6 69.7 5.6M403 647.6c20.1 0 40.2 6.9 60.3 6.9 20.1 0 40.3-9.2 60.4-9.2 20.1 0 40.2 6.2 60.3 6.2 17.5 0 35 0.2 52.5 0.2 17.5 0 35-5.1 52.5-5.1 23.2 0 46.4 2.1 69.7 2.1 23.2 0 46.4-1.6 69.6-1.6 23.3 0 46.5 0.5 69.7 0.5M403 648.5c20.1 0 40.2 1.4 60.3 2.3 20.1 1 40.3 2.4 60.4 4 20.1 1.5 40.2 5.7 60.3 5.7 17.5 0 35-5.4 52.5-8.2 17.5-2.9 35-8.8 52.5-8.8 23.2 0 46.4-2.2 69.7-3.5 23.2-1.3 46.4-4.3 69.6-4.3 23.3 0 46.5 12.8 69.7 12.8M403 660c20.1 0 40.2-7.8 60.3-7.8 20.1 0 40.3 14.3 60.4 14.3 20.1 0 40.2-3.6 60.3-3.6 17.5 0 35 2.7 52.5 2.7 17.5 0 35-5.3 52.5-5.3 23.2 0 46.4 2.4 69.7 2.4 23.2 0 46.4-2.3 69.6-2.5 23.3-0.1 46.5-0.2 69.7-0.2M403 659.5c20.1 0 40.2-0.7 60.3-1.1 20.1-0.4 40.3-0.7 60.4-1.3 20.1-0.5 40.2-2.4 60.3-2.4 17.5 0 35 2.4 52.5 2.9 17.5 0.5 35 1.1 52.5 1.1 23.2 0 46.4-3.2 69.7-3.2 23.2 0 46.4 0.2 69.6 0.6 23.3 0.3 46.5 3.4 69.7 3.4M403 670.7c20.1 0 40.2-6.4 60.3-6.4 20.1 0 40.3 2.7 60.4 2.7 20.1 0 40.2-1 60.3-1 17.5 0 35-3.2 52.5-3.2 17.5 0 35 3.5 52.5 3.5 23.2 0 46.4-0.1 69.7-0.1 23.2 0 46.4 6.4 69.6 6.4 23.3 0 46.5-1.9 69.7-1.9M403 671.3c20.1 0 40.2-2.1 60.3-2.1 20.1 0 40.3 3.4 60.4 3.4 20.1 0 40.2-3 60.3-3 17.5 0 35 6.4 52.5 6.4 17.5 0 35-2.7 52.5-2.7 23.2 0 46.4-5.7 69.7-5.7 23.2 0 46.4 0.2 69.6 0.5 23.3 0.2 46.5 3.2 69.7 3.2M403 671.2c20.1 0 40.2-0.1 60.3-0.2 20.1-0.1 40.3-4 60.4-4 20.1 0 40.2 1.6 60.3 1.6 17.5 0 35 3.2 52.5 3.8 17.5 0.5 35 1 52.5 1 23.2 0 46.4 1.6 69.7 1.6 23.2 0 46.4-4 69.6-4 23.3 0 46.5 0.2 69.7 0.2M403 678.1c20.1 0 40.2 0.6 60.3 1 20.1 0.4 40.3 1.6 60.4 1.6 20.1 0 40.2-4.6 60.3-4.6 17.5 0 35 4.5 52.5 4.5 17.5 0 35-0.3 52.5-0.3 23.2 0 46.4-2.5 69.7-2.5 23.2 0 46.4 1 69.6 1 23.3 0 46.5-0.7 69.7-0.7M989 294.2c20.1 0 40.2 0.7 60.3 1.6 20.1 0.9 40.3 9.9 60.4 9.9 20.1 0 40.2-4.8 60.3-4.8 17.5 0 35-7.1 52.5-10.3 17.5-3.1 35-8.8 52.5-8.8 23.2 0 46.4-1.1 69.7-1.1 23.2 0 46.4 4.9 69.6 7.1 23.3 2.3 46.5 6.4 69.7 6.4M989 293.8c20.1 0 40.2 7.3 60.3 8.4 20.1 1.2 40.3 1.4 60.4 2.2 20.1 0.7 40.2 2.5 60.3 2.5 17.5 0 35-5.8 52.5-8.8 17.5-3.1 35-9.5 52.5-9.5 23.2 0 46.4 0.2 69.7 0.6 23.2 0.3 46.4 3.7 69.6 4 23.3 0.4 46.5 0.6 69.7 0.6M989 296.4c20.1 0 40.2 4.9 60.3 5.3 20.1 0.4 40.3 0.7 60.4 0.7 20.1 0 40.2 0.1 60.3 0.1 17.5 0 35-2.2 52.5-2.4 17.5-0.2 35-0.4 52.5-0.4 23.2 0 46.4 0.5 69.7 0.5 23.2 0 46.4-4 69.6-4 23.3 0 46.5 0.2 69.7 0.2M989 295.9c20.1 0 40.2 4.2 60.3 4.5 20.1 0.3 40.3 0.4 60.4 0.4 20.1 0 40.2-0.1 60.3-0.1 17.5 0 35 0.3 52.5 0.3 17.5 0 35-0.7 52.5-0.7 23.2 0 46.4-4.8 69.7-4.8 23.2 0 46.4 6.9 69.6 6.9 23.3 0 46.5-6.5 69.7-6.5M989 303.6c20.1 0 40.2 2.8 60.3 2.9 20.1 0.1 40.3 0.2 60.4 0.2 20.1 0 40.2-1.9 60.3-1.9 17.5 0 35-0.7 52.5-1.1 17.5-0.4 35-1.5 52.5-1.5 23.2 0 46.4 0.6 69.7 1.2 23.2 0.7 46.4 3.9 69.6 3.9 23.3 0 46.5-3.7 69.7-3.7M989 304.5c20.1 0 40.2-2.1 60.3-2.1 20.1 0 40.3 1.2 60.4 1.2 20.1 0 40.2-1.4 60.3-1.4 17.5 0 35 2.4 52.5 2.8 17.5 0.5 35 1 52.5 1 23.2 0 46.4 0.1 69.7 0.1 23.2 0 46.4-0.1 69.6-0.2 23.3-0.2 46.5-1.4 69.7-1.4M989 306.3c20.1 0 40.2-1.8 60.3-1.8 20.1 0 40.3 2 60.4 2 20.1 0 40.2-1 60.3-1 17.5 0 35-2.4 52.5-2.4 17.5 0 35 1.1 52.5 1.1 23.2 0 46.4 2.9 69.7 2.9 23.2 0 46.4-0.6 69.6-0.7 23.3-0.1 46.5-0.1 69.7-0.1M989 306.5c20.1 0 40.2-0.2 60.3-0.4 20.1-0.2 40.3-1.3 60.4-1.3 20.1 0 40.2 3.4 60.3 3.4 17.5 0 35 0.4 52.5 0.4 17.5 0 35-0.1 52.5-0.1 23.2 0 46.4 0.7 69.7 0.7 23.2 0 46.4-3.1 69.6-3.1 23.3 0 46.5 0.4 69.7 0.4M989 306.8c20.1 0 40.2 5.5 60.3 5.5 20.1 0 40.3-1.5 60.4-1.7 20.1-0.1 40.2-0.3 60.3-0.3 17.5 0 35-0.6 52.5-0.6 17.5 0 35 1.1 52.5 1.1 23.2 0 46.4-3.2 69.7-3.2 23.2 0 46.4 1.2 69.6 1.2 23.3 0 46.5-2 69.7-2M989 307.6c20.1 0 40.2 0.5 60.3 1.1 20.1 0.6 40.3 4.4 60.4 4.4 20.1 0 40.2-2.5 60.3-2.5 17.5 0 35 7.4 52.5 7.4 17.5 0 35-1.3 52.5-1.3 23.2 0 46.4-0.3 69.7-0.6 23.2-0.3 46.4-0.8 69.6-1.6 23.3-0.9 46.5-6.9 69.7-6.9M989 326.1c20.1 0 40.2 12.3 60.3 12.4 20.1 0.2 40.3 0.3 60.4 0.3 20.1 0 40.2-1.9 60.3-1.9 17.5 0 35-8.2 52.5-11.9 17.5-3.6 35-10.2 52.5-10.2 23.2 0 46.4 4.4 69.7 4.4 23.2 0 46.4-1 69.6-1 23.3 0 46.5 7.9 69.7 7.9M989 325.8c20.1 0 40.2 0.6 60.3 0.6 20.1 0 40.3-1.8 60.4-2.2 20.1-0.3 40.2-0.7 60.3-0.7 17.5 0 35-0.1 52.5-0.1 17.5 0 35 6.7 52.5 6.7 23.2 0 46.4 1.9 69.7 1.9 23.2 0 46.4-2.3 69.6-3.4 23.3-1 46.5-2.8 69.7-2.8M989 326.4c20.1 0 40.2 6.6 60.3 6.6 20.1 0 40.3-3.5 60.4-3.5 20.1 0 40.2 4.6 60.3 4.6 17.5 0 35 3 52.5 3 17.5 0 35-4.4 52.5-4.4 23.2 0 46.4 3.1 69.7 3.1 23.2 0 46.4-5.7 69.6-6.9 23.3-1.2 46.5-2.5 69.7-2.5M989 331.5c20.1 0 40.2 2.3 60.3 3.4 20.1 1 40.3 2.6 60.4 2.8 20.1 0.2 40.2 0.3 60.3 0.3 17.5 0 35-1.1 52.5-1.7 17.5-0.6 35-2.1 52.5-2.1 23.2 0 46.4 2.7 69.7 2.7 23.2 0 46.4-6.1 69.6-6.1 23.3 0 46.5 0.7 69.7 0.7M989 331.5c20.1 0 40.2-2.8 60.3-2.8 20.1 0 40.3 3.6 60.4 4.1 20.1 0.4 40.2 0.8 60.3 0.8 17.5 0 35 6.6 52.5 6.6 17.5 0 35-7.6 52.5-7.6 23.2 0 46.4-0.8 69.7-1.4 23.2-0.5 46.4-2.6 69.6-2.6 23.3 0 46.5 2.9 69.7 2.9M989 343.9c20.1 0 40.2-0.1 60.3-0.1 20.1 0 40.3 5.9 60.4 5.9 20.1 0 40.2-0.1 60.3-0.1 17.5 0 35-0.3 52.5-0.8 17.5-0.5 35-9.6 52.5-9.6 23.2 0 46.4-1.9 69.7-1.9 23.2 0 46.4 4.1 69.6 4.9 23.3 0.8 46.5 1.7 69.7 1.7M989 344.2c20.1 0 40.2-1.4 60.3-1.8 20.1-0.5 40.3-0.6 60.4-1.1 20.1-0.5 40.2-2.2 60.3-2.2 17.5 0 35 4.4 52.5 6.2 17.5 1.8 35 5 52.5 5 23.2 0 46.4 2.7 69.7 2.7 23.2 0 46.4-1.9 69.6-3.3 23.3-1.4 46.5-5.5 69.7-5.5M989 353.4c20.1 0 40.2-4.2 60.3-4.2 20.1 0 40.3 6.9 60.4 6.9 20.1 0 40.2-7.6 60.3-7.6 17.5 0 35-2.7 52.5-2.7 17.5 0 35 4.9 52.5 4.9 23.2 0 46.4-3.4 69.7-3.4 23.2 0 46.4 7.7 69.6 7.7 23.3 0 46.5-1.6 69.7-1.6M989 353.2c20.1 0 40.2 1.8 60.3 1.8 20.1 0 40.3-0.5 60.4-0.5 20.1 0 40.2 0.8 60.3 0.8 17.5 0 35 1.7 52.5 1.9 17.5 0.3 35 0.6 52.5 0.6 23.2 0 46.4 1.5 69.7 1.5 23.2 0 46.4-4.1 69.6-4.8 23.3-0.7 46.5-1.3 69.7-1.3M989 354.5c20.1 0 40.2-3.5 60.3-4.8 20.1-1.3 40.3-3.3 60.4-3.3 20.1 0 40.2 2.2 60.3 2.2 17.5 0 35-4.1 52.5-4.1 17.5 0 35 0.7 52.5 0.7 23.2 0 46.4-1.2 69.7-1.2 23.2 0 46.4 8.1 69.6 9 23.3 0.9 46.5 1.5 69.7 1.5M989 360.5c20.1 0 40.2-3.1 60.3-4.2 20.1-1.1 40.3-1.8 60.4-2.7 20.1-1 40.2-3.1 60.3-3.1 17.5 0 35-2.8 52.5-2.8 17.5 0 35 0.7 52.5 0.7 23.2 0 46.4 5 69.7 5 23.2 0 46.4-4.4 69.6-4.4 23.3 0 46.5 11.5 69.7 11.5M989 360.5c20.1 0 40.2 4.8 60.3 6.4 20.1 1.7 40.3 3.9 60.4 3.9 20.1 0 40.2-1.8 60.3-1.8 17.5 0 35-3.7 52.5-3.7 17.5 0 35 0.5 52.5 0.5 23.2 0 46.4-4.4 69.7-4.4 23.2 0 46.4 4 69.6 4 23.3 0 46.5-4.9 69.7-4.9"/>
<path d="M989 372.2c20.1 0 40.2-4 60.3-5.1 20.1-1.2 40.3-2.5 60.4-2.5 20.1 0 40.2 2.5 60.3 2.5 17.5 0 35 2.3 52.5 3.4 17.5 1.1 35 3.4 52.5 3.4 23.2 0 46.4-4.2 69.7-4.2 23.2 0 46.4 3 69.6 3 23.3 0 46.5-0.5 69.7-0.5M989 373.6c20.1 0 40.2 4 60.3 4 20.1 0 40.3-9.5 60.4-9.5 20.1 0 40.2 0.8 60.3 0.8 17.5 0 35 7.4 52.5 9 17.5 1.5 35 3.1 52.5 3.1 23.2 0 46.4-4.1 69.7-4.1 23.2 0 46.4 0.9 69.6 0.9 23.3 0 46.5-4.2 69.7-4.2M989 377.8c20.1 0 40.2-2 60.3-2.4 20.1-0.4 40.3-0.7 60.4-0.7 20.1 0 40.2 0.2 60.3 0.2 17.5 0 35 5.2 52.5 5.2 17.5 0 35-0.1 52.5-0.1 23.2 0 46.4 7.1 69.7 7.1 23.2 0 46.4-8 69.6-8.5 23.3-0.5 46.5-0.8 69.7-0.8M989 379.7c20.1 0 40.2 3.6 60.3 3.6 20.1 0 40.3-4.4 60.4-5.3 20.1-1 40.2-2 60.3-2 17.5 0 35 5.1 52.5 5.1 17.5 0 35-1.2 52.5-1.2 23.2 0 46.4-1.4 69.7-1.9 23.2-0.5 46.4-1.1 69.6-1.1 23.3 0 46.5 2.8 69.7 2.8M989 393.6c20.1 0 40.2-0.3 60.3-0.6 20.1-0.3 40.3-2.5 60.4-2.5 20.1 0 40.2 3.5 60.3 3.5 17.5 0 35-2.6 52.5-4 17.5-1.3 35-4 52.5-4 23.2 0 46.4-3.9 69.7-3.9 23.2 0 46.4 5.9 69.6 7.6 23.3 1.7 46.5 3.9 69.7 3.9M989 394.5c20.1 0 40.2-0.1 60.3-0.1 20.1 0 40.3 6 60.4 6 20.1 0 40.2-7.6 60.3-7.6 17.5 0 35 3.8 52.5 3.8 17.5 0 35-10.3 52.5-10.3 23.2 0 46.4 3 69.7 3 23.2 0 46.4-1.1 69.6-1.1 23.3 0 46.5 6.3 69.7 6.3M989 394.2c20.1 0 40.2 1.1 60.3 1.1 20.1 0.1 40.3 0.1 60.4 0.1 20.1 0 40.2-2.8 60.3-2.8 17.5 0 35 3.9 52.5 6.2 17.5 2.2 35 7.3 52.5 7.3 23.2 0 46.4-2.3 69.7-4 23.2-1.7 46.4-6.8 69.6-7.2 23.3-0.4 46.5-0.7 69.7-0.7M989 404.1c20.1 0 40.2-4.9 60.3-4.9 20.1 0 40.3 1.8 60.4 1.8 20.1 0 40.2-6.2 60.3-6.2 17.5 0 35 1.6 52.5 2.6 17.5 1 35 3.6 52.5 3.6 23.2 0 46.4 1 69.7 1.4 23.2 0.4 46.4 0.8 69.6 1.1 23.3 0.2 46.5 0.6 69.7 0.6M989 404.6c20.1 0 40.2 1.4 60.3 1.8 20.1 0.5 40.3 1.2 60.4 1.2 20.1 0 40.2-1.8 60.3-1.8 17.5 0 35-5.3 52.5-5.3 17.5 0 35 4.1 52.5 4.1 23.2 0 46.4-0.3 69.7-0.3 23.2 0 46.4 1.2 69.6 1.2 23.3 0 46.5-0.9 69.7-0.9M989 406.1c20.1 0 40.2 0.7 60.3 1.4 20.1 0.7 40.3 4 60.4 4 20.1 0 40.2-2.5 60.3-2.5 17.5 0 35-1.5 52.5-1.5 17.5 0 35 0.1 52.5 0.1 23.2 0 46.4 1.4 69.7 1.9 23.2 0.6 46.4 1.4 69.6 1.4 23.3 0 46.5-4.8 69.7-4.8M989 407.1c20.1 0 40.2 1.4 60.3 2.2 20.1 0.8 40.3 2.3 60.4 2.5 20.1 0.2 40.2 0.4 60.3 0.4 17.5 0 35-0.9 52.5-0.9 17.5 0 35 0.2 52.5 0.2 23.2 0 46.4 1.4 69.7 1.4 23.2 0 46.4-8.3 69.6-8.3 23.3 0 46.5 2.5 69.7 2.5M989 415c20.1 0 40.2-2.6 60.3-2.6 20.1 0 40.3 3.2 60.4 3.7 20.1 0.5 40.2 0.9 60.3 0.9 17.5 0 35 2.2 52.5 2.2 17.5 0 35-2.5 52.5-2.5 23.2 0 46.4 1.4 69.7 1.4 23.2 0 46.4-4.2 69.6-4.2 23.3 0 46.5 1.1 69.7 1.1M989 415.3c20.1 0 40.2 5.9 60.3 5.9 20.1 0 40.3-3.2 60.4-3.3 20.1-0.1 40.2-0.2 60.3-0.2 17.5 0 35-3 52.5-3 17.5 0 35 0.3 52.5 0.3 23.2 0 46.4 1 69.7 1.6 23.2 0.7 46.4 2.4 69.6 2.4 23.3 0 46.5-3.7 69.7-3.7M989 414.8c20.1 0 40.2-0.2 60.3-0.5 20.1-0.3 40.3-4.7 60.4-4.7 20.1 0 40.2 4.4 60.3 4.4 17.5 0 35 0.9 52.5 1.8 17.5 0.8 35 4.8 52.5 4.8 23.2 0 46.4-0.2 69.7-0.2 23.2 0 46.4 0.5 69.6 0.5 23.3 0 46.5-6.1 69.7-6.1M989 428.9c20.1 0 40.2-7.6 60.3-7.6 20.1 0 40.3 0.5 60.4 0.5 20.1 0 40.2-2 60.3-2 17.5 0 35-2.8 52.5-2.8 17.5 0 35 4.1 52.5 4.1 23.2 0 46.4 1.2 69.7 1.2 23.2 0 46.4-1.3 69.6-1.3 23.3 0 46.5 7.9 69.7 7.9M989 427.9c20.1 0 40.2 0.3 60.3 0.3 20.1 0 40.3-1.8 60.4-1.8 20.1 0 40.2 4.1 60.3 4.1 17.5 0 35-4.9 52.5-5 17.5-0.2 35-0.3 52.5-0.3 23.2 0 46.4-3.7 69.7-3.7 23.2 0 46.4 0 69.6 0 23.3 0 46.5 6.4 69.7 6.4M989 428.9c20.1 0 40.2 3.2 60.3 3.4 20.1 0.2 40.3 0.3 60.4 0.3 20.1 0 40.2-2.5 60.3-2.5 17.5 0 35 2.4 52.5 2.6 17.5 0.3 35 0.4 52.5 0.4 23.2 0 46.4-1.1 69.7-1.1 23.2 0 46.4 2.4 69.6 2.4 23.3 0 46.5-5.5 69.7-5.5M989 430.9c20.1 0 40.2-1.7 60.3-1.7 20.1 0 40.3 0.6 60.4 0.6 20.1 0 40.2-1.2 60.3-1.2 17.5 0 35 4 52.5 4 17.5 0 35-0.9 52.5-0.9 23.2 0 46.4 0.3 69.7 0.5 23.2 0.3 46.4 2.3 69.6 2.3 23.3 0 46.5-3.6 69.7-3.6M989 438.7c20.1 0 40.2-2.5 60.3-3.3 20.1-0.9 40.3-1.9 60.4-2.2 20.1-0.2 40.2-0.4 60.3-0.4 17.5 0 35 1.7 52.5 2.4 17.5 0.7 35 1.7 52.5 1.7 23.2 0 46.4-2 69.7-2 23.2 0 46.4 0.4 69.6 0.8 23.3 0.4 46.5 3 69.7 3M989 439.2c20.1 0 40.2 0.6 60.3 0.6 20.1 0 40.3-5.7 60.4-5.7 20.1 0 40.2 3.2 60.3 3.2 17.5 0 35 4 52.5 4 17.5 0 35-0.7 52.5-0.7 23.2 0 46.4 0.3 69.7 0.5 23.2 0.3 46.4 1.3 69.6 1.3 23.3 0 46.5-3.2 69.7-3.2M989 438.4c20.1 0 40.2 3.2 60.3 3.7 20.1 0.6 40.3 1.2 60.4 1.2 20.1 0 40.2-0.9 60.3-0.9 17.5 0 35 4 52.5 4 17.5 0 35-3 52.5-3 23.2 0 46.4-0.3 69.7-0.5 23.2-0.3 46.4-1.2 69.6-1.9 23.3-0.7 46.5-2.6 69.7-2.6M989 441c20.1 0 40.2 3.2 60.3 3.2 20.1 0 40.3-2.6 60.4-2.6 20.1 0 40.2 1.3 60.3 1.3 17.5 0 35 2.5 52.5 2.5 17.5 0 35-1.8 52.5-1.8 23.2 0 46.4 1.1 69.7 1.1 23.2 0 46.4-2.8 69.6-3.1 23.3-0.3 46.5-0.6 69.7-0.6M989 441.7c20.1 0 40.2-0.7 60.3-0.9 20.1-0.3 40.3-0.5 60.4-0.5 20.1 0 40.2 3.6 60.3 3.6 17.5 0 35 2.7 52.5 2.7 17.5 0 35-4 52.5-4 23.2 0 46.4-2.6 69.7-2.6 23.2 0 46.4 0.1 69.6 0.2 23.3 0.1 46.5 1.5 69.7 1.5M989 442.4c20.1 0 40.2 4.1 60.3 4.9 20.1 0.8 40.3 1.6 60.4 1.6 20.1 0 40.2-0.2 60.3-0.2 17.5 0 35 0.1 52.5 0.1 17.5 0 35-0.8 52.5-0.8 23.2 0 46.4-0.2 69.7-0.4 23.2-0.2 46.4-2 69.6-2.9 23.3-0.8 46.5-2.3 69.7-2.3M989 453.3c20.1 0 40.2-2.1 60.3-2.2 20.1-0.2 40.3-0.2 60.4-0.2 20.1 0 40.2 1 60.3 1 17.5 0 35 2.7 52.5 3.2 17.5 0.5 35 0.9 52.5 0.9 23.2 0 46.4 1.7 69.7 1.7 23.2 0 46.4-0.4 69.6-0.9 23.3-0.4 46.5-3.5 69.7-3.5M989 454c20.1 0 40.2-0.3 60.3-0.8 20.1-0.4 40.3-4.5 60.4-4.5 20.1 0 40.2 3.7 60.3 3.7 17.5 0 35 0 52.5 0 17.5 0 35-2 52.5-2 23.2 0 46.4 0.3 69.7 0.3 23.2 0 46.4-3.3 69.6-3.3 23.3 0 46.5 6.6 69.7 6.6M989 455.6c20.1 0 40.2 2.8 60.3 2.8 20.1 0 40.3-2.1 60.4-2.4 20.1-0.3 40.2-0.6 60.3-0.6 17.5 0 35-1.5 52.5-2.2 17.5-0.7 35-2.1 52.5-2.1 23.2 0 46.4 0.6 69.7 1 23.2 0.4 46.4 0.9 69.6 1.5 23.3 0.6 46.5 2 69.7 2M989 454.6c20.1 0 40.2 2.5 60.3 3.2 20.1 0.6 40.3 1.3 60.4 1.4 20.1 0.1 40.2 0.2 60.3 0.2 17.5 0 35-1.3 52.5-2 17.5-0.7 35-2.4 52.5-2.4 23.2 0 46.4 1.4 69.7 1.4 23.2 0 46.4-0.4 69.6-0.7 23.3-0.2 46.5-1.1 69.7-1.1M989 456c20.1 0 40.2 9.1 60.3 9.1 20.1 0 40.3-2.7 60.4-2.7 20.1 0 40.2 0.3 60.3 0.3 17.5 0 35-1.7 52.5-1.7 17.5 0 35 0.4 52.5 0.4 23.2 0 46.4-1.8 69.7-1.8 23.2 0 46.4 0.2 69.6 0.2 23.3 0 46.5-3.8 69.7-3.8M989 464.8c20.1 0 40.2-0.8 60.3-1.1 20.1-0.3 40.3-0.5 60.4-0.8 20.1-0.3 40.2-1 60.3-1 17.5 0 35-1.3 52.5-1.8 17.5-0.6 35-1.4 52.5-1.4 23.2 0 46.4 0.2 69.7 0.5 23.2 0.3 46.4 3.3 69.6 4.1 23.3 0.7 46.5 1.5 69.7 1.5M989 465c20.1 0 40.2 2.4 60.3 2.4 20.1 0 40.3-1.6 60.4-2 20.1-0.4 40.2-0.9 60.3-0.9 17.5 0 35 1.3 52.5 2 17.5 0.6 35 2 52.5 2 23.2 0 46.4-1.8 69.7-2.4 23.2-0.5 46.4-1.2 69.6-1.2 23.3 0 46.5 0.1 69.7 0.1M989 466.2c20.1 0 40.2 0.7 60.3 0.7 20.1 0 40.3-0.1 60.4-0.1 20.1 0 40.2 0.4 60.3 0.4 17.5 0 35-0.3 52.5-0.4 17.5-0.1 35-0.2 52.5-0.2 23.2 0 46.4-1.8 69.7-1.8 23.2 0 46.4 1.5 69.6 1.5 23.3 0 46.5-0.1 69.7-0.1M989 465.7c20.1 0 40.2-2.1 60.3-2.1 20.1 0 40.3 1.2 60.4 1.9 20.1 0.7 40.2 2 60.3 2 17.5 0 35-2 52.5-2 17.5 0 35 0.4 52.5 0.4 23.2 0 46.4 1.1 69.7 1.1 23.2 0 46.4-2.1 69.6-2.1 23.3 0 46.5 0.8 69.7 0.8M989 467.3c20.1 0 40.2 1 60.3 1.9 20.1 0.9 40.3 3.9 60.4 4.1 20.1 0.1 40.2 0.2 60.3 0.2 17.5 0 35 0.5 52.5 0.8 17.5 0.3 35 1.1 52.5 1.1 23.2 0 46.4 0.5 69.7 0.5 23.2 0 46.4-2.4 69.6-3.8 23.3-1.4 46.5-4.8 69.7-4.8M989 466.9c20.1 0 40.2 4.1 60.3 5.3 20.1 1.2 40.3 2.2 60.4 2.8 20.1 0.6 40.2 1.3 60.3 1.3 17.5 0 35-0.2 52.5-0.4 17.5-0.2 35-2.3 52.5-2.3 23.2 0 46.4-0.9 69.7-1.7 23.2-0.8 46.4-2.9 69.6-3.6 23.3-0.7 46.5-1.4 69.7-1.4M989 477.4c20.1 0 40.2-0.6 60.3-1.1 20.1-0.6 40.3-3.6 60.4-3.6 20.1 0 40.2 0.2 60.3 0.2 17.5 0 35 0.8 52.5 1.2 17.5 0.4 35 1 52.5 1 23.2 0 46.4 0.8 69.7 1.2 23.2 0.4 46.4 1.3 69.6 1.3 23.3 0 46.5-0.2 69.7-0.2M989 477.7c20.1 0 40.2-7.7 60.3-7.7 20.1 0 40.3 0.1 60.4 0.2 20.1 0.1 40.2 0.8 60.3 0.8 17.5 0 35 3.7 52.5 4 17.5 0.3 35 0.5 52.5 0.5 23.2 0 46.4-2.1 69.7-2.1 23.2 0 46.4 3.6 69.6 3.8 23.3 0.3 46.5 0.5 69.7 0.5M989 479.6c20.1 0 40.2 0.3 60.3 0.3 20.1 0 40.3-0.1 60.4-0.1 20.1 0 40.2 1.4 60.3 1.4 17.5 0 35-2.1 52.5-3 17.5-1 35-2.7 52.5-2.7 23.2 0 46.4-2.1 69.7-2.1 23.2 0 46.4 3.8 69.6 4.6 23.3 0.8 46.5 1.6 69.7 1.6M989 479.6c20.1 0 40.2 2.1 60.3 2.1 20.1 0 40.3-3.7 60.4-3.7 20.1 0 40.2 2.1 60.3 2.1 17.5 0 35-1.7 52.5-1.7 17.5 0 35 0.2 52.5 0.2 23.2 0 46.4 1.9 69.7 1.9 23.2 0 46.4-0.9 69.6-0.9 23.3 0 46.5 0 69.7 0M989 480.2c20.1 0 40.2 0.6 60.3 1.3 20.1 0.6 40.3 3.9 60.4 3.9 20.1 0 40.2-1.8 60.3-1.8 17.5 0 35-3.4 52.5-3.4 17.5 0 35 1.8 52.5 1.8 23.2 0 46.4-0.5 69.7-0.6 23.2-0.1 46.4-0.1 69.6-0.1 23.3-0.1 46.5-1.1 69.7-1.1"/>
<path d="M989 483.7c20.1 0 40.2-1.1 60.3-1.1 20.1 0 40.3 1.2 60.4 1.2 20.1 0 40.2-1.3 60.3-1.3 17.5 0 35-1.2 52.5-1.2 17.5 0 35 3.8 52.5 3.8 23.2 0 46.4 0 69.7-0.1 23.2-0.1 46.4-1.8 69.6-1.8 23.3 0 46.5 0.5 69.7 0.5M989 484.1c20.1 0 40.2 4.1 60.3 5 20.1 1 40.3 2 60.4 2 20.1 0 40.2-0.8 60.3-0.8 17.5 0 35-1.2 52.5-1.2 17.5 0 35 1.1 52.5 1.1 23.2 0 46.4-2 69.7-2.3 23.2-0.4 46.4-0.3 69.6-0.7 23.3-0.3 46.5-3.1 69.7-3.1M989 484.5c20.1 0 40.2 0.3 60.3 0.5 20.1 0.3 40.3 1.2 60.4 1.6 20.1 0.5 40.2 1.3 60.3 1.3 17.5 0 35 0.8 52.5 0.8 17.5 0 35-0.5 52.5-0.5 23.2 0 46.4-1.1 69.7-1.1 23.2 0 46.4 2 69.6 2 23.3 0 46.5-4.6 69.7-4.6M989 484.7c20.1 0 40.2 1.6 60.3 1.7 20.1 0.2 40.3 0.2 60.4 0.3 20.1 0.2 40.2 1.1 60.3 1.1 17.5 0 35-1.9 52.5-1.9 17.5 0 35 1.2 52.5 1.2 23.2 0 46.4-1 69.7-1 23.2 0 46.4 1.4 69.6 1.4 23.3 0 46.5-2.8 69.7-2.8M989 486c20.1 0 40.2 2.5 60.3 3.6 20.1 1.2 40.3 3.3 60.4 3.3 20.1 0 40.2-1.4 60.3-1.4 17.5 0 35 0.1 52.5 0.1 17.5 0 35-3.5 52.5-3.5 23.2 0 46.4 0.5 69.7 0.5 23.2 0 46.4-2.4 69.6-2.5 23.3-0.1 46.5-0.1 69.7-0.1M989 485.8c20.1 0 40.2 2.5 60.3 3.5 20.1 1.1 40.3 2.6 60.4 3 20.1 0.4 40.2 0.7 60.3 0.7 17.5 0 35-1.9 52.5-1.9 17.5 0 35 2.8 52.5 2.8 23.2 0 46.4-0.2 69.7-0.5 23.2-0.3 46.4-3.6 69.6-4.8 23.3-1.2 46.5-2.8 69.7-2.8M989 497c20.1 0 40.2-0.8 60.3-1.3 20.1-0.4 40.3-1.3 60.4-1.3 20.1 0 40.2 0.5 60.3 0.5 17.5 0 35 1.3 52.5 1.3 17.5 0 35-0.4 52.5-0.4 23.2 0 46.4 3.9 69.7 3.9 23.2 0 46.4-5.1 69.6-5.1 23.3 0 46.5 2.4 69.7 2.4M989 498.9c20.1 0 40.2-1.9 60.3-1.9 20.1 0 40.3 2 60.4 2 20.1 0 40.2-3.6 60.3-3.6 17.5 0 35-2.8 52.5-2.8 17.5 0 35 0.1 52.5 0.1 23.2 0 46.4 0.2 69.7 0.3 23.2 0.2 46.4 1.5 69.6 2.5 23.3 0.9 46.5 3.4 69.7 3.4M989 498.8c20.1 0 40.2-1 60.3-1.8 20.1-0.9 40.3-4.7 60.4-4.7 20.1 0 40.2 2.1 60.3 2.1 17.5 0 35 1.6 52.5 2.1 17.5 0.6 35 1.3 52.5 1.3 23.2 0 46.4 0.5 69.7 1 23.2 0.6 46.4 3.5 69.6 3.5 23.3 0 46.5-3.5 69.7-3.5M989 499.9c20.1 0 40.2 1.5 60.3 1.8 20.1 0.3 40.3 0.3 60.4 0.5 20.1 0.3 40.2 1.3 60.3 1.3 17.5 0 35-0.1 52.5-0.3 17.5-0.2 35-0.8 52.5-0.8 23.2 0 46.4-4.4 69.7-4.4 23.2 0 46.4 3.8 69.6 3.8 23.3 0 46.5-1.9 69.7-1.9M989 499.5c20.1 0 40.2 4.6 60.3 4.6 20.1 0 40.3-0.8 60.4-0.8 20.1 0 40.2 0.5 60.3 0.5 17.5 0 35 0.1 52.5 0.1 17.5 0.1 35 0.2 52.5 0.2 23.2 0 46.4-0.6 69.7-0.9 23.2-0.3 46.4-0.6 69.6-1.1 23.3-0.5 46.5-2.6 69.7-2.6M989 499.7c20.1 0 40.2 0.3 60.3 0.8 20.1 0.4 40.3 5.7 60.4 5.7 20.1 0 40.2-1.7 60.3-1.7 17.5 0 35 0.8 52.5 1.4 17.5 0.6 35 2.7 52.5 2.7 23.2 0 46.4-1.5 69.7-1.7 23.2-0.1 46.4 0 69.6-0.2 23.3-0.1 46.5-7 69.7-7M989 507.4c20.1 0 40.2-0.8 60.3-1.3 20.1-0.5 40.3-1.6 60.4-1.6 20.1 0 40.2 0.3 60.3 0.3 17.5 0 35 1.4 52.5 1.4 17.5 0 35-3.1 52.5-3.1 23.2 0 46.4 0.4 69.7 0.8 23.2 0.3 46.4 2.1 69.6 2.6 23.3 0.4 46.5 0.9 69.7 0.9M989 508.3c20.1 0 40.2-2.6 60.3-3.9 20.1-1.3 40.3-3.8 60.4-3.8 20.1 0 40.2 1.7 60.3 1.7 17.5 0 35 1.7 52.5 2.4 17.5 0.7 35 1.9 52.5 1.9 23.2 0 46.4 2.2 69.7 2.2 23.2 0 46.4-2 69.6-2 23.3 0 46.5 1.5 69.7 1.5M989 508.3c20.1 0 40.2 0.9 60.3 1.3 20.1 0.4 40.3 1 60.4 1 20.1 0 40.2-0.9 60.3-0.9 17.5 0 35-0.2 52.5-0.3 17.5-0.2 35-1.2 52.5-1.2 23.2 0 46.4 0.1 69.7 0.2 23.2 0.1 46.4 1 69.6 1 23.3 0 46.5-1.1 69.7-1.1M989 509.4c20.1 0 40.2 0.9 60.3 0.9 20.1 0 40.3-0.8 60.4-0.8 20.1 0 40.2 0.9 60.3 0.9 17.5 0 35 1.7 52.5 1.7 17.5 0 35-1.3 52.5-1.3 23.2 0 46.4 1.1 69.7 1.1 23.2 0 46.4-0.8 69.6-1.2 23.3-0.4 46.5-1.3 69.7-1.3M989 510.5c20.1 0 40.2 2.6 60.3 2.6 20.1 0 40.3-4.1 60.4-4.1 20.1 0 40.2 4.2 60.3 4.2 17.5 0 35-1.4 52.5-2.3 17.5-0.9 35-3.2 52.5-3.2 23.2 0 46.4 0.5 69.7 0.5 23.2 0 46.4-2.1 69.6-2.1 23.3 0 46.5 4.4 69.7 4.4M989 518c20.1 0 40.2 3 60.3 3 20.1 0 40.3-2.7 60.4-3.1 20.1-0.3 40.2-0.7 60.3-0.7 17.5 0 35-0.6 52.5-0.6 17.5 0 35 0.6 52.5 0.6 23.2 0 46.4-0.4 69.7-0.4 23.2 0 46.4 1.3 69.6 1.3 23.3 0 46.5-0.1 69.7-0.1M989 519.8c20.1 0 40.2-1.6 60.3-2.7 20.1-1.2 40.3-4.7 60.4-4.7 20.1 0 40.2 2.2 60.3 2.2 17.5 0 35 0.8 52.5 1.4 17.5 0.7 35 2.8 52.5 2.8 23.2 0 46.4 0.7 69.7 0.9 23.2 0.3 46.4 0.7 69.6 0.7 23.3 0 46.5-0.6 69.7-0.6M989 520c20.1 0 40.2 1.9 60.3 1.9 20.1 0 40.3-3.1 60.4-3.1 20.1 0 40.2 1.9 60.3 1.9 17.5 0 35-1.7 52.5-1.7 17.5 0 35 0.5 52.5 0.5 23.2 0 46.4 0.8 69.7 0.8 23.2 0 46.4-1.6 69.6-1.6 23.3 0 46.5 1.3 69.7 1.3M989 521.5c20.1 0 40.2-0.2 60.3-0.6 20.1-0.3 40.3-2.5 60.4-2.5 20.1 0 40.2 1.1 60.3 1.1 17.5 0 35-0.3 52.5-0.6 17.5-0.3 35-2.8 52.5-2.8 23.2 0 46.4 0.4 69.7 0.8 23.2 0.4 46.4 2.2 69.6 2.9 23.3 0.7 46.5 1.7 69.7 1.7M989 520.7c20.1 0 40.2 0.4 60.3 0.4 20.1 0 40.3-1.2 60.4-1.2 20.1 0 40.2 1.2 60.3 1.2 17.5 0 35-1.7 52.5-1.7 17.5 0 35 2.1 52.5 2.1 23.2 0 46.4 0 69.7 0 23.2 0 46.4-1.3 69.6-1.3 23.3 0 46.5 0.5 69.7 0.5M989 527.7c20.1 0 40.2-4.6 60.3-4.9 20.1-0.2 40.3-0.3 60.4-0.3 20.1 0 40.2 0.2 60.3 0.2 17.5 0 35 3 52.5 3.4 17.5 0.4 35 0.8 52.5 0.8 23.2 0 46.4 2.1 69.7 2.1 23.2 0 46.4-0.2 69.6-0.4 23.3-0.2 46.5-0.9 69.7-0.9M989 528.6c20.1 0 40.2 1.8 60.3 1.8 20.1 0 40.3-3.2 60.4-3.2 20.1 0 40.2 0.4 60.3 0.4 17.5 0 35-1.6 52.5-2.4 17.5-0.7 35-2.1 52.5-2.1 23.2 0 46.4-0.8 69.7-0.8 23.2 0 46.4 1.3 69.6 2.3 23.3 0.9 46.5 4 69.7 4M989 528.7c20.1 0 40.2 4.1 60.3 4.1 20.1 0 40.3-0.8 60.4-1.1 20.1-0.2 40.2-0.6 60.3-0.6 17.5 0 35 0.9 52.5 0.9 17.5 0 35-1.7 52.5-1.7 23.2 0 46.4 4.4 69.7 4.4 23.2 0 46.4-0.9 69.6-1.7 23.3-0.8 46.5-4.3 69.7-4.3M989 529.9c20.1 0 40.2-2.4 60.3-2.4 20.1 0 40.3 2.8 60.4 2.8 20.1 0 40.2-2.2 60.3-2.2 17.5 0 35 0.8 52.5 1.6 17.5 0.7 35 4 52.5 4 23.2 0 46.4 1.6 69.7 1.6 23.2 0 46.4-6.7 69.6-6.7 23.3 0 46.5 1.3 69.7 1.3M989 542.2c20.1 0 40.2-6.4 60.3-8.2 20.1-1.9 40.3-4.4 60.4-4.4 20.1 0 40.2 0.4 60.3 0.4 17.5 0 35 6.1 52.5 6.1 17.5 0 35-2.8 52.5-2.8 23.2 0 46.4-2.6 69.7-2.6 23.2 0 46.4 8.2 69.6 9.3 23.3 1.2 46.5 2.2 69.7 2.2M989 541.7c20.1 0 40.2 1.6 60.3 1.6 20.1 0 40.3-2.5 60.4-2.9 20.1-0.4 40.2-0.7 60.3-0.7 17.5 0 35 1.7 52.5 1.7 17.5 0 35-2.6 52.5-2.6 23.2 0 46.4 6.5 69.7 6.5 23.2 0 46.4-4.4 69.6-4.4 23.3 0 46.5 0.8 69.7 0.8M989 543.2c20.1 0 40.2-5 60.3-5 20.1 0 40.3 0.5 60.4 0.5 20.1 0 40.2-4.2 60.3-4.2 17.5 0 35 4.1 52.5 4.5 17.5 0.3 35 0.6 52.5 0.6 23.2 0 46.4-2 69.7-2 23.2 0 46.4 3.7 69.6 4.3 23.3 0.7 46.5 1.3 69.7 1.3M989 542.7c20.1 0 40.2 2.6 60.3 2.6 20.1 0 40.3-1.4 60.4-1.4 20.1 0 40.2 2.4 60.3 2.4 17.5 0 35-1.8 52.5-1.8 17.5 0 35 1.4 52.5 1.4 23.2 0 46.4-0.9 69.7-1.4 23.2-0.6 46.4-2.2 69.6-2.2 23.3 0 46.5 0.4 69.7 0.4M989 543.2c20.1 0 40.2 1.3 60.3 1.3 20.1 0 40.3-0.2 60.4-0.3 20.1-0.1 40.2-0.6 60.3-0.6 17.5 0 35-2.3 52.5-2.3 17.5 0 35 5.1 52.5 5.1 23.2 0 46.4-0.9 69.7-0.9 23.2-0.1 46.4-0.1 69.6-0.2 23.3-0.1 46.5-2.1 69.7-2.1M989 549.8c20.1 0 40.2-3.7 60.3-3.7 20.1 0 40.3 0.7 60.4 0.7 20.1 0 40.2 0 60.3 0 17.5 0 35-0.2 52.5-0.5 17.5-0.3 35-1.8 52.5-1.8 23.2 0 46.4-2.1 69.7-2.1 23.2 0 46.4 3 69.6 4.2 23.3 1.2 46.5 3.2 69.7 3.2M989 549.4c20.1 0 40.2-5 60.3-5 20.1 0 40.3 4.6 60.4 4.6 20.1 0 40.2-1.6 60.3-1.6 17.5 0 35 1.5 52.5 2.6 17.5 1.1 35 4.9 52.5 4.9 23.2 0 46.4-2.1 69.7-3 23.2-0.9 46.4-2.7 69.6-2.7 23.3 0 46.5 0.2 69.7 0.2M989 549.6c20.1 0 40.2-1.6 60.3-1.6 20.1 0 40.3 6 60.4 6 20.1 0 40.2-2.1 60.3-2.1 17.5 0 35-2.1 52.5-2.1 17.5 0 35 0.8 52.5 0.8 23.2 0 46.4-1 69.7-1.1 23.2 0 46.4 0 69.6 0 23.3 0 46.5 0.1 69.7 0.1M989 549.6c20.1 0 40.2-0.2 60.3-0.2 20.1 0 40.3 5.6 60.4 5.6 20.1 0 40.2-0.9 60.3-0.9 17.5 0 35-4.1 52.5-4.1 17.5 0 35 4.5 52.5 4.5 23.2 0 46.4 1.1 69.7 1.1 23.2 0 46.4-4 69.6-4.7 23.3-0.7 46.5-1.3 69.7-1.3M989 559.9c20.1 0 40.2-2.3 60.3-3.1 20.1-0.7 40.3-1.3 60.4-1.7 20.1-0.5 40.2-1.2 60.3-1.2 17.5 0 35 0.8 52.5 0.8 17.5 0 35-1.9 52.5-1.9 23.2 0 46.4-1.2 69.7-1.2 23.2 0 46.4 4.3 69.6 5.5 23.3 1.2 46.5 2.8 69.7 2.8M989 561.2c20.1 0 40.2-0.6 60.3-0.9 20.1-0.3 40.3-0.8 60.4-0.8 20.1 0 40.2 0.1 60.3 0.1 17.5 0 35-2 52.5-2.8 17.5-0.8 35-2 52.5-2 23.2 0 46.4 1.7 69.7 2.3 23.2 0.6 46.4 0.8 69.6 1.4 23.3 0.6 46.5 2.7 69.7 2.7M989 560c20.1 0 40.2 2.4 60.3 2.6 20.1 0.1 40.3 0.1 60.4 0.1 20.1 0 40.2-1 60.3-1 17.5 0 35-2.7 52.5-2.7 17.5 0 35 2.5 52.5 2.5 23.2 0 46.4-0.3 69.7-0.3 23.2 0 46.4 0.9 69.6 0.9 23.3 0 46.5-2.1 69.7-2.1M989 561.8c20.1 0 40.2-1.4 60.3-2 20.1-0.6 40.3-1.6 60.4-1.6 20.1 0 40.2 2 60.3 2 17.5 0 35-2.3 52.5-2.3 17.5 0 35 3.8 52.5 3.8 23.2 0 46.4 2.7 69.7 2.7 23.2 0 46.4-3.9 69.6-3.9 23.3 0 46.5 1.3 69.7 1.3M989 562.4c20.1 0 40.2-1.6 60.3-2.6 20.1-1 40.3-3.6 60.4-3.6 20.1 0 40.2 0.9 60.3 0.9 17.5 0 35 1.7 52.5 2.2 17.5 0.4 35 1 52.5 1 23.2 0 46.4 2.5 69.7 2.5 23.2 0 46.4-3.5 69.6-3.5 23.3 0 46.5 3.1 69.7 3.1"/>
<path d="M989 561.4c20.1 0 40.2-0.1 60.3-0.2 20.1-0.1 40.3-1.1 60.4-1.1 20.1 0 40.2 1.2 60.3 1.2 17.5 0 35-0.9 52.5-0.9 17.5 0 35 4.7 52.5 4.7 23.2 0 46.4-1.8 69.7-1.8 23.2 0 46.4 0.1 69.6 0.1 23.3 0 46.5-2 69.7-2M989 563.3c20.1 0 40.2 1.8 60.3 1.8 20.1 0 40.3-0.1 60.4-0.1 20.1-0.1 40.2-2.1 60.3-2.1 17.5 0 35-0.3 52.5-0.4 17.5-0.2 35-0.4 52.5-0.4 23.2 0 46.4-2.6 69.7-2.6 23.2 0 46.4 4.2 69.6 4.2 23.3 0 46.5-0.4 69.7-0.4M989 571.5c20.1 0 40.2-2 60.3-2.8 20.1-0.8 40.3-1.7 60.4-2 20.1-0.3 40.2-0.5 60.3-0.5 17.5 0 35-0.2 52.5-0.2 17.5 0 35 3.6 52.5 3.6 23.2 0 46.4 0 69.7 0 23.2 0 46.4 4.2 69.6 4.2 23.3 0 46.5-2.3 69.7-2.3M989 572.8c20.1 0 40.2-0.1 60.3-0.3 20.1-0.1 40.3-1.4 60.4-2.2 20.1-0.8 40.2-2.7 60.3-2.7 17.5 0 35 1.5 52.5 1.5 17.5 0 35-0.7 52.5-0.7 23.2 0 46.4-0.2 69.7-0.2 23.2 0 46.4 1.5 69.6 2.3 23.3 0.7 46.5 2.3 69.7 2.3M989 572.2c20.1 0 40.2-1 60.3-1.3 20.1-0.2 40.3-0.3 60.4-0.6 20.1-0.3 40.2-1 60.3-1 17.5 0 35 0.7 52.5 1.3 17.5 0.6 35 2.6 52.5 2.6 23.2 0 46.4-1.7 69.7-1.7 23.2 0 46.4 3.3 69.6 3.3 23.3 0 46.5-2.6 69.7-2.6M989 573.1c20.1 0 40.2-0.2 60.3-0.2 20.1 0 40.3 2.9 60.4 2.9 20.1 0 40.2-1.7 60.3-1.7 17.5 0 35-1.2 52.5-1.6 17.5-0.4 35-1 52.5-1 23.2 0 46.4 1.5 69.7 1.7 23.2 0.1 46.4 0.2 69.6 0.2 23.3 0 46.5-0.3 69.7-0.3M989 574c20.1 0 40.2-1.9 60.3-2.9 20.1-1 40.3-2.4 60.4-3.4 20.1-1.1 40.2-2.8 60.3-2.8 17.5 0 35 1.1 52.5 2.2 17.5 1.1 35 7.1 52.5 7.1 23.2 0 46.4-3.5 69.7-3.5 23.2 0 46.4 3.3 69.6 3.3 23.3 0 46.5 0 69.7 0M989 581.9c20.1 0 40.2 1.2 60.3 1.2 20.1 0 40.3-10.2 60.4-10.2 20.1 0 40.2 1.7 60.3 1.7 17.5 0 35 0.5 52.5 1.2 17.5 0.7 35 6.8 52.5 6.8 23.2 0 46.4 6.8 69.7 6.8 23.2 0 46.4-11.8 69.6-11.8 23.3 0 46.5 4.3 69.7 4.3M989 584.4c20.1 0 40.2 2.7 60.3 4.1 20.1 1.4 40.3 3.4 60.4 4.5 20.1 1 40.2 2.4 60.3 2.4 17.5 0 35-4.3 52.5-4.7 17.5-0.4 35-0.7 52.5-0.7 23.2 0 46.4-2.5 69.7-2.5 23.2 0 46.4 3 69.6 3 23.3 0 46.5-6.1 69.7-6.1M989 582.3c20.1 0 40.2 4.3 60.3 5.8 20.1 1.4 40.3 3.2 60.4 3.5 20.1 0.4 40.2 0.6 60.3 0.6 17.5 0 35-9 52.5-9.5 17.5-0.5 35-0.9 52.5-0.9 23.2 0 46.4 2.2 69.7 2.2 23.2 0 46.4-1.4 69.6-1.5 23.3-0.2 46.5-0.2 69.7-0.2M989 593.7c20.1 0 40.2-0.5 60.3-0.5 20.1 0 40.3 1 60.4 1 20.1 0 40.2-2.2 60.3-2.2 17.5 0 35-0.2 52.5-0.4 17.5-0.2 35-1.9 52.5-1.9 23.2 0 46.4 0.1 69.7 0.4 23.2 0.2 46.4 2 69.6 2.5 23.3 0.5 46.5 1.1 69.7 1.1M989 597.5c20.1 0 40.2-2.1 60.3-2.7 20.1-0.5 40.3-1.2 60.4-1.2 20.1 0 40.2 1.9 60.3 1.9 17.5 0 35-1.8 52.5-1.8 17.5 0 35 4.5 52.5 4.5 23.2 0 46.4 2.2 69.7 2.2 23.2 0 46.4-4 69.6-4 23.3 0 46.5 1.1 69.7 1.1M989 596.6c20.1 0 40.2 2.2 60.3 3.5 20.1 1.3 40.3 4.1 60.4 4.1 20.1 0 40.2-1.7 60.3-1.7 17.5 0 35-0.1 52.5-0.2 17.5-0.1 35-7.9 52.5-7.9 23.2 0 46.4-0.6 69.7-0.6 23.2 0 46.4 1.6 69.6 2 23.3 0.3 46.5 0.8 69.7 0.8M989 595.9c20.1 0 40.2 1.6 60.3 1.6 20.1 0 40.3-2.1 60.4-2.1 20.1 0 40.2 3 60.3 3 17.5 0 35 0.9 52.5 1.6 17.5 0.8 35 3.6 52.5 3.6 23.2 0 46.4 5 69.7 5 23.2 0 46.4-6.9 69.6-8.7 23.3-1.8 46.5-4 69.7-4M989 596.9c20.1 0 40.2 4.1 60.3 4.1 20.1 0 40.3-1.7 60.4-2.4 20.1-0.8 40.2-1.9 60.3-1.9 17.5 0 35 5.1 52.5 5.1 17.5 0 35-3.2 52.5-3.2 23.2 0 46.4 3 69.7 3 23.2 0 46.4-2.6 69.6-3.3 23.3-0.6 46.5-1.4 69.7-1.4M989 612.7c20.1 0 40.2-11.1 60.3-11.1 20.1 0 40.3 1.7 60.4 1.7 20.1 0 40.2-5.4 60.3-5.4 17.5 0 35 5.1 52.5 6.4 17.5 1.3 35 2.7 52.5 2.7 23.2 0 46.4 1.1 69.7 1.9 23.2 0.8 46.4 2.7 69.6 3.1 23.3 0.4 46.5 0.7 69.7 0.7M989 612c20.1 0 40.2-5.6 60.3-5.8 20.1-0.2 40.3-0.2 60.4-0.3 20.1-0.2 40.2-1.2 60.3-1.2 17.5 0 35 1.4 52.5 2 17.5 0.7 35 2 52.5 2 23.2 0 46.4-3.3 69.7-3.3 23.2 0 46.4 1 69.6 1.9 23.3 0.9 46.5 4.7 69.7 4.7M989 611.3c20.1 0 40.2-1.2 60.3-2.4 20.1-1.1 40.3-6.1 60.4-6.1 20.1 0 40.2 4.5 60.3 4.5 17.5 0 35 4.2 52.5 5 17.5 0.9 35 1.7 52.5 1.7 23.2 0 46.4 1.5 69.7 1.5 23.2 0 46.4-2.4 69.6-3 23.3-0.5 46.5-1.2 69.7-1.2M989 611.9c20.1 0 40.2-0.3 60.3-0.8 20.1-0.5 40.3-5.4 60.4-5.4 20.1 0 40.2 3.5 60.3 3.5 17.5 0 35 1.8 52.5 2.5 17.5 0.7 35 1.7 52.5 1.7 23.2 0 46.4 1.5 69.7 1.5 23.2 0 46.4-0.7 69.6-1.1 23.3-0.5 46.5-1.9 69.7-1.9M989 617.3c20.1 0 40.2-0.3 60.3-0.7 20.1-0.3 40.3-3.6 60.4-3.8 20.1-0.2 40.2-0.4 60.3-0.4 17.5 0 35 6 52.5 6 17.5 0 35-2.4 52.5-2.4 23.2 0 46.4 0.7 69.7 1.1 23.2 0.3 46.4 1.2 69.6 1.2 23.3 0 46.5-1 69.7-1M989 617.1c20.1 0 40.2 3.2 60.3 3.2 20.1 0 40.3-3.2 60.4-3.2 20.1 0 40.2 1.8 60.3 1.8 17.5 0 35-0.9 52.5-0.9 17.5 0 35 3.6 52.5 3.6 23.2 0 46.4 1.1 69.7 1.1 23.2 0 46.4-5.8 69.6-5.8 23.3 0 46.5 0.2 69.7 0.2M989 618.6c20.1 0 40.2-0.5 60.3-0.5 20.1 0 40.3 3.9 60.4 3.9 20.1 0 40.2-1.9 60.3-1.9 17.5 0 35-3.8 52.5-3.8 17.5 0 35 0.8 52.5 0.8 23.2 0 46.4-1.9 69.7-1.9 23.2 0 46.4 0 69.6 0 23.3 0 46.5 3.4 69.7 3.4M989 626.5c20.1 0 40.2-2.4 60.3-2.4 20.1 0 40.3 6.4 60.4 6.4 20.1 0 40.2-4.1 60.3-4.1 17.5 0 35-1.6 52.5-2.8 17.5-1.2 35-5.2 52.5-5.2 23.2 0 46.4 3 69.7 3 23.2 0 46.4-3.5 69.6-3.5 23.3 0 46.5 8.6 69.7 8.6M989 626.1c20.1 0 40.2-6.4 60.3-6.4 20.1 0 40.3 1.6 60.4 2.4 20.1 0.9 40.2 2.6 60.3 2.6 17.5 0 35 6.1 52.5 7.4 17.5 1.2 35 2.5 52.5 2.5 23.2 0 46.4 1.8 69.7 1.8 23.2 0 46.4-10.5 69.6-10.5 23.3 0 46.5 0.2 69.7 0.2M989 626.4c20.1 0 40.2-3.6 60.3-3.6 20.1 0 40.3 6.5 60.4 6.5 20.1 0 40.2-1.4 60.3-1.4 17.5 0 35 2.9 52.5 4 17.5 1.1 35 2.8 52.5 2.8 23.2 0 46.4 0.1 69.7 0.1 23.2 0 46.4-1.3 69.6-2.4 23.3-1.2 46.5-6 69.7-6M989 627.6c20.1 0 40.2 1.8 60.3 3.4 20.1 1.5 40.3 6.8 60.4 7.4 20.1 0.6 40.2 1 60.3 1 17.5 0 35-3.2 52.5-4.4 17.5-1.1 35-2.7 52.5-2.7 23.2 0 46.4 2.9 69.7 2.9 23.2 0 46.4-5.2 69.6-6.1 23.3-0.8 46.5-1.5 69.7-1.5M989 636.5c20.1 0 40.2-4.6 60.3-4.6 20.1 0 40.3 11.2 60.4 11.2 20.1 0 40.2-3.6 60.3-3.6 17.5 0 35 2.4 52.5 2.4 17.5 0 35-9.1 52.5-9.1 23.2 0 46.4 3.5 69.7 3.5 23.2 0 46.4-2.9 69.6-2.9 23.3 0 46.5 3.1 69.7 3.1M989 635.5c20.1 0 40.2 0.4 60.3 1 20.1 0.6 40.3 9.7 60.4 9.7 20.1 0 40.2-2.5 60.3-2.5 17.5 0 35-3.8 52.5-3.8 17.5 0 35 0 52.5 0 23.2 0 46.4 1.2 69.7 1.2 23.2 0 46.4-0.3 69.6-0.7 23.3-0.4 46.5-4.9 69.7-4.9M989 649.2c20.1 0 40.2-0.9 60.3-1.9 20.1-1.1 40.3-8.6 60.4-8.6 20.1 0 40.2 8.1 60.3 8.1 17.5 0 35 1 52.5 1 17.5 0 35-3 52.5-3 23.2 0 46.4-3.4 69.7-3.8 23.2-0.4 46.4-0.7 69.6-0.7 23.3 0 46.5 8.9 69.7 8.9M989 651c20.1 0 40.2 5.1 60.3 7.4 20.1 2.3 40.3 5.7 60.4 6.3 20.1 0.6 40.2 1.1 60.3 1.1 17.5 0 35-8.3 52.5-12.1 17.5-3.8 35-10.7 52.5-10.7 23.2 0 46.4 4 69.7 4 23.2 0 46.4-10.3 69.6-10.3 23.3 0 46.5 14.3 69.7 14.3M989 660.1c20.1 0 40.2 3.2 60.3 5.2 20.1 2 40.3 7 60.4 7 20.1 0 40.2-7.7 60.3-7.7 17.5 0 35-2.7 52.5-3.7 17.5-1.1 35-2.6 52.5-2.6 23.2 0 46.4-2.5 69.7-2.5 23.2 0 46.4 1.6 69.6 2.3 23.3 0.7 46.5 2 69.7 2M989 659.4c20.1 0 40.2 3.5 60.3 3.5 20.1 0 40.3-6.7 60.4-6.7 20.1 0 40.2 0.6 60.3 0.6 17.5 0 35-0.5 52.5-0.5 17.5 0 35 6.2 52.5 6.2 23.2 0 46.4-7.4 69.7-7.4 23.2 0 46.4 11.6 69.6 11.6 23.3 0 46.5-7.3 69.7-7.3M989 670.7c20.1 0 40.2 3.2 60.3 3.2 20.1 0 40.3-5.6 60.4-5.8 20.1-0.2 40.2-0.3 60.3-0.3 17.5 0 35 8 52.5 8 17.5 0 35-5.8 52.5-5.8 23.2 0 46.4-1.4 69.7-1.4 23.2 0 46.4 4 69.6 4 23.3 0 46.5-1.9 69.7-1.9M989 671.7c20.1 0 40.2-4 60.3-4 20.1 0 40.3 0.5 60.4 1 20.1 0.5 40.2 3.1 60.3 3.1 17.5 0 35 1 52.5 1.5 17.5 0.6 35 1.8 52.5 1.8 23.2 0 46.4 0.9 69.7 0.9 23.2 0 46.4-0.3 69.6-0.8 23.3-0.4 46.5-3.5 69.7-3.5M989 671.6c20.1 0 40.2-4.2 60.3-4.4 20.1-0.3 40.3-0.4 60.4-0.4 20.1 0 40.2 1.1 60.3 1.1 17.5 0 35 1.4 52.5 2.3 17.5 0.8 35 2.9 52.5 2.9 23.2 0 46.4-0.7 69.7-0.9 23.2-0.3 46.4-0.5 69.6-0.5 23.3-0.1 46.5-0.1 69.7-0.1M989 676.8c20.1 0 40.2 1.4 60.3 1.7 20.1 0.3 40.3 0.6 60.4 0.6 20.1 0 40.2-2.9 60.3-2.9 17.5 0 35-2.5 52.5-2.5 17.5 0 35 7.1 52.5 7.1 23.2 0 46.4 2.8 69.7 2.8 23.2 0 46.4-3.2 69.6-4.3 23.3-1.1 46.5-2.5 69.7-2.5M898 293.7L989 294M898 294.8L989 295.1M898 295.9L989 296.2M898 297L989 297.3"/>
<path d="M898 304L989 304.6M898 305.1L989 305.7M898 306.2L989 306.8M898 307.3L989 307.9M898 308.4L989 309M898 309.5L989 310.1M898 321.8L989 324.1M898 322.9L989 325.2M898 324L989 326.3M898 331.4L989 330.1M898 332.5L989 331.2M898 344.6L989 342.4M898 345.7L989 343.5M898 352.7L989 352.4M898 353.8L989 353.5M898 354.9L989 354.6M898 358.3L989 360.9M898 359.4L989 362M898 371.1L989 372.2M898 372.2L989 373.3M898 379.7L989 379.9M898 380.8L989 381M898 391.7L989 391.2M898 392.8L989 392.3M898 393.9L989 393.4M1575 406.1C1607.8 406.1 1633.2 402.2 1666 402.2M898 404.9L989 405.2M1575 401C1607.8 401 1633.2 399.1 1666 399.1M898 406L989 406.3M1484 405.8C1516.8 405.8 1542.2 404.5 1575 404.5M1575 404.6C1607.8 404.6 1633.2 406.5 1666 406.5M898 407.1L989 407.4M1484 409C1516.8 409 1542.2 411.9 1575 411.9M1575 407.6C1607.8 407.6 1633.2 408.2 1666 408.2M898 408.2L989 408.5M1484 412.2C1516.8 412.2 1542.2 411.5 1575 411.5M1575 411.5C1607.8 411.5 1633.2 411.2 1666 411.2M898 415.3L989 415.1M1484 417C1516.8 417 1542.2 415.7 1575 415.7M1575 416.7H1666"/>
<path d="M898 416.4L989 416.2M1484 417.7C1516.8 417.7 1542.2 416 1575 416M1575 415C1607.8 415 1633.2 414.6 1666 414.6M898 417.5L989 417.3M1484 414C1516.8 414 1542.2 414.4 1575 414.4M1575 420.6C1607.8 420.6 1633.2 418.6 1666 418.6M898 428.4L989 429.7M1484 419.8C1516.8 419.8 1542.2 421.1 1575 421.1M1575 421.1C1607.8 421.1 1633.2 420.4 1666 420.4M898 429.5L989 430.8M1484 430.5C1516.8 430.5 1542.2 430.3 1575 430.3M1575 425.2C1607.8 425.2 1633.2 426.4 1666 426.4M898 430.6L989 431.9M1484 430.1C1516.8 430.1 1542.2 431 1575 431M1575 433.1C1607.8 433.1 1633.2 436.1 1666 436.1M898 431.7L989 433M1484 428.6C1516.8 428.6 1542.2 430.5 1575 430.5M1575 431.7C1607.8 431.7 1633.2 432.1 1666 432.1M898 439.4L989 438.2M1484 432.8C1516.8 432.8 1542.2 430.9 1575 430.9M1575 436.9C1607.8 436.9 1633.2 439.3 1666 439.3M898 440.5L989 439.3M1484 437.3C1516.8 437.3 1542.2 438.6 1575 438.6M1575 440.6C1607.8 440.6 1633.2 440.8 1666 440.8M898 441.6L989 440.4M1484 442.4C1516.8 442.4 1542.2 439.8 1575 439.8M1575 443.4C1607.8 443.4 1633.2 442.9 1666 442.9M898 442.7L989 441.5M1484 442.9C1516.8 442.9 1542.2 442.2 1575 442.2M1575 443.6C1607.8 443.6 1633.2 445.3 1666 445.3M898 443.8L989 442.6M1484 443.9C1516.8 443.9 1542.2 444.5 1575 444.5M1575 442.6C1607.8 442.6 1633.2 442.7 1666 442.7M898 444.9L989 443.7M1484 448.7C1516.8 448.7 1542.2 448.2 1575 448.2M1575 448C1607.8 448 1633.2 448.4 1666 448.4M898 451.7L989 451M1484 451.9C1516.8 451.9 1542.2 450.3 1575 450.3M1575 456C1607.8 456 1633.2 453.6 1666 453.6M898 452.8L989 452.1"/>
<path d="M1484 452.4C1516.8 452.4 1542.2 454.3 1575 454.3M1575 450.4C1607.8 450.4 1633.2 449.8 1666 449.8M898 453.9L989 453.2M1484 455.4C1516.8 455.4 1542.2 456.8 1575 456.8M1575 451.1C1607.8 451.1 1633.2 453.9 1666 453.9M898 455L989 454.3M1484 459.4C1516.8 459.4 1542.2 461.1 1575 461.1M1575 455C1607.8 455 1633.2 454.3 1666 454.3M898 456.1L989 455.4M1484 462.7C1516.8 462.7 1542.2 462.4 1575 462.4M1575 461.4C1607.8 461.4 1633.2 460.7 1666 460.7M898 462.8L989 461.3M1484 461.9C1516.8 461.9 1542.2 461.3 1575 461.3M1575 458.7C1607.8 458.7 1633.2 459.1 1666 459.1M898 463.9L989 462.4M1484 464.5H1575M1575 468.5C1607.8 468.5 1633.2 469 1666 469M898 465L989 463.5M1484 467.2C1516.8 467.2 1542.2 468.1 1575 468.1M1575 466.6C1607.8 466.6 1633.2 465.9 1666 465.9M898 466.1L989 464.6M1484 467.5C1516.8 467.5 1542.2 468.2 1575 468.2M1575 465.9C1607.8 465.9 1633.2 465.2 1666 465.2M898 467.2L989 465.7M1484 473.5C1516.8 473.5 1542.2 472.1 1575 472.1M1575 475.4C1607.8 475.4 1633.2 474.9 1666 474.9M898 468.3L989 466.8M1484 476.3C1516.8 476.3 1542.2 475.1 1575 475.1M1575 473.6C1607.8 473.6 1633.2 474.7 1666 474.7M898 477.5L989 477.2M1484 472.9C1516.8 472.9 1542.2 472.7 1575 472.7M1575 475.1C1607.8 475.1 1633.2 475.5 1666 475.5M898 478.6L989 478.3M1484 471C1516.8 471 1542.2 472.4 1575 472.4M1575 475.5C1607.8 475.5 1633.2 477.3 1666 477.3M898 479.7L989 479.4M1484 481.2C1516.8 481.2 1542.2 480.6 1575 480.6M1575 475.5C1607.8 475.5 1633.2 477.2 1666 477.2M898 480.8L989 480.5M1484 480.1C1516.8 480.1 1542.2 479.8 1575 479.8"/>
<path d="M1575 478.6C1607.8 478.6 1633.2 479.3 1666 479.3M898 481.9L989 481.6M1484 483.6C1516.8 483.6 1542.2 483.3 1575 483.3M1575 482C1607.8 482 1633.2 483.3 1666 483.3M898 484.1L989 483.4M1484 482.5C1516.8 482.5 1542.2 480.6 1575 480.6M1575 485.1C1607.8 485.1 1633.2 485.6 1666 485.6M898 485.2L989 484.5M1484 490.3C1516.8 490.3 1542.2 489.3 1575 489.3M1575 490.2C1607.8 490.2 1633.2 487.5 1666 487.5M898 486.3L989 485.6M1484 487.9C1516.8 487.9 1542.2 488.9 1575 488.9M1575 488.2C1607.8 488.2 1633.2 487.8 1666 487.8M898 487.4L989 486.7M1484 487.8C1516.8 487.8 1542.2 488.8 1575 488.8M1575 487.1C1607.8 487.1 1633.2 488.1 1666 488.1M898 488.5L989 487.8M1484 491.5C1516.8 491.5 1542.2 490.1 1575 490.1M1575 488.1C1607.8 488.1 1633.2 490.4 1666 490.4M898 489.6L989 488.9M1484 493C1516.8 493 1542.2 492.8 1575 492.8M1575 493.9C1607.8 493.9 1633.2 494.9 1666 494.9M898 495.6L989 494M1484 494.9C1516.8 494.9 1542.2 493.9 1575 493.9M1575 495.8C1607.8 495.8 1633.2 497.5 1666 497.5M898 496.7L989 495.1M1484 495.4C1516.8 495.4 1542.2 495.5 1575 495.5M1575 492.7C1607.8 492.7 1633.2 495.4 1666 495.4M898 497.8L989 496.2M1484 494.4C1516.8 494.4 1542.2 495.5 1575 495.5M1575 497.8C1607.8 497.8 1633.2 497 1666 497M898 498.9L989 497.3M1484 503.5C1516.8 503.5 1542.2 503.2 1575 503.2M1575 502.4C1607.8 502.4 1633.2 503.1 1666 503.1M898 500L989 498.4M1484 503.8C1516.8 503.8 1542.2 502 1575 502M1575 504.1C1607.8 504.1 1633.2 503.7 1666 503.7M898 501.1L989 499.5M1484 504.5C1516.8 504.5 1542.2 504.1 1575 504.1M1575 508.6C1607.8 508.6 1633.2 505.4 1666 505.4"/>
<path d="M898 504L989 504.8M1484 504.8C1516.8 504.8 1542.2 505.8 1575 505.8M1575 503.1C1607.8 503.1 1633.2 503 1666 503M898 505.1L989 505.9M1484 502.3C1516.8 502.3 1542.2 502.5 1575 502.5M1575 506.6H1666M898 506.2L989 507M1484 509.7C1516.8 509.7 1542.2 510.2 1575 510.2M1575 508.2C1607.8 508.2 1633.2 508 1666 508M898 507.3L989 508.1M1484 510.4C1516.8 510.4 1542.2 510.1 1575 510.1M1575 510.8C1607.8 510.8 1633.2 511.2 1666 511.2M898 508.4L989 509.2M1484 513.2C1516.8 513.2 1542.2 512 1575 512M1575 507.7C1607.8 507.7 1633.2 508.8 1666 508.8M898 518L989 516.9M1484 517.2C1516.8 517.2 1542.2 514.7 1575 514.7M1575 517.2C1607.8 517.2 1633.2 517.6 1666 517.6M898 519.1L989 518M1484 514.6C1516.8 514.6 1542.2 514.1 1575 514.1M1575 518.8C1607.8 518.8 1633.2 517.4 1666 517.4M898 520.2L989 519.1M1484 520.7C1516.8 520.7 1542.2 521.1 1575 521.1M1575 519.5C1607.8 519.5 1633.2 520 1666 520M898 521.3L989 520.2M1484 519.5C1516.8 519.5 1542.2 519.3 1575 519.3M1575 516.1C1607.8 516.1 1633.2 518 1666 518M898 522.4L989 521.3M1484 521.1C1516.8 521.1 1542.2 521 1575 521M1575 521.5C1607.8 521.5 1633.2 523.1 1666 523.1M898 524.8L989 524.2M1484 522.7C1516.8 522.7 1542.2 523.1 1575 523.1M1575 526.9C1607.8 526.9 1633.2 528.2 1666 528.2M898 525.9L989 525.3M1484 527.6C1516.8 527.6 1542.2 527.4 1575 527.4M1575 523.1C1607.8 523.1 1633.2 523.3 1666 523.3M898 527L989 526.4M1484 531.1C1516.8 531.1 1542.2 531 1575 531M1575 530.3C1607.8 530.3 1633.2 529.9 1666 529.9M898 528.1L989 527.5"/>
<path d="M1484 528.1C1516.8 528.1 1542.2 529.6 1575 529.6M1575 533.7C1607.8 533.7 1633.2 533.2 1666 533.2M898 538.8L989 539.1M1484 530C1516.8 530 1542.2 529 1575 529M1575 533.3C1607.8 533.3 1633.2 531.6 1666 531.6M898 539.9L989 540.2M1484 539.7C1516.8 539.7 1542.2 540.2 1575 540.2M1575 538.8C1607.8 538.8 1633.2 539.3 1666 539.3M898 541L989 541.3M1484 534.5C1516.8 534.5 1542.2 535.9 1575 535.9M1575 539.6C1607.8 539.6 1633.2 538.4 1666 538.4M898 542.1L989 542.4M1484 546.3C1516.8 546.3 1542.2 545.5 1575 545.5M1575 545.9C1607.8 545.9 1633.2 545.6 1666 545.6M898 543.2L989 543.5M1484 543.6C1516.8 543.6 1542.2 544.1 1575 544.1M1575 546.4C1607.8 546.4 1633.2 545.6 1666 545.6M898 547.3L989 546.3M1484 546.8C1516.8 546.8 1542.2 544.6 1575 544.6M1575 544.5C1607.8 544.5 1633.2 546.8 1666 546.8M898 548.4L989 547.4M1484 547.4C1516.8 547.4 1542.2 546.7 1575 546.7M1575 554.9C1607.8 554.9 1633.2 553.4 1666 553.4M898 549.5L989 548.5M1484 551.9C1516.8 551.9 1542.2 551.7 1575 551.7M1575 550.6C1607.8 550.6 1633.2 552.7 1666 552.7M898 550.6L989 549.6M1484 554.1C1516.8 554.1 1542.2 555 1575 555M1575 554.5C1607.8 554.5 1633.2 556 1666 556M898 557.6L989 557.4M1484 553.9C1516.8 553.9 1542.2 554.3 1575 554.3M1575 552.8C1607.8 552.8 1633.2 552 1666 552M898 558.7L989 558.5M1484 559.6C1516.8 559.6 1542.2 558.6 1575 558.6M1575 554.8C1607.8 554.8 1633.2 555.3 1666 555.3M898 559.8L989 559.6M1484 561.7C1516.8 561.7 1542.2 562.3 1575 562.3M1575 561.5C1607.8 561.5 1633.2 559.9 1666 559.9M898 560.9L989 560.7M1484 560.2C1516.8 560.2 1542.2 559.4 1575 559.4"/>
<path d="M1575 561.7C1607.8 561.7 1633.2 561.6 1666 561.6M898 562L989 561.8M1484 557.1C1516.8 557.1 1542.2 559.1 1575 559.1M1575 560.3C1607.8 560.3 1633.2 561.4 1666 561.4M898 563.1L989 562.9M1484 561.3C1516.8 561.3 1542.2 561 1575 561M1575 565.1C1607.8 565.1 1633.2 564.9 1666 564.9M898 564.2L989 564M1484 562.9C1516.8 562.9 1542.2 561.8 1575 561.8M1575 562.1C1607.8 562.1 1633.2 562.6 1666 562.6M898 570.7L989 568M1484 566.2C1516.8 566.2 1542.2 565.6 1575 565.6M1575 569.6C1607.8 569.6 1633.2 567.8 1666 567.8M898 571.8L989 569.1M1484 567.6C1516.8 567.6 1542.2 567.5 1575 567.5M1575 568.4C1607.8 568.4 1633.2 566.4 1666 566.4M898 572.9L989 570.2M1484 569.3C1516.8 569.3 1542.2 567.8 1575 567.8M1575 573.2C1607.8 573.2 1633.2 572.3 1666 572.3M898 574L989 571.3M1484 574.1C1516.8 574.1 1542.2 575.4 1575 575.4M1575 571.5C1607.8 571.5 1633.2 572.2 1666 572.2M898 575.1L989 572.4M1484 564.9C1516.8 564.9 1542.2 566.6 1575 566.6M1575 574.2C1607.8 574.2 1633.2 574.1 1666 574.1M898 581.2L989 581.4M1484 574.6C1516.8 574.6 1542.2 574.2 1575 574.2M1575 582.6C1607.8 582.6 1633.2 580.3 1666 580.3M898 582.3L989 582.5M1484 595.4C1516.8 595.4 1542.2 592.6 1575 592.6M1575 590C1607.8 590 1633.2 591.8 1666 591.8M898 583.4L989 583.6M1484 592.2C1516.8 592.2 1542.2 591.3 1575 591.3M1575 581.8C1607.8 581.8 1633.2 583.4 1666 583.4M898 593.8L989 593.2M1484 592C1516.8 592 1542.2 592.2 1575 592.2M1575 589.7C1607.8 589.7 1633.2 588.2 1666 588.2M898 594.9L989 594.3M1484 595.5C1516.8 595.5 1542.2 594.9 1575 594.9M1575 598.2C1607.8 598.2 1633.2 597 1666 597"/>
<path d="M898 596L989 595.4M1484 602.5C1516.8 602.5 1542.2 601.7 1575 601.7M1575 594.4C1607.8 594.4 1633.2 594.7 1666 594.7M898 597.1L989 596.5M1484 598.4C1516.8 598.4 1542.2 600.2 1575 600.2M1575 603.6C1607.8 603.6 1633.2 604 1666 604M898 598.2L989 597.6M1484 596.7C1516.8 596.7 1542.2 601.5 1575 601.5M1575 598.6C1607.8 598.6 1633.2 602 1666 602M898 608.8L989 609.6M1484 597.9C1516.8 597.9 1542.2 599.7 1575 599.7M1575 607C1607.8 607 1633.2 604.8 1666 604.8M898 609.9L989 610.7M1484 604.7C1516.8 604.7 1542.2 607.4 1575 607.4M1575 608.7C1607.8 608.7 1633.2 609 1666 609M898 611L989 611.8M1484 607.3C1516.8 607.3 1542.2 608.2 1575 608.2M1575 614C1607.8 614 1633.2 616.4 1666 616.4M898 612.1L989 612.9M1484 609.2C1516.8 609.2 1542.2 611 1575 611M1575 613.4C1607.8 613.4 1633.2 615.2 1666 615.2M898 616.8L989 617.3M1484 612.4C1516.8 612.4 1542.2 613.6 1575 613.6M1575 616C1607.8 616 1633.2 617.4 1666 617.4M898 617.9L989 618.4M1484 618.9C1516.8 618.9 1542.2 618.2 1575 618.2M1575 621.6C1607.8 621.6 1633.2 619.1 1666 619.1M898 619L989 619.5M1484 620.1C1516.8 620.1 1542.2 619.8 1575 619.8M1575 617.1C1607.8 617.1 1633.2 616 1666 616M898 625.8L989 624.7M1484 626.4C1516.8 626.4 1542.2 626.3 1575 626.3M1575 618.4C1607.8 618.4 1633.2 620.6 1666 620.6M898 626.9L989 625.8M1484 624.7C1516.8 624.7 1542.2 621.7 1575 621.7M1575 634.6C1607.8 634.6 1633.2 631.4 1666 631.4M898 628L989 626.9M1484 627.9C1516.8 627.9 1542.2 628.6 1575 628.6M1575 634.7C1607.8 634.7 1633.2 632.3 1666 632.3M898 629.1L989 628"/>
<path d="M1484 639.4C1516.8 639.4 1542.2 640.1 1575 640.1M1575 632.3C1607.8 632.3 1633.2 634.5 1666 634.5M898 636L989 633.9M1484 639.5C1516.8 639.5 1542.2 636.3 1575 636.3M1575 632.8C1607.8 632.8 1633.2 639.1 1666 639.1M898 637.1L989 635M1575 639.9C1607.8 639.9 1633.2 637.5 1666 637.5M898 645.9L989 647.4M1575 644.8C1607.8 644.8 1633.2 646.6 1666 646.6M898 647L989 648.5M1575 643C1607.8 643 1633.2 643.5 1666 643.5M898 658.8L989 658.5M898 659.9L989 659.6M898 670L989 670.3M898 671.1L989 671.4M898 672.2L989 672.5M898 678.7L989 677.2M403 674.5c20.1 0 40.2-0.9 60.3-0.9 20.1 0 40.3 3.9 60.4 3.9 20.1 0 40.2-5.5 60.3-5.5 17.5 0 35 1.2 52.5 1.7 17.5 0.4 35 1.1 52.5 1.1 23.2 0 46.4-6.9 69.7-6.9 23.2 0 46.4 6.4 69.6 6.5 23.3 0.1 46.5 0.1 69.7 0.1M403 678.3c20.1 0 40.2-3.7 60.3-3.7 20.1 0 40.3 9.4 60.4 9.4 20.1 0 40.2-10.3 60.3-10.3 17.5 0 35 2 52.5 2 17.5 0 35-0.3 52.5-0.3 23.2 0 46.4 8 69.7 8 23.2 0 46.4-1.3 69.6-2.2 23.3-0.8 46.5-2.9 69.7-2.9M403 691.7c20.1 0 40.2 4.8 60.3 4.8 20.1 0 40.3-9.6 60.4-9.6 20.1 0 40.2 3.9 60.3 3.9 17.5 0 35-1.3 52.5-2.4 17.5-1.1 35-5.7 52.5-5.7 23.2 0 46.4 0.7 69.7 1.7 23.2 1.1 46.4 11.5 69.6 11.5 23.3 0 46.5-4.2 69.7-4.2M400.6 106.7c12 0.2 24.1 2.1 36.2 4.2 13.9 2.3 27.8 9.1 41.7 13.9 13.9 4.8 27.9 10.9 41.8 14.6 9.3 2.5 18.5 5.5 27.8 6.3 11.6 0.9 23.2 1.2 34.8 1.6 16.3 0.7 32.5 1.3 48.7 1.9 18.6 0.6 37.2 1.6 55.7 1.6 14.8 0 29.6-1.2 44.5-2.3 11.6-0.9 23.2-2.6 34.8-4.9 11.6-2.3 23.2-7.4 34.8-11.8 9.2-3.6 18.5-8.5 27.8-11.9 9.3-3.4 18.6-7 27.8-9 9.3-2 18.6-3.5 27.9-4.5 4.6-0.5 9.3-0.8 13.9-1.1M400.6 131.1c12 0 24.1 0.3 36.2 0.7 13.9 0.4 27.8 4.7 41.7 6.9 13.9 2.2 27.9 4.6 41.8 6.3 9.3 1.1 18.5 2.5 27.8 2.8 11.6 0.4 23.2 0.4 34.8 0.7 16.3 0.3 32.5 0.7 48.7 1.1 18.6 0.4 37.2 1.2 55.7 1.2 14.8 0 29.6-0.9 44.5-1.6 13.9-0.8 27.8-2 41.7-3.5 13.9-1.6 27.9-4.9 41.8-7 13.9-2.1 27.8-4.6 41.7-5.8 9.3-0.8 18.6-1.5 27.9-1.8 4.6-0.2 9.3-0.4 13.9-0.5M400.6 183.3c16.7 0 33.4 1.3 50.1 2.7 18.5 1.7 37.1 8.4 55.7 11.9 13.9 2.6 27.8 5.7 41.7 6.9 11.6 1 23.2 1.7 34.8 2.1 16.3 0.6 32.5 1 48.7 1.1 18.6 0.2 37.2 0.3 55.7 0.3 19.5 0 38.9-0.9 58.4-2.1 13.9-0.8 27.8-5 41.7-7.6 14-2.7 27.9-6 41.8-8.4 13.9-2.4 27.8-5.5 41.8-6.2 9.2-0.5 18.5-1 27.8-1M400.6 195.1c7.4 0 14.8 0.6 22.2 1.4 9.3 1 18.6 8.3 27.9 11.8 7.4 2.8 14.8 7.7 22.3 7.7 6.4 0 12.9 0 19.4 0 14 0 27.9-3.8 41.8-4.9 16.2-1.3 32.5-2.8 48.7-2.8 34.8 0 69.6 0.6 104.4 1.1 24.1 0.4 48.2 0.7 72.3 1.7 13.9 0.6 27.8 4.2 41.8 4.2 9.2 0 18.5-1.3 27.8-2.8 9.3-1.5 18.6-8 27.8-11.1 7-2.4 14-5.7 20.9-6.3 6-0.5 12.1-1 18.1-1M400.6 218.1c12 1.4 24.1 2.1 36.2 2.1 13.9 0 27.8-2.1 41.7-3.5 13.9-1.5 27.9-4.8 41.8-5.6 20.9-1.2 41.7-2.1 62.6-2.1 34.8 0 69.6 0.8 104.4 1.4 24.1 0.5 48.2 1 72.3 2.1 18.6 0.9 37.1 4.7 55.7 6.3 13.9 1.1 27.8 2.7 41.7 2.7 14 0 27.9-0.2 41.8-1.3M400.6 222.2c16.7 3.3 33.4 4.9 50.1 4.9 13.9 0 27.8-1.8 41.7-3.5 14-1.6 27.9-6.6 41.8-8.3 16.2-2 32.5-4.2 48.7-4.2 34.8 0 69.6 0.3 104.4 0.7 24.1 0.3 48.2 0.9 72.3 2.1 18.6 0.9 37.1 5.5 55.7 7.6 13.9 1.6 27.8 4.2 41.7 4.2 14 0 27.9 0 41.8-1.4M400.6 227.1c12-0.9 24.1-1.4 36.2-1.4 13.9 0 27.8 1.4 41.7 1.4 13.9 0 27.9-2.8 41.8-3.5 20.9-1 41.7-2.1 62.6-2.1 16.3 0 32.5 2.5 48.7 4.2 18.6 2 37.2 8.4 55.7 8.4 12.5 0 25-4.7 37.5-6.3 11.6-1.4 23.2-3.5 34.8-3.5 9.3 0 18.6 2.2 27.8 3.5 9.3 1.3 18.6 4.2 27.9 4.2 9.3 0 18.5-2 27.8-2.8 9.3-0.8 18.6-2.1 27.9-2.1 9.2 0 18.5 0 27.8 0.7M400.6 234.8c12-0.9 24.1-1.4 36.2-1.4 13.9 0 27.8 0.5 41.7 1.4 9.3 0.5 18.6 5.5 27.9 5.5 9.2 0 18.5-1.9 27.8-2.7 16.2-1.6 32.5-4.2 48.7-4.2 16.3 0 32.5 0.5 48.7 0.7 18.6 0.2 37.2 0.3 55.7 0.7 14.8 0.3 29.6 1.5 44.5 2.8 13.9 1.1 27.8 5.5 41.7 5.5 9.3 0 18.6-1.4 27.9-2.8 9.2-1.3 18.5-5.6 27.8-6.9 9.3-1.4 18.6-2.8 27.8-2.8 14 0 27.9 0 41.8 0M400.6 237.6c16.7-2.8 33.4-2.8 50.1-2.8 9.3 0 18.5 3.5 27.8 5.5 13.9 3 27.9 9.8 41.8 9.8 20.9 0 41.7-3.4 62.6-4.2 16.3-0.6 32.5-1 48.7-1.4 18.6-0.5 37.2-1.4 55.7-1.4 14.8 0 29.6 3.8 44.5 5.6 11.6 1.4 23.2 4.2 34.8 4.2 11.6 0 23.2-2.1 34.8-4.2 9.2-1.7 18.5-7.6 27.8-9.8 9.3-2.1 18.6-4.8 27.8-4.8 14 0 27.9 0 41.8 0.7M400.6 238.9c16.7-2.7 33.4-2.7 50.1-2.7 13.9 0 27.8 7.4 41.7 11.1 14 3.7 27.9 10.1 41.8 11.1 16.2 1.3 32.5 2.1 48.7 2.1 16.3 0 32.5-0.6 48.7-1.4 18.6-0.9 37.2-13.2 55.7-13.2 14.8 0 29.6 2.9 44.5 4.2 13.9 1.2 27.8 3.5 41.7 3.5 13.9 0 27.9-5.5 41.8-9.1 9.3-2.4 18.5-8.3 27.8-8.3 18.6 0 37.1 0 55.7 0.7M400.6 284.1c16.7 0 33.4-1.1 50.1-2.8 9.3-0.9 18.5-5.4 27.8-7.6 11.6-2.8 23.2-6 34.8-7.3 11.6-1.2 23.2-1.8 34.8-2.5 11.6-0.6 23.2-1.3 34.8-1.7 16.3-0.5 32.5-0.7 48.7-1.1 19.2-0.4 38.3-1.1 57.4-1.1 18 0 36 0.8 54 1.8 18.6 1.1 37.1 5.8 55.7 9.1 18.5 3.3 37.1 9.7 55.7 11.1 14.5 1.1 29.1 2.1 43.7 2.1M400.6 285.5c16.7 0 33.4-0.2 50.1-0.7 9.3-0.3 18.5-4.9 27.8-7 11.6-2.5 23.2-6.9 34.8-6.9 7 0 13.9 0.7 20.9 1.4 9.3 0.8 18.6 3.3 27.8 4.1 7 0.7 14 1.4 20.9 1.4 16.3 0 32.5-1.3 48.7-2.7 14-1.3 27.9-6.2 41.8-8.4 5.2-0.8 10.4-2.1 15.6-2.1 18 0 36 1.8 54 3.5 18.6 1.7 37.1 7 55.7 9.7 18.5 2.7 37.1 6.2 55.7 7 14.5 0.6 29.1 1.1 43.7 1.1M400.6 290.4c30.6 0 61.2 0 91.8 0 30.2 0 60.4 0 90.5 0 11.6 0 23.2-2.2 34.8-3.9 9.3-1.4 18.6-4.4 27.9-5.6 14.4-1.8 28.9-3.8 43.4-3.8 18 0 36 1.6 54 2.8 18.6 1.3 37.1 4.6 55.7 6.3 18.5 1.7 37.1 4 55.7 4.2 14.5 0.1 29.1 0.2 43.7 0.2M402.9 878.3c3.4-6.6 6.8-12.9 10.2-18.3 5.6-9 11.1-15.6 16.7-23.8 7-10.3 13.9-21.9 20.9-32.1 4.6-6.7 9.3-12.9 13.9-19.4 4.6-6.5 9.3-13 13.9-19.5 4.7-6.5 9.3-12.8 13.9-19.5 4.7-6.7 9.3-15.4 14-20.9 3.7-4.4 7.4-9.5 11.1-11.1 3.2-1.5 6.5-2.8 9.7-2.8 4.7 0 9.3 1.1 14 2.1 6.9 1.4 13.9 5.4 20.8 6.9 7.4 1.6 14.7 3.5 22 3.5 11.3 0 22.5 0 33.7 0 7 0 13.9-3.3 20.9-5.6 4.6-1.5 9.3-4.3 13.9-5.5 7-1.9 13.9-3.7 20.9-4.2 5.2-0.4 10.4-0.7 15.6-0.7 14.2 0 28.5 5.6 42.8 10.4 9.2 3.2 18.5 10.2 27.8 14 13.9 5.6 27.8 10.5 41.8 13.9 9.2 2.3 18.5 3.7 27.8 5.5 9.3 1.9 18.6 5.1 27.8 5.6 13.7 0.8 27.3 1.4 41 1.4M402.9 759.6c9-0.8 17.9-1.7 26.9-2.8 7-0.8 13.9-1.7 20.9-2.8 9.3-1.4 18.5-3.7 27.8-5.5 9.3-1.9 18.6-4 27.9-5.6 9.2-1.6 18.5-2.8 27.8-4.2 9.3-1.4 18.6-2.9 27.8-4.2 7.4-1 14.7-2.7 22-2.7 11.3 0 22.5 0 33.7 0 9.3 0 18.6-3.8 27.9-7 4.6-1.6 9.2-5.2 13.9-7 9.8-3.6 19.6-8.3 29.5-8.3 9.6 0 19.2 1.6 28.8 2.8 9.3 1.1 18.6 4.1 27.9 4.1 9.3 0 18.5-2.7 27.8-2.7 9.3 0 18.6 2 27.9 4.1 9.2 2.2 18.5 8.6 27.8 14 7 4 13.9 10.2 20.9 13.9 6.9 3.6 13.9 7.6 20.9 9 9 1.9 18 3.5 27 3.5M402.9 759.6c6.7 0 13.3-1.3 19.9-2.8 7-1.5 14-7 20.9-11.1 7-4.1 13.9-9.5 20.9-13.9 7-4.4 13.9-9.2 20.9-12.6 6.9-3.3 13.9-6 20.9-8.3 4.6-1.6 9.2-2.5 13.9-4.2 4.6-1.7 9.3-4.6 13.9-7 3.7-1.8 7.4-5 11.1-5.5 12.9-1.9 25.8-2.8 38.7-2.8 35 0 70 0.7 105 1.4 23.5 0.5 47.1 1.7 70.6 2.8 9.3 0.4 18.6 0.5 27.8 1.4 7 0.6 14 4.1 20.9 6.9 7 2.9 13.9 8 20.9 11.2 7 3.1 13.9 6.3 20.9 8.3 6.9 2.1 13.9 4.3 20.9 4.9 9 0.8 18 1.4 27 1.4M402.9 802.8c6.7-1.1 13.3-3.2 19.9-5.6 7-2.6 14-7 20.9-11.2 7-4.1 13.9-9.5 20.9-13.9 7-4.4 13.9-9.2 20.9-12.5 6.9-3.3 13.9-6.5 20.9-8.4 9.2-2.5 18.5-3.9 27.8-5.5 9.3-1.6 18.6-2.9 27.8-4.2 7.4-1 14.7-2.4 22-2.8 6.6-0.3 13.2-0.3 19.8-0.7 9.3-0.5 18.6-5 27.8-7.6 9.3-2.7 18.6-7.3 27.9-8.4 9.8-1.1 19.6-2.1 29.5-2.1 9.6 0 19.2 2.6 28.8 4.9 9.3 2.2 18.6 7 27.9 11.1 9.3 4.2 18.5 9.6 27.8 14 9.3 4.4 18.6 8.1 27.9 12.5 9.2 4.4 18.5 8.8 27.8 13.9 9.3 5.1 18.6 12.8 27.8 16.7 7 2.9 14 6.2 20.9 7 6.7 0.7 13.4 1.4 20.1 1.4M402.9 803.4c9-1.1 17.9-2.9 26.9-4.8 7-1.5 13.9-3.4 20.9-5.6 6.9-2.2 13.9-5.6 20.9-8.3 6.9-2.8 13.9-5.6 20.8-8.4 9.3-3.7 18.6-7.7 27.9-11.1 9.3-3.5 18.5-7.1 27.8-9.8 9.3-2.7 18.6-5.6 27.9-6.9 9.2-1.4 18.5-1.7 27.8-2.8 9.3-1.1 18.6-2.2 27.8-4.2 9.3-1.9 18.6-7.9 27.9-9.7 9.8-2 19.6-4.2 29.5-4.2 14.2 0 28.5 4.7 42.8 8.3 9.2 2.4 18.5 6.3 27.8 9.8 9.3 3.4 18.6 7.4 27.8 11.1 9.3 3.7 18.6 6.9 27.9 11.2 9.3 4.2 18.5 9.9 27.8 15.3 7 4 13.9 10.2 20.9 12.5 7 2.3 13.9 4.1 20.9 4.9 4.3 0.4 8.7 0.9 13.1 0.9M402.9 804.1c11.3 0 22.6-2 33.9-4.1 9.2-1.8 18.5-6.3 27.8-9.8 9.3-3.4 18.6-7.4 27.8-11.1 9.3-3.7 18.6-8 27.9-11.1 9.3-3.2 18.5-5.9 27.8-8.4 9.3-2.5 18.6-5.2 27.9-7 9.2-1.7 18.5-3 27.8-4.1 9.3-1.2 18.6-1.6 27.8-2.8 9.3-1.3 18.6-4.4 27.9-5.6 9.8-1.3 19.6-2.8 29.5-2.8 14.2 0 28.5 2.9 42.8 5.6 9.2 1.7 18.5 5.2 27.8 8.3 9.3 3.2 18.6 7.5 27.8 11.2 9.3 3.7 18.6 7.2 27.9 11.1 9.3 3.9 18.5 8 27.8 12.5 7 3.5 13.9 9.2 20.9 11.2 7 2 13.9 3.5 20.9 4.2 4.3 0.4 8.7 0.7 13.1 0.8M402.9 878.3c6.2-6.5 12.4-12.8 18.5-18.3 9.8-8.8 19.5-16.2 29.3-23.8 9.3-7.3 18.5-14.2 27.8-20.9 9.3-6.7 18.6-13.5 27.9-19.5 9.2-6 18.5-10.8 27.8-16.7 7-4.4 13.9-10.5 20.9-13.9 6.9-3.5 13.9-6.5 20.9-8.4 9.2-2.5 18.5-4.3 27.8-5.6 9.3-1.2 18.6-1.8 27.8-2.7 9.3-1 18.6-2.1 27.9-2.8 9.8-0.8 19.6-2.1 29.5-2.1 9.6 0 19.2 3.4 28.8 6.3 9.3 2.7 18.6 7.4 27.9 12.5 9.3 5.1 18.5 12.8 27.8 19.5 9.3 6.7 18.6 14.1 27.9 20.9 9.2 6.7 18.5 12.7 27.8 19.4 9.3 6.8 18.6 13.7 27.8 20.9 7 5.4 14 10.9 20.9 16.9 6.7 5.7 13.4 11.9 20.1 18.3"/>
<path d="M402.9 878.3c6.7-6.5 13.3-12.7 19.9-18.3 11.6-9.8 23.2-18.3 34.8-26.6 11.6-8.4 23.2-16 34.8-23.7 9.3-6.2 18.6-12.3 27.9-18.1 9.3-5.8 18.5-11.5 27.8-16.7 7-3.9 13.9-8.7 20.9-11.1 7-2.5 13.9-4.2 20.9-5.6 9.3-1.8 18.5-2.8 27.8-4.2 9.3-1.4 18.6-3 27.9-4.1 14.4-1.8 28.9-4.2 43.4-4.2 14.2 0 28.5 7.8 42.8 13.9 9.2 4 18.5 10.7 27.8 16.7 9.3 6 18.6 13 27.8 19.5 9.3 6.5 18.6 13 27.9 19.5 9.3 6.5 18.5 12.7 27.8 19.5 9.3 6.7 18.6 13.5 27.9 20.8 9 7.2 18 14.8 27 22.7M402.9 729.7c6.7 0 13.3-0.3 19.9-0.7 7-0.4 14-2.3 20.9-4.2 7-1.9 13.9-4.7 20.9-8.4 4.6-2.4 9.3-6.7 13.9-9.7 4.7-3 9.3-5.4 13.9-8.3 2.8-1.8 5.6-4.8 8.4-5.6 11.1-3.4 22.3-5 33.4-5.6 16.6-0.8 33.2-1.4 49.8-1.4 35 0 70 0.5 105 1.4 18.9 0.5 37.8 3.3 56.7 5.6 9.3 1.1 18.5 3.3 27.8 4.2 7 0.6 13.9 0.5 20.9 1.4 7 0.8 13.9 6.2 20.9 9.7 6.9 3.5 13.9 8.3 20.9 11.1 6.9 2.9 13.9 5.6 20.8 7 7 1.4 14 2.6 20.9 3.1 6.7 0.4 13.4 0.8 20.1 0.8M402.9 730.4c7.4 0 14.7-0.3 22-0.7 7-0.4 13.9-2.1 20.9-3.8 7-1.7 13.9-4.6 20.9-8.1 4.6-2.3 9.3-6.5 13.9-9.4 4.6-3 9.3-5.4 13.9-8.4 2.8-1.7 5.6-4.8 8.4-5.5 10.4-2.8 20.9-4 31.3-4.5 16.6-0.8 33.2-1.4 49.8-1.4 35 0 70 0.5 105 1.4 16.6 0.4 33.1 2.8 49.7 5.6 7 1.1 13.9 2.9 20.9 5.5 7 2.7 13.9 8.1 20.9 14 6.9 5.8 13.9 15.3 20.9 23.6 6.9 8.3 13.9 17.2 20.8 26.5 4.7 6.2 9.3 12.3 14 19.5 4.6 7.1 9.2 16.2 13.9 23.6 4.6 7.4 9.3 14 13.9 20.9 7 10.4 13.9 20.8 20.9 30.8 4.3 6.2 8.7 12.3 13.1 18.3M402.9 697.6c12.4-0.3 24.8-0.7 37.3-1.2 15-0.5 30.1-1.3 45.1-2.2 15.1-0.9 30.1-2.6 45.2-3.4 17.8-1 35.6-2.3 53.5-2.3 19.8 0 39.6 0 59.4 0 15.2 0 30.4 0 45.6 0 22.4 0 44.8 0 67.3 0 22.5 0 45.1 2.2 67.7 3.4 24.7 1.4 49.4 2.9 74 4.5M402.9 686.3c19.9-0.3 39.9-0.7 59.8-1.1 22.6-0.6 45.2-1.7 67.8-2.3 17.8-0.5 35.6-1.1 53.5-1.1 35 0 70 1.1 105 1.1 29.9 0 59.9-1.1 89.8-1.1 22.6 0 45.2 2.3 67.8 3.4 17.1 0.8 34.3 1.5 51.4 2.2M988.9 108.1c12.6 1.5 25.2 4.3 37.9 7.7 13.9 3.6 27.8 11.3 41.7 16 13.9 4.6 27.9 10.7 41.8 12.5 13.9 1.8 27.8 3 41.7 3.5 6.1 0.2 12.1 0.2 18.1 0.4 17.2 0.4 34.4 0.9 51.5 1.4 17.7 0.5 35.3 1.6 52.9 1.6 12.4 0 24.9-1.5 37.3-2.7 13.9-1.5 27.8-4.1 41.7-7 13.9-2.9 27.9-6.9 41.8-11.1 13.9-4.2 27.8-10.6 41.7-14.6 9.3-2.7 18.6-6 27.9-7 6.5-0.7 13-1.4 19.5-1.4M988.9 202.1c12.6 1.1 25.2 2.5 37.9 4.1 16.2 2.1 32.4 7.7 48.7 7.7 11.6 0 23.2-0.9 34.8-1.4 19.9-0.9 39.9-3.5 59.8-3.5 34.8 0 69.6 0.2 104.4 0.4 12.4 0.1 24.9 0.3 37.3 0.6 13.9 0.3 27.8 1.9 41.7 2.5 13.9 0.6 27.9 1.4 41.8 1.4 13.9 0 27.8-4.8 41.7-7.7 9.3-1.9 18.6-4.6 27.9-6.2 6.5-1.2 13-2.1 19.5-2.8M988.9 228.5c17.3 0 34.5-0.3 51.8-0.7 13.9-0.4 27.8-4.3 41.7-7 14-2.6 27.9-7.4 41.8-9 15.3-1.7 30.6-3.5 45.9-3.5 34.8 0 69.6 1 104.4 1.7 12.4 0.2 24.9 0.4 37.3 0.8 13.9 0.5 27.8 2.6 41.7 4.5 13.9 1.9 27.9 5.3 41.8 7.6 13.9 2.3 27.8 5.6 41.7 6.3 15.8 0.8 31.6 1.4 47.4 1.4M988.9 234.8c28.9 0 57.7-1.3 86.6-2.8 16.2-0.8 32.5-3.9 48.7-4.9 15.3-0.9 30.6-2.1 45.9-2.1 17.2 0 34.4 2.1 51.5 3.5 17.7 1.5 35.3 5.6 52.9 5.6 19.4 0 38.8-3.5 58.1-3.5 20.9 0 41.8 2.5 62.7 4.9 13.9 1.5 27.8 5.6 41.7 7.6 16.3 2.3 32.5 4.3 48.8 5.6M988.9 248.7c24.7-9.1 49.4-9.1 74.1-9.1 13.4 0 26.9 9.6 40.3 11.9 11.6 1.9 23.2 4.1 34.8 4.1 10.7 0 21.4 0 32 0 17.2 0 34.4-1.4 51.5-2.7 17.7-1.4 35.3-7.7 52.9-7.7 21.7 0 43.4 4.9 65.1 4.9 18.6 0 37.1-8.2 55.7-11.9 13.9-2.7 27.8-6.9 41.7-7.6 15.8-0.8 31.6-1.4 47.4-1.4M988.9 230.6c17.3 0 34.5-0.6 51.8-1.4 13.9-0.6 27.8-3.2 41.7-5.6 14-2.3 27.9-8 41.8-9.7 15.3-1.9 30.6-3.9 45.9-3.9 34.8 0 69.6 0.5 104.4 1.1 26.4 0.4 52.7 1.2 79 2.8 13.9 0.8 27.9 3.3 41.8 5.6 13.9 2.2 27.8 7.3 41.7 8.3 15.8 1.2 31.6 2.1 47.4 2.1M989 272.5c25 5.4 50 7.5 75 7.5 26.3 0 52.7-9 79-11 42.3-3.3 84.7-6.5 127-6.5 31.7 0 63.3 7.7 95 11.1 21 2.3 42 6.4 63 6.4 18.7 0 37.3-2.7 56-7M989 297c25-4.6 50-7.6 75-7.6 31.7 0 63.3 7.9 95 7.9 31.7 0 63.3-17.3 95-17.3 31.7 0 63.3 0 95 0 26.3 0 52.7 9.1 79 12.6 18.7 2.5 37.3 4.6 56 6.4M988.9 863.7c3.3-1.5 6.7-3.8 10-6.7 4.7-3.9 9.3-11.6 13.9-16.7 3.3-3.5 6.5-6.5 9.8-9.7 6-6 12-13.5 18.1-18.1 9.3-7.1 18.5-11.4 27.8-16.7 9.3-5.3 18.6-10.2 27.9-15.3 9.2-5.1 18.5-10 27.8-15.3 7-4 13.9-9.5 20.9-12.6 4.6-2 9.3-4.3 13.9-4.8 7-0.8 13.9-1.2 20.9-1.4 9.3-0.4 18.5-0.3 27.8-0.7 9.3-0.5 18.6-8.2 27.9-9.8 9.2-1.5 18.5-2.7 27.8-3 4.6-0.2 9.3-0.2 13.9-0.3 12-0.3 24-1 35.9-1 10.7 0 21.3 9 32 14.9 14.2 7.9 28.4 19.2 42.6 29.8 14.2 10.6 28.4 22 42.6 34.1 7.1 6 14.2 15.2 21.3 19.2 7.1 3.9 14.2 7.1 21.3 8.5 3.7 0.7 7.4 1.3 11.1 1.5M988.9 839.8c5.7 0 11.3-1.1 17-2.2 5.5-1.2 11.1-4.1 16.7-7 6-3.1 12-8.6 18.1-12.5 9.3-6 18.5-11.4 27.8-16.7 9.3-5.4 18.6-10.5 27.9-15.4 9.2-4.8 18.5-9.4 27.8-13.9 7-3.3 13.9-7.6 20.9-9.7 6.9-2.2 13.9-4.1 20.9-4.9 9.2-1.1 18.5-1.1 27.8-2.1 13.9-1.4 27.8-4.6 41.8-6.9 9.2-1.6 18.5-4.5 27.8-4.9 4.6-0.2 9.3-0.4 13.9-0.4 8.4 0 16.9 3 25.3 5.4 14.2 4 28.4 11.9 42.6 19.2 14.2 7.3 28.4 16.4 42.6 25.6 14.2 9.1 28.4 17.8 42.6 29.8 7.1 5.9 14.2 15.4 21.3 21.3 7.1 5.8 14.2 11.5 21.3 14.9 3.7 1.8 7.4 3.2 11.1 4.2M988.9 794.7c8.4 0 16.9-1.5 25.3-3.4 7.5-1.7 15-9.6 22.6-15.8 7.5-6.2 15-15.5 22.5-22.6 7.6-7.1 15.1-16.5 22.6-20.3 7.5-3.8 15.1-7.9 22.6-7.9 11.3 0 22.6 1.7 33.9 2.2 10.5 0.5 21 1.2 31.6 1.2 12 0 24.1-0.5 36.1-1.2 11.3-0.6 22.6-6.7 33.9-9 11.6-2.4 23.3-5.6 35-5.6 9.2 0 18.4 1 27.6 2.2 14.2 1.9 28.4 11.1 42.6 17.1 14.2 6 28.4 12.6 42.6 19.2 10.6 4.8 21.3 8.5 31.9 14.9 7.1 4.2 14.2 12.9 21.3 17 7.1 4.1 14.2 8.4 21.3 9.6 7.3 1.2 14.5 2.1 21.8 2.1M988.9 775.5c12.2 0 24.4-1.7 36.6-3.4 15-2.1 30.1-10.2 45.1-14.7 15.1-4.5 30.1-10.5 45.2-12.4 18-2.4 36.1-2.5 54.2-4.5 12-1.4 24.1-3.1 36.1-5.7 11.3-2.4 22.6-9.3 33.9-11.3 11.6-2 23.3-4 35-4 9.2 0 18.4 4.8 27.6 5.7 10.6 1.1 21.3 2.1 31.9 2.1 10.7 0 21.3-1 32-1 10.6 0 21.3 3.8 31.9 7.4 10.7 3.6 21.3 12.8 32 19.2 7.1 4.2 14.2 9.9 21.3 12.8 7.1 2.8 14.2 5.4 21.3 6.4 3.7 0.5 7.4 0.9 11.1 1M988.9 769.8c8.4-1.6 16.9-4.5 25.3-7.9 11.3-4.5 22.6-13.9 33.8-20.3 11.3-6.4 22.6-9.8 33.9-18.1 7.5-5.5 15.1-16.5 22.6-24.8 7.5-8.3 15-16.9 22.6-24.8 7.5-7.9 15-18.9 22.6-22.6 6.7-3.4 13.5-6.8 20.3-6.8 19.5 0 39.1 2.8 58.7 4.5 15.4 1.4 30.8 4.5 46.3 4.5 16.3 0 32.6-9.2 48.9-9.2 14.2 0 28.4 8.5 42.6 8.5 21.3 0 42.6-3.2 63.9-3.2 17.9 0 35.8 0.7 53.7 2.1M988.9 699.8c19.7-2.6 39.4-5 59.1-5.6 22.6-0.7 45.2-1.1 67.8-1.1 18 0 36.1 7.4 54.2 7.4 19.5 0 39.1 0 58.7 0 15.4 0 30.8-4.1 46.3-4.1 12.7 0 25.5 0.6 38.2 1.1 10.7 0.4 21.3 0.8 32 2.1 7.1 0.9 14.2 6.1 21.3 10.7 7.1 4.6 14.2 12.4 21.3 19.2 7.1 6.7 14.2 15.4 21.3 21.3 7.1 5.8 14.2 11.9 21.3 14.9 7.1 2.9 14.2 6.4 21.3 6.4 10.8 0 21.6 0 32.4 0M988.9 688.5c27.2-2.3 54.5-3.3 81.7-3.3 33.1 0 66.3 5.6 99.4 5.6 35 0 70-1.3 105-2.3 23.4-0.6 46.8-2.7 70.2-2.7 21.3 0 42.6 3.4 63.9 5.3 25 2.3 50 4.8 75 7.5M988.9 680.6c27.2-3 54.5-4.5 81.7-4.5 33.1 0 66.3 6.8 99.4 6.8 35 0 70-1.1 105-1.1 30.5 0 61 2.6 91.5 4 39.2 1.7 78.4 3.5 117.6 5.3M988.9 669.4c27.2-1.7 54.5-2.3 81.7-2.3 33.1 0 66.3 3.9 99.4 4.5 35 0.6 70 1.1 105 1.1 23.4 0 46.8-2.9 70.2-2.9 21.3 0 42.6 4.4 63.9 6.4 25 2.3 50 4.5 75 6.4M988.9 652.4c27.2 1.1 54.5 2.2 81.7 3.4 33.1 1.4 66.3 4.5 99.4 4.5 35 0 70 0 105 0 14.9 0 29.7-5.4 44.6-5.4 15.7 0 31.3 8.4 46.9 10.7 21.3 3 42.6 6.3 63.9 6.3 17.9 0 35.8 0 53.7 0M898 106.4L989 106.6M898 195.2H989M898 196.6H989M898 217.8H989M898 221.6H989M898 224.2H989M898 232.8H989M898 235.5H989M898 238.2H989M898 284.3L989 289.2M898 878.2L989 839.8M898 878.2L989 801.4M898 878.2L989 801.9M898 802.6L989 839.8M898 802.6L989 775.5M898 803L989 775.9M898 759.2L989 772.1"/>
<path d="M898 759.7L989 772.8M898 730.3L989 801.4M898 730.3L989 675.2M898 697.6L989 699.8M898 688.5H989M898 685.2L989 680.6M898 671.6H989M898 650.2L989 669.4M898 644.5L989 652.4M1484 255.9C1516.8 255.9 1542.2 243.1 1575 243.1M1484 255.9C1516.8 255.9 1542.2 261.9 1575 261.9M1484 268.2C1516.8 268.2 1542.2 262.6 1575 262.6M1484 268.2C1516.8 268.2 1542.2 277.2 1575 277.2M1484 296C1516.8 296 1542.2 289.8 1575 289.8M1484 298.8C1516.8 298.8 1542.2 303 1575 303M1484 303C1516.8 303 1542.2 305.8 1575 305.8M1484 308.6H1575M1484 311.4C1516.8 311.4 1542.2 314.1 1575 314.1M1484 319.7C1516.8 319.7 1542.2 315.5 1575 315.5M1484 320.4C1516.8 320.4 1542.2 322.5 1575 322.5M1484 321C1516.8 321 1542.2 324.6 1575 324.6M1484 337.8C1516.8 337.8 1542.2 332.2 1575 332.2M1484 339.2C1516.8 339.2 1542.2 346.2 1575 346.2M1484 347.6H1575M1484 350.3C1516.8 350.3 1542.2 351 1575 351M1484 353H1575M1484 355.2C1516.8 355.2 1542.2 356 1575 356M1484 358.7C1516.8 358.7 1542.2 364.3 1575 364.3M1484 362.9C1516.8 362.9 1542.2 367 1575 367M1484 376.1C1516.8 376.1 1542.2 375.4 1575 375.4M1484 378.2C1516.8 378.2 1542.2 382.4 1575 382.4M1484 385.2C1516.8 385.2 1542.2 382.4 1575 382.4M1484 386.6C1516.8 386.6 1542.2 390.7 1575 390.7M1484 394.2C1516.8 394.2 1542.2 392.1 1575 392.1M1484 757.1H1575M1484 749.1H1575M1484 745.4H1575M1484 740.1C1516.8 740.1 1542.2 739 1575 739M1484 727.3C1516.8 727.3 1542.2 720.9 1575 720.9M1484 727.3C1516.8 727.3 1542.2 731.6 1575 731.6"/>
<path d="M1484 698.6C1516.8 698.6 1542.2 696.4 1575 696.4M1484 694.3H1575M1484 691.1H1575M1484 688.6H1575M1484 684.7H1575M1484 681.5H1575M1484 678.3H1575M1484 671.9H1575M1484 661.3H1575M1484 643.2C1516.8 643.2 1542.2 648.5 1575 648.5M1575 241.7H1666M1575 259.8H1666M1575 282.1C1607.8 282.1 1633.2 277.9 1666 277.9M1575 282.1C1607.8 282.1 1633.2 286.3 1666 286.3M1575 296C1607.8 296 1633.2 295.6 1666 295.6M1575 305.8H1666M1575 309.5H1666M1575 312H1666M1575 318.5H1666M1575 322H1666M1575 330H1666M1575 334C1607.8 334 1633.2 334.5 1666 334.5M1575 346C1607.8 346 1633.2 345 1666 345M1575 349.5H1666M1575 353C1607.8 353 1633.2 353.5 1666 353.5M1575 355.5C1607.8 355.5 1633.2 356 1666 356M1575 369.8C1607.8 369.8 1633.2 368.5 1666 368.5M1575 371.2C1607.8 371.2 1633.2 372.6 1666 372.6M1575 372.6C1607.8 372.6 1633.2 389.3 1666 389.3M1575 390C1607.8 390 1633.2 390.7 1666 390.7M1575 742.2C1607.8 742.2 1633.2 739 1666 739M1575 733.7C1607.8 733.7 1633.2 732.7 1666 732.7M1575 720.9C1607.8 720.9 1633.2 722 1666 722M1575 712.4C1607.8 712.4 1633.2 709.2 1666 709.2M1575 695H1666M1575 692.2H1666M1575 689H1666M1575 686.4H1666M1575 677.3H1666M1575 674.1C1607.8 674.1 1633.2 673 1666 673"/>
<path d="M1575 670.9C1607.8 670.9 1633.2 669.8 1666 669.8M1575 664.5H1666M1575 661.3H1666M1575 658.7H1666M1575 652.8H1666"/>
</g>
<path d="M342 878.5H1727" stroke="#808080" stroke-width="3.1" fill="none"/>
<path d="M1771.6 100.6L1774.8 107.0L1779.1 115.5L1787.6 124.1L1800.4 129.4L1815.3 132.6L1835.5 135.8L1771.6 139.4L1771.6 194.3L1778.0 202.8L1785.5 209.2L1798.2 211.8L1851.5 213.5L1889.1 216.0L1847.2 218.8L1823.8 221.6L1815.3 226.3L1813.1 229.5L1798.2 233.1L1790.8 236.9L1796.1 242.2L1800.4 249.3L1788.6 253.9L1790.8 260.3L1785.5 266.7L1789.7 271.0L1787.6 277.4L1786.5 282.7L1787.6 284.2L1770.5 286.9L1787.6 293.3L1881.3 294.4L1983.5 295.9L1821.6 299.1L1881.3 301.8L2180.0 305.0L1877.0 307.2L1868.5 309.3L1844.0 319.9L1772.7 326.3L1851.5 329.5L1906.8 335.9L1864.2 339.1L1870.6 341.1L1924.9 348.1L1807.8 350.6L1960.5 354.3L1821.6 358.1L1874.9 363.0L1847.2 366.6L1889.8 369.8L1816.3 381.5L1904.7 385.1L1839.7 391.1L1898.3 403.2L1932.4 412.4L1917.5 415.6L1932.4 418.8L1883.4 421.5L1890.8 424.7L1840.8 427.9L1919.6 436.9L1862.1 440.1L1943.0 443.7L1911.1 448.6L1949.4 452.8L1913.2 457.1L1932.4 467.7L1884.5 473.7L1900.4 476.3L1885.5 480.1L1906.8 486.9L1881.3 492.2L1930.2 498.6L1836.5 501.8L2027.7 504.6L1932.4 510.3L1940.9 514.2L1883.4 523.1L1799.3 532.3L1935.5 541.2L1895.1 545.5L1919.6 547.6L1866.4 550.8L1891.9 555.0L1877.0 559.3L1936.6 565.7L2007.9 572.1L1919.6 575.3L1960.0 578.5L1928.1 581.6L1960.0 584.8L1828.0 587.6L1872.7 596.5L1972.8 600.0L1894.0 602.8L1935.5 615.5L1838.7 621.9L1919.6 624.5L1850.4 627.9L1906.8 636.8L1851.5 641.1L1851.5 646.4L1784.4 654.9L1877.0 664.5L1825.9 673.7L1853.6 676.9L1840.8 680.5L1902.5 683.7L1821.6 688.4L1806.7 691.1L1791.8 696.5L1800.4 705.0L1832.3 710.7L1818.5 713.1L1838.7 717.1L1834.4 719.9L1853.2 723.1L1816.3 725.8L1832.3 729.0L1805.7 734.8L1809.9 740.1L1796.1 747.5L1827.6 750.7L1808.9 756.1L1817.4 759.7L1800.4 765.6L1808.9 769.9L1798.2 775.2L1796.1 780.5L1801.4 784.2L1791.8 789.1L1796.1 796.5L1789.7 800.8L1794.0 807.2L1788.6 812.5L1790.8 814.6L1774.8 821.0L1779.1 834.8L1776.4 843.8L1774.8 861.9L1774.6 879.5L1774.8 893.9L1775.9 904.5L1779.1 918.4L1782.3 929.0L1785.5 934.9L1789.7 938.6L1796.1 941.8" stroke="#808080" stroke-width="4.17" fill="none" stroke-linejoin="round" stroke-linecap="square"/>
<path d="M1770.5 103.8L1773.7 115.5L1776.9 126.2L1783.3 135.8L1794.0 143.2L1808.9 146.4L1834.4 147.9L1771.6 153.9L1771.6 183.7L1773.7 190.1L1779.1 195.4L1780.1 198.6L1787.6 202.8L1808.9 206.0L1838.7 209.7L1853.6 212.8L1808.9 216.7L1786.5 221.6L1808.9 224.6L1833.4 227.3L1817.4 231.6L1806.7 235.2L1790.8 239.0L1783.3 241.6L1798.2 245.0L1824.8 249.7L1798.2 255.0L1770.5 261.0L1808.9 262.5L1857.8 264.2L1830.2 265.6L1806.7 268.4L1798.2 272.0L1790.8 274.2L1786.5 278.4L1808.9 281.6L1818.5 284.8L1818.5 290.1L1807.8 292.3L1881.3 294.8L1855.7 297.6L1953.6 302.9L1930.2 306.1L1976.0 308.9L1872.7 311.4L1790.8 314.6L1825.9 319.9L1845.1 323.1L1838.7 325.3L1881.3 328.9L1818.5 331.6L1862.1 334.8L1806.7 341.1L1869.5 343.2L1836.5 348.5L1891.9 351.1L1827.0 354.5L1887.6 357.5L1814.2 362.4L1849.3 367.7L1815.3 371.5L1880.2 373.6L1832.3 379.4L1818.5 384.7L1832.3 388.5L1817.4 391.1L1825.9 394.3L1866.4 398.5L1856.8 402.2L1897.2 408.1L1855.7 414.1L1860.0 416.6L1851.5 420.9L1839.7 425.2L1900.4 431.1L1887.6 438.4L1906.8 444.3L1934.5 447.9L1899.4 450.7L1915.3 453.9L1839.7 459.2L1946.2 464.5L1878.1 467.7L1981.3 473.1L1906.8 478.8L1968.5 481.6L1904.7 484.8L1967.5 490.1L1910.0 498.6L1967.5 507.1L1934.5 509.9L1948.3 512.9L1882.3 518.2L1929.2 521.0L1914.3 523.5L1959.0 527.4L1884.5 529.5L1911.1 532.7L1848.3 538.0L1926.0 543.3L1929.2 546.5L1894.0 552.9L2009.0 560.8L1872.1 563.5L1950.5 566.1L1901.5 569.5L1931.3 571.6L1838.7 577.4L1870.6 580.6L1824.8 583.3L1903.6 588.5L1836.5 592.3L1894.0 594.4L1905.7 598.7L1832.3 606.0L1921.7 609.2L1845.1 611.3L1926.0 614.5L1865.3 617.7L1910.0 620.9L1863.2 626.2L1884.5 630.5L1833.4 635.8L1855.7 640.0L1824.8 646.4L1809.9 653.4L1821.6 658.1L1830.2 663.5L1865.3 668.3L1828.0 670.9L1875.9 674.1L1881.3 678.4L1902.5 682.6L1836.5 685.4L1934.5 688.4L1855.7 693.9L1847.2 696.5L1864.2 699.6L1785.5 701.8L1779.1 707.1L1784.4 712.4L1802.5 717.1L1798.2 719.2L1809.9 722.4L1806.7 729.5L1813.1 736.9L1808.9 741.6L1822.7 748.0L1806.7 758.2L1797.2 763.5L1789.7 771.0L1784.4 783.7L1779.1 799.7L1775.9 815.7L1773.7 832.7L1773.2 840.6L1772.1 856.6L1771.8 877.4" stroke="#0000ff" stroke-width="4.17" fill="none" stroke-linejoin="round" stroke-linecap="square"/>
<rect x="1439" y="86" width="265" height="150.7" fill="#fff" stroke="#000" stroke-width="1.8"/>
<path d="M1458.6 126h50.4" stroke="#808080" stroke-width="4.17" stroke-dasharray="15.4 6.67" fill="none"/>
<path d="M1458.6 189h50.4" stroke="#0000ff" stroke-width="4.17" stroke-linecap="square" fill="none"/>
<text transform="translate(1530.0,144.5) scale(1.072,1)" font-size="53.2" text-anchor="start">1x1x1</text>
<text transform="translate(1530.5,207.1) scale(1.069,1)" font-size="53.2" text-anchor="start">2x2x1</text>
<g stroke="#000" stroke-width="4.17" fill="none" stroke-linecap="butt">
<rect x="340" y="61" width="1389" height="924" stroke-linejoin="miter"/>
<rect x="1751" y="61" width="449" height="924" stroke-linejoin="miter"/>
<path d="M403 61v20M403 985v-20M584 61v20M584 985v-20M689 61v20M689 985v-20M898 61v20M898 985v-20M989 61v20M989 985v-20M1170 61v20M1170 985v-20M1275 61v20M1275 985v-20M1484 61v20M1484 985v-20M1575 61v20M1575 985v-20M1666 61v20M1666 985v-20M340 878.0h20M1729 878.0h-20M1751 878.0h20M2200 878.0h-20M340 718.7h20M1729 718.7h-20M1751 718.7h20M2200 718.7h-20M340 559.5h20M1729 559.5h-20M1751 559.5h20M2200 559.5h-20M340 400.2h20M1729 400.2h-20M1751 400.2h20M2200 400.2h-20M340 241.0h20M1729 241.0h-20M1751 241.0h20M2200 241.0h-20M340 81.7h20M1729 81.7h-20M1751 81.7h20M2200 81.7h-20M1772 61v20M1772 985v-20M2167 61v20M2167 985v-20"/>
</g>
<text transform="translate(308.0,901.3) scale(1.032,1)" font-size="63.8" text-anchor="end">0</text>
<text transform="translate(308.0,742.0) scale(1.032,1)" font-size="63.8" text-anchor="end">200</text>
<text transform="translate(308.0,582.8) scale(1.032,1)" font-size="63.8" text-anchor="end">400</text>
<text transform="translate(308.0,423.5) scale(1.032,1)" font-size="63.8" text-anchor="end">600</text>
<text transform="translate(308.0,264.3) scale(1.032,1)" font-size="63.8" text-anchor="end">800</text>
<text transform="translate(308.0,105.0) scale(1.032,1)" font-size="63.8" text-anchor="end">1000</text>
<text transform="translate(404.1,1059.0) scale(0.990,1)" font-size="62.0" text-anchor="middle">Γ</text>
<text transform="translate(586.9,1059.0) scale(0.953,1)" font-size="62.0" text-anchor="middle">M</text>
<text transform="translate(689.2,1059.0) scale(0.948,1)" font-size="62.0" text-anchor="middle">K</text>
<text transform="translate(898.5,1059.0) scale(0.990,1)" font-size="62.0" text-anchor="middle">Γ</text>
<text transform="translate(988.9,1059.0) scale(0.939,1)" font-size="62.0" text-anchor="middle">A</text>
<text transform="translate(1171.1,1059.0) scale(1.010,1)" font-size="62.0" text-anchor="middle">L</text>
<text transform="translate(1278.2,1059.0) scale(0.953,1)" font-size="62.0" text-anchor="middle">H</text>
<text transform="translate(1666.3,1059.0) scale(0.948,1)" font-size="62.0" text-anchor="middle">K</text>
<text transform="translate(1461.9,1045.3) scale(0.939,1)" font-size="43.4" text-anchor="middle">A</text>
<text transform="translate(1509.7,1076.0) scale(1.010,1)" font-size="43.4" text-anchor="middle">L</text>
<text transform="translate(1550.5,1045.3) scale(0.953,1)" font-size="43.4" text-anchor="middle">M</text>
<text transform="translate(1605.0,1076.0) scale(0.953,1)" font-size="43.4" text-anchor="middle">H</text>
<path d="M1481.2 1070.9L1494.5 1023.5M1573.5 1070.9L1586.2 1023.5" stroke="#000" stroke-width="5.6" fill="none"/>
<text transform="translate(1772.9,1059.8) scale(0.967,1)" font-size="65.5" text-anchor="middle">0</text>
<text transform="translate(2165.6,1059.8) scale(0.980,1)" font-size="65.5" text-anchor="middle">1</text>
<text transform="translate(1976.4,1150.2) scale(1.017,1)" font-size="62.0" text-anchor="middle">DOS (a.u.)</text>
<text transform="translate(112.0,783.5) rotate(-90) scale(1.047,1)" font-size="62.0">Frequency</text>
<text transform="translate(112.0,457.7) rotate(-90) scale(1.082,1)" font-size="62.0">(cm</text>
<rect x="74.8" y="315.9" width="4.2" height="25.8" fill="#000"/>
<text transform="translate(90.5,309.6) rotate(-90) scale(0.920,1)" font-size="44.9">1</text>
<text transform="translate(112.0,279.6) rotate(-90) scale(0.840,1)" font-size="62.0">)</text>
</svg>
</body></html>
